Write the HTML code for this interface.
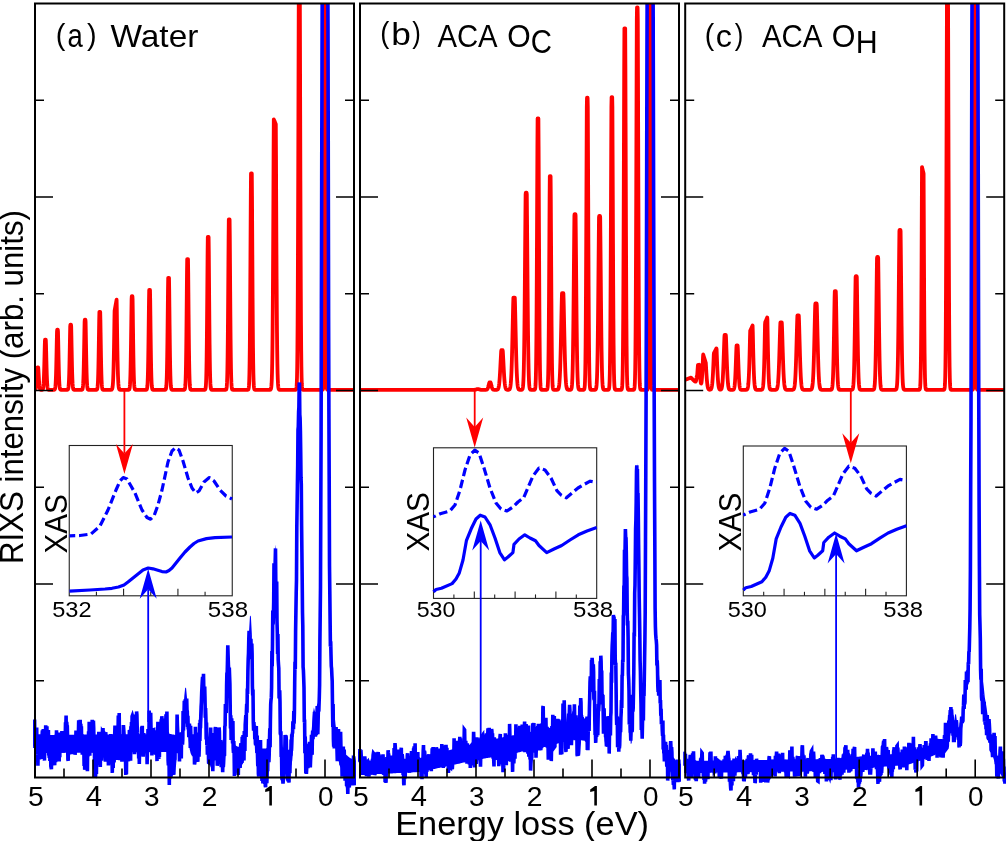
<!DOCTYPE html>
<html><head><meta charset="utf-8"><style>html,body{margin:0;padding:0;background:#fff;overflow:hidden}svg{display:block}</style></head>
<body><svg style="will-change:transform" width="1006" height="841" viewBox="0 0 1006 841">
<rect width="1006" height="841" fill="#fff"/>
<clipPath id="b0"><rect x="33.0" y="3.5" width="323.0" height="841.0"/></clipPath>
<clipPath id="b1"><rect x="358.0" y="3.5" width="323.0" height="841.0"/></clipPath>
<clipPath id="b2"><rect x="683.2" y="3.5" width="323.0" height="841.0"/></clipPath>
<clipPath id="c0"><rect x="35.0" y="3.5" width="319.0" height="774.0"/></clipPath>
<clipPath id="c1"><rect x="360.0" y="3.5" width="319.0" height="774.0"/></clipPath>
<clipPath id="c2"><rect x="685.2" y="3.5" width="319.0" height="774.0"/></clipPath>
<polyline clip-path="url(#c0)" points="34.00,389.80 34.20,389.80 34.40,389.79 34.60,389.78 34.80,389.75 35.00,389.69 35.20,389.56 35.40,389.32 35.60,388.90 35.80,388.19 36.00,387.08 36.20,385.44 36.40,383.19 36.60,380.33 36.80,376.96 37.00,373.33 37.20,369.81 37.40,367.50 37.60,367.50 37.80,367.50 38.00,367.50 38.20,367.50 38.40,369.81 38.60,373.33 38.80,376.96 39.00,380.33 39.20,383.19 39.40,385.44 39.60,387.08 39.80,388.19 40.00,388.90 40.20,389.32 40.40,389.56 40.60,389.69 40.80,389.75 41.00,389.78 41.20,389.79 41.40,389.80 41.60,389.80 41.80,389.79 42.00,389.78 42.20,389.75 42.40,389.69 42.60,389.55 42.80,389.26 43.00,388.73 43.20,387.78 43.40,386.18 43.60,383.68 43.80,380.00 44.00,374.96 44.20,368.53 44.40,360.96 44.60,352.80 44.80,344.89 45.00,339.70 45.20,339.70 45.40,339.70 45.60,339.70 45.80,339.70 46.00,344.89 46.20,352.80 46.40,360.96 46.60,368.53 46.80,374.96 47.00,380.00 47.20,383.68 47.40,386.18 47.60,387.78 47.80,388.73 48.00,389.26 48.20,389.55 48.40,389.69 48.60,389.75 48.80,389.78 49.00,389.79 49.20,389.80 49.40,389.80 49.60,389.80 49.80,389.80 50.00,389.80 50.20,389.80 50.40,389.80 50.60,389.80 50.80,389.80 51.00,389.80 51.20,389.80 51.40,389.80 51.60,389.80 51.80,389.80 52.00,389.80 52.20,389.80 52.40,389.80 52.60,389.80 52.80,389.80 53.00,389.80 53.20,389.80 53.40,389.80 53.60,389.80 53.80,389.79 54.00,389.79 54.20,389.76 54.40,389.71 54.60,389.59 54.80,389.35 55.00,388.89 55.20,388.02 55.40,386.53 55.60,384.12 55.80,380.45 56.00,375.23 56.20,368.34 56.40,359.88 56.60,350.34 56.80,340.56 57.00,331.67 57.20,329.70 57.40,329.70 57.60,329.70 57.80,329.70 58.00,331.67 58.20,340.56 58.40,350.34 58.60,359.88 58.80,368.34 59.00,375.23 59.20,380.45 59.40,384.12 59.60,386.53 59.80,388.02 60.00,388.89 60.20,389.35 60.40,389.59 60.60,389.71 60.80,389.76 61.00,389.79 61.20,389.79 61.40,389.80 61.60,389.80 61.80,389.80 62.00,389.80 62.20,389.80 62.40,389.80 62.60,389.80 62.80,389.80 63.00,389.80 63.20,389.80 63.40,389.80 63.60,389.80 63.80,389.80 64.00,389.80 64.20,389.80 64.40,389.80 64.60,389.80 64.80,389.80 65.00,389.80 65.20,389.80 65.40,389.80 65.60,389.80 65.80,389.80 66.00,389.80 66.20,389.80 66.40,389.80 66.60,389.80 66.80,389.80 67.00,389.79 67.20,389.78 67.40,389.76 67.60,389.70 67.80,389.58 68.00,389.32 68.20,388.81 68.40,387.87 68.60,386.26 68.80,383.63 69.00,379.65 69.20,374.00 69.40,366.52 69.60,357.35 69.80,346.99 70.00,336.38 70.20,326.73 70.40,324.60 70.60,324.60 70.80,324.60 71.00,324.60 71.20,326.73 71.40,336.38 71.60,346.99 71.80,357.35 72.00,366.52 72.20,374.00 72.40,379.65 72.60,383.63 72.80,386.26 73.00,387.87 73.20,388.81 73.40,389.32 73.60,389.58 73.80,389.70 74.00,389.76 74.20,389.78 74.40,389.79 74.60,389.80 74.80,389.80 75.00,389.80 75.20,389.80 75.40,389.80 75.60,389.80 75.80,389.80 76.00,389.80 76.20,389.80 76.40,389.80 76.60,389.80 76.80,389.80 77.00,389.80 77.20,389.80 77.40,389.80 77.60,389.80 77.80,389.80 78.00,389.80 78.20,389.80 78.40,389.80 78.60,389.80 78.80,389.80 79.00,389.80 79.20,389.80 79.40,389.80 79.60,389.80 79.80,389.80 80.00,389.80 80.20,389.80 80.40,389.80 80.60,389.80 80.80,389.80 81.00,389.80 81.20,389.80 81.40,389.79 81.60,389.78 81.80,389.76 82.00,389.70 82.20,389.56 82.40,389.28 82.60,388.73 82.80,387.72 83.00,385.98 83.20,383.16 83.40,378.87 83.60,372.79 83.80,364.73 84.00,354.86 84.20,343.71 84.40,332.29 84.60,321.90 84.80,319.60 85.00,319.60 85.20,319.60 85.40,319.60 85.60,321.90 85.80,332.29 86.00,343.71 86.20,354.86 86.40,364.73 86.60,372.79 86.80,378.87 87.00,383.16 87.20,385.98 87.40,387.72 87.60,388.73 87.80,389.28 88.00,389.56 88.20,389.70 88.40,389.76 88.60,389.78 88.80,389.79 89.00,389.80 89.20,389.80 89.40,389.80 89.60,389.80 89.80,389.80 90.00,389.80 90.20,389.80 90.40,389.80 90.60,389.80 90.80,389.80 91.00,389.80 91.20,389.80 91.40,389.80 91.60,389.80 91.80,389.80 92.00,389.80 92.20,389.80 92.40,389.80 92.60,389.80 92.80,389.80 93.00,389.80 93.20,389.80 93.40,389.80 93.60,389.80 93.80,389.80 94.00,389.80 94.20,389.80 94.40,389.80 94.60,389.80 94.80,389.80 95.00,389.80 95.20,389.80 95.40,389.80 95.60,389.80 95.80,389.80 96.00,389.80 96.20,389.79 96.40,389.77 96.60,389.73 96.80,389.62 97.00,389.41 97.20,388.97 97.40,388.14 97.60,386.66 97.80,384.18 98.00,380.28 98.20,374.57 98.40,366.72 98.60,356.73 98.80,344.96 99.00,332.27 99.20,319.97 99.40,311.90 99.60,311.90 99.80,311.90 100.00,311.90 100.20,311.90 100.40,319.97 100.60,332.27 100.80,344.96 101.00,356.73 101.20,366.72 101.40,374.57 101.60,380.28 101.80,384.18 102.00,386.66 102.20,388.14 102.40,388.97 102.60,389.41 102.80,389.62 103.00,389.73 103.20,389.77 103.40,389.79 103.60,389.80 103.80,389.80 104.00,389.80 104.20,389.80 104.40,389.80 104.60,389.80 104.80,389.80 105.00,389.80 105.20,389.80 105.40,389.80 105.60,389.80 105.80,389.80 106.00,389.80 106.20,389.80 106.40,389.80 106.60,389.80 106.80,389.80 107.00,389.80 107.20,389.80 107.40,389.80 107.60,389.80 107.80,389.80 108.00,389.80 108.20,389.80 108.40,389.80 108.60,389.80 108.80,389.80 109.00,389.80 109.20,389.80 109.40,389.80 109.60,389.80 109.80,389.80 110.00,389.80 110.20,389.80 110.40,389.80 110.60,389.80 110.80,389.79 111.00,389.78 111.20,389.76 111.40,389.72 111.60,389.64 111.80,389.49 112.00,389.22 112.20,388.77 112.40,388.03 112.60,386.84 112.80,385.02 113.00,382.33 113.20,378.50 113.40,373.28 113.60,366.42 113.80,357.80 114.00,347.41 114.20,335.09 114.40,321.00 114.60,310.73 114.80,309.63 115.00,308.52 115.20,307.41 115.40,306.31 115.60,305.20 115.80,304.09 116.00,302.99 116.20,301.88 116.40,300.77 116.60,299.67 116.80,309.28 117.00,324.06 117.20,338.19 117.40,350.83 117.60,361.34 117.80,369.68 118.00,376.05 118.20,380.70 118.40,383.98 118.60,386.19 118.80,387.64 119.00,388.55 119.20,389.10 119.40,389.42 119.60,389.60 119.80,389.70 120.00,389.75 120.20,389.78 120.40,389.79 120.60,389.80 120.80,389.80 121.00,389.80 121.20,389.80 121.40,389.80 121.60,389.80 121.80,389.80 122.00,389.80 122.20,389.80 122.40,389.80 122.60,389.80 122.80,389.80 123.00,389.80 123.20,389.80 123.40,389.80 123.60,389.80 123.80,389.80 124.00,389.80 124.20,389.80 124.40,389.80 124.60,389.80 124.80,389.80 125.00,389.80 125.20,389.80 125.40,389.80 125.60,389.80 125.80,389.80 126.00,389.80 126.20,389.80 126.40,389.80 126.60,389.80 126.80,389.80 127.00,389.80 127.20,389.80 127.40,389.80 127.60,389.80 127.80,389.80 128.00,389.80 128.20,389.80 128.40,389.79 128.60,389.78 128.80,389.74 129.00,389.66 129.20,389.48 129.40,389.11 129.60,388.37 129.80,387.03 130.00,384.71 130.20,380.94 130.40,375.22 130.60,367.09 130.80,356.34 131.00,343.16 131.20,328.28 131.40,313.03 131.60,299.16 131.80,296.10 132.00,296.10 132.20,296.10 132.40,296.10 132.60,299.16 132.80,313.03 133.00,328.28 133.20,343.16 133.40,356.34 133.60,367.09 133.80,375.22 134.00,380.94 134.20,384.71 134.40,387.03 134.60,388.37 134.80,389.11 135.00,389.48 135.20,389.66 135.40,389.74 135.60,389.78 135.80,389.79 136.00,389.80 136.20,389.80 136.40,389.80 136.60,389.80 136.80,389.80 137.00,389.80 137.20,389.80 137.40,389.80 137.60,389.80 137.80,389.80 138.00,389.80 138.20,389.80 138.40,389.80 138.60,389.80 138.80,389.80 139.00,389.80 139.20,389.80 139.40,389.80 139.60,389.80 139.80,389.80 140.00,389.80 140.20,389.80 140.40,389.80 140.60,389.80 140.80,389.80 141.00,389.80 141.20,389.80 141.40,389.80 141.60,389.80 141.80,389.80 142.00,389.80 142.20,389.80 142.40,389.80 142.60,389.80 142.80,389.80 143.00,389.80 143.20,389.80 143.40,389.80 143.60,389.80 143.80,389.80 144.00,389.80 144.20,389.80 144.40,389.80 144.60,389.80 144.80,389.80 145.00,389.80 145.20,389.80 145.40,389.80 145.60,389.80 145.80,389.79 146.00,389.79 146.20,389.76 146.40,389.70 146.60,389.57 146.80,389.29 147.00,388.73 147.20,387.67 147.40,385.77 147.60,382.60 147.80,377.61 148.00,370.28 148.20,360.24 148.40,347.43 148.60,332.35 148.80,316.10 149.00,300.34 149.20,290.00 149.40,290.00 149.60,290.00 149.80,290.00 150.00,290.00 150.20,300.34 150.40,316.10 150.60,332.35 150.80,347.43 151.00,360.24 151.20,370.28 151.40,377.61 151.60,382.60 151.80,385.77 152.00,387.67 152.20,388.73 152.40,389.29 152.60,389.57 152.80,389.70 153.00,389.76 153.20,389.79 153.40,389.79 153.60,389.80 153.80,389.80 154.00,389.80 154.20,389.80 154.40,389.80 154.60,389.80 154.80,389.80 155.00,389.80 155.20,389.80 155.40,389.80 155.60,389.80 155.80,389.80 156.00,389.80 156.20,389.80 156.40,389.80 156.60,389.80 156.80,389.80 157.00,389.80 157.20,389.80 157.40,389.80 157.60,389.80 157.80,389.80 158.00,389.80 158.20,389.80 158.40,389.80 158.60,389.80 158.80,389.80 159.00,389.80 159.20,389.80 159.40,389.80 159.60,389.80 159.80,389.80 160.00,389.80 160.20,389.80 160.40,389.80 160.60,389.80 160.80,389.80 161.00,389.80 161.20,389.80 161.40,389.80 161.60,389.80 161.80,389.80 162.00,389.80 162.20,389.80 162.40,389.80 162.60,389.80 162.80,389.80 163.00,389.80 163.20,389.80 163.40,389.80 163.60,389.80 163.80,389.80 164.00,389.80 164.20,389.80 164.40,389.80 164.60,389.80 164.80,389.79 165.00,389.78 165.20,389.76 165.40,389.69 165.60,389.55 165.80,389.23 166.00,388.60 166.20,387.41 166.40,385.28 166.60,381.72 166.80,376.13 167.00,367.92 167.20,356.65 167.40,342.30 167.60,325.39 167.80,307.16 168.00,289.49 168.20,277.90 168.40,277.90 168.60,277.90 168.80,277.90 169.00,277.90 169.20,289.49 169.40,307.16 169.60,325.39 169.80,342.30 170.00,356.65 170.20,367.92 170.40,376.13 170.60,381.72 170.80,385.28 171.00,387.41 171.20,388.60 171.40,389.23 171.60,389.55 171.80,389.69 172.00,389.76 172.20,389.78 172.40,389.79 172.60,389.80 172.80,389.80 173.00,389.80 173.20,389.80 173.40,389.80 173.60,389.80 173.80,389.80 174.00,389.80 174.20,389.80 174.40,389.80 174.60,389.80 174.80,389.80 175.00,389.80 175.20,389.80 175.40,389.80 175.60,389.80 175.80,389.80 176.00,389.80 176.20,389.80 176.40,389.80 176.60,389.80 176.80,389.80 177.00,389.80 177.20,389.80 177.40,389.80 177.60,389.80 177.80,389.80 178.00,389.80 178.20,389.80 178.40,389.80 178.60,389.80 178.80,389.80 179.00,389.80 179.20,389.80 179.40,389.80 179.60,389.80 179.80,389.80 180.00,389.80 180.20,389.80 180.40,389.80 180.60,389.80 180.80,389.80 181.00,389.80 181.20,389.80 181.40,389.80 181.60,389.80 181.80,389.80 182.00,389.80 182.20,389.80 182.40,389.80 182.60,389.80 182.80,389.80 183.00,389.80 183.20,389.80 183.40,389.80 183.60,389.80 183.80,389.79 184.00,389.78 184.20,389.75 184.40,389.67 184.60,389.50 184.80,389.14 185.00,388.40 185.20,387.01 185.40,384.52 185.60,380.36 185.80,373.83 186.00,364.24 186.20,351.08 186.40,334.31 186.60,314.56 186.80,293.28 187.00,272.64 187.20,259.10 187.40,259.10 187.60,259.10 187.80,259.10 188.00,259.10 188.20,272.64 188.40,293.28 188.60,314.56 188.80,334.31 189.00,351.08 189.20,364.24 189.40,373.83 189.60,380.36 189.80,384.52 190.00,387.01 190.20,388.40 190.40,389.14 190.60,389.50 190.80,389.67 191.00,389.75 191.20,389.78 191.40,389.79 191.60,389.80 191.80,389.80 192.00,389.80 192.20,389.80 192.40,389.80 192.60,389.80 192.80,389.80 193.00,389.80 193.20,389.80 193.40,389.80 193.60,389.80 193.80,389.80 194.00,389.80 194.20,389.80 194.40,389.80 194.60,389.80 194.80,389.80 195.00,389.80 195.20,389.80 195.40,389.80 195.60,389.80 195.80,389.80 196.00,389.80 196.20,389.80 196.40,389.80 196.60,389.80 196.80,389.80 197.00,389.80 197.20,389.80 197.40,389.80 197.60,389.80 197.80,389.80 198.00,389.80 198.20,389.80 198.40,389.80 198.60,389.80 198.80,389.80 199.00,389.80 199.20,389.80 199.40,389.80 199.60,389.80 199.80,389.80 200.00,389.80 200.20,389.80 200.40,389.80 200.60,389.80 200.80,389.80 201.00,389.80 201.20,389.80 201.40,389.80 201.60,389.80 201.80,389.80 202.00,389.80 202.20,389.80 202.40,389.80 202.60,389.80 202.80,389.80 203.00,389.80 203.20,389.80 203.40,389.80 203.60,389.80 203.80,389.80 204.00,389.80 204.20,389.80 204.40,389.79 204.60,389.78 204.80,389.74 205.00,389.65 205.20,389.45 205.40,389.03 205.60,388.17 205.80,386.54 206.00,383.63 206.20,378.77 206.40,371.13 206.60,359.92 206.80,344.54 207.00,324.93 207.20,301.84 207.40,276.96 207.60,252.83 207.80,237.00 208.00,237.00 208.20,237.00 208.40,237.00 208.60,237.00 208.80,252.83 209.00,276.96 209.20,301.84 209.40,324.93 209.60,344.54 209.80,359.92 210.00,371.13 210.20,378.77 210.40,383.63 210.60,386.54 210.80,388.17 211.00,389.03 211.20,389.45 211.40,389.65 211.60,389.74 211.80,389.78 212.00,389.79 212.20,389.80 212.40,389.80 212.60,389.80 212.80,389.80 213.00,389.80 213.20,389.80 213.40,389.80 213.60,389.80 213.80,389.80 214.00,389.80 214.20,389.80 214.40,389.80 214.60,389.80 214.80,389.80 215.00,389.80 215.20,389.80 215.40,389.80 215.60,389.80 215.80,389.80 216.00,389.80 216.20,389.80 216.40,389.80 216.60,389.80 216.80,389.80 217.00,389.80 217.20,389.80 217.40,389.80 217.60,389.80 217.80,389.80 218.00,389.80 218.20,389.80 218.40,389.80 218.60,389.80 218.80,389.80 219.00,389.80 219.20,389.80 219.40,389.80 219.60,389.80 219.80,389.80 220.00,389.80 220.20,389.80 220.40,389.80 220.60,389.80 220.80,389.80 221.00,389.80 221.20,389.80 221.40,389.80 221.60,389.80 221.80,389.80 222.00,389.80 222.20,389.80 222.40,389.80 222.60,389.80 222.80,389.80 223.00,389.80 223.20,389.80 223.40,389.80 223.60,389.80 223.80,389.80 224.00,389.80 224.20,389.80 224.40,389.80 224.60,389.80 224.80,389.80 225.00,389.80 225.20,389.80 225.40,389.79 225.60,389.78 225.80,389.73 226.00,389.64 226.20,389.41 226.40,388.94 226.60,387.98 226.80,386.16 227.00,382.93 227.20,377.51 227.40,369.00 227.60,356.50 227.80,339.35 228.00,317.50 228.20,291.77 228.40,264.03 228.60,237.14 228.80,219.50 229.00,219.50 229.20,219.50 229.40,219.50 229.60,219.50 229.80,237.14 230.00,264.03 230.20,291.77 230.40,317.50 230.60,339.35 230.80,356.50 231.00,369.00 231.20,377.51 231.40,382.93 231.60,386.16 231.80,387.98 232.00,388.94 232.20,389.41 232.40,389.64 232.60,389.73 232.80,389.78 233.00,389.79 233.20,389.80 233.40,389.80 233.60,389.80 233.80,389.80 234.00,389.80 234.20,389.80 234.40,389.80 234.60,389.80 234.80,389.80 235.00,389.80 235.20,389.80 235.40,389.80 235.60,389.80 235.80,389.80 236.00,389.80 236.20,389.80 236.40,389.80 236.60,389.80 236.80,389.80 237.00,389.80 237.20,389.80 237.40,389.80 237.60,389.80 237.80,389.80 238.00,389.80 238.20,389.80 238.40,389.80 238.60,389.80 238.80,389.80 239.00,389.80 239.20,389.80 239.40,389.80 239.60,389.80 239.80,389.80 240.00,389.80 240.20,389.80 240.40,389.80 240.60,389.80 240.80,389.80 241.00,389.80 241.20,389.80 241.40,389.80 241.60,389.80 241.80,389.80 242.00,389.80 242.20,389.80 242.40,389.80 242.60,389.80 242.80,389.80 243.00,389.80 243.20,389.80 243.40,389.80 243.60,389.80 243.80,389.80 244.00,389.80 244.20,389.80 244.40,389.80 244.60,389.80 244.80,389.80 245.00,389.80 245.20,389.80 245.40,389.80 245.60,389.80 245.80,389.80 246.00,389.80 246.20,389.80 246.40,389.80 246.60,389.80 246.80,389.80 247.00,389.80 247.20,389.80 247.40,389.80 247.60,389.79 247.80,389.77 248.00,389.72 248.20,389.59 248.40,389.31 248.60,388.70 248.80,387.49 249.00,385.18 249.20,381.07 249.40,374.18 249.60,363.38 249.80,347.50 250.00,325.73 250.20,297.97 250.40,265.29 250.60,230.06 250.80,195.91 251.00,173.50 251.20,173.50 251.40,173.50 251.60,173.50 251.80,173.50 252.00,195.91 252.20,230.06 252.40,265.29 252.60,297.97 252.80,325.73 253.00,347.50 253.20,363.38 253.40,374.18 253.60,381.07 253.80,385.18 254.00,387.49 254.20,388.70 254.40,389.31 254.60,389.59 254.80,389.72 255.00,389.77 255.20,389.79 255.40,389.80 255.60,389.80 255.80,389.80 256.00,389.80 256.20,389.80 256.40,389.80 256.60,389.80 256.80,389.80 257.00,389.80 257.20,389.80 257.40,389.80 257.60,389.80 257.80,389.80 258.00,389.80 258.20,389.80 258.40,389.80 258.60,389.80 258.80,389.80 259.00,389.80 259.20,389.80 259.40,389.80 259.60,389.80 259.80,389.80 260.00,389.80 260.20,389.80 260.40,389.80 260.60,389.80 260.80,389.80 261.00,389.80 261.20,389.80 261.40,389.80 261.60,389.80 261.80,389.80 262.00,389.80 262.20,389.80 262.40,389.80 262.60,389.80 262.80,389.80 263.00,389.80 263.20,389.80 263.40,389.80 263.60,389.80 263.80,389.80 264.00,389.80 264.20,389.80 264.40,389.80 264.60,389.80 264.80,389.80 265.00,389.80 265.20,389.80 265.40,389.80 265.60,389.80 265.80,389.80 266.00,389.80 266.20,389.80 266.40,389.80 266.60,389.80 266.80,389.80 267.00,389.80 267.20,389.80 267.40,389.80 267.60,389.80 267.80,389.80 268.00,389.80 268.20,389.80 268.40,389.80 268.60,389.80 268.80,389.80 269.00,389.80 269.20,389.80 269.40,389.80 269.60,389.79 269.80,389.79 270.00,389.77 270.20,389.73 270.40,389.65 270.60,389.50 270.80,389.22 271.00,388.69 271.20,387.75 271.40,386.14 271.60,383.48 271.80,379.26 272.00,372.78 272.20,363.20 272.40,349.59 272.60,330.99 272.80,306.58 273.00,275.88 273.20,238.92 273.40,196.63 273.60,150.75 273.80,119.38 274.00,119.86 274.20,120.33 274.40,120.80 274.60,121.28 274.80,121.75 275.00,122.22 275.20,122.70 275.40,123.17 275.60,123.64 275.80,124.12 276.00,155.76 276.20,201.35 276.40,242.86 276.60,278.86 276.80,308.76 277.00,332.53 277.20,350.64 277.40,363.89 277.60,373.22 277.80,379.53 278.00,383.65 278.20,386.24 278.40,387.80 278.60,388.72 278.80,389.23 279.00,389.51 279.20,389.66 279.40,389.73 279.60,389.77 279.80,389.79 280.00,389.79 280.20,389.80 280.40,389.80 280.60,389.80 280.80,389.80 281.00,389.80 281.20,389.80 281.40,389.80 281.60,389.80 281.80,389.80 282.00,389.80 282.20,389.80 282.40,389.80 282.60,389.80 282.80,389.80 283.00,389.80 283.20,389.80 283.40,389.80 283.60,389.80 283.80,389.80 284.00,389.80 284.20,389.80 284.40,389.80 284.60,389.80 284.80,389.80 285.00,389.80 285.20,389.80 285.40,389.80 285.60,389.80 285.80,389.80 286.00,389.80 286.20,389.80 286.40,389.80 286.60,389.80 286.80,389.80 287.00,389.80 287.20,389.80 287.40,389.80 287.60,389.80 287.80,389.80 288.00,389.80 288.20,389.80 288.40,389.80 288.60,389.80 288.80,389.80 289.00,389.80 289.20,389.80 289.40,389.80 289.60,389.80 289.80,389.80 290.00,389.80 290.20,389.80 290.40,389.80 290.60,389.80 290.80,389.80 291.00,389.80 291.20,389.80 291.40,389.80 291.60,389.80 291.80,389.80 292.00,389.80 292.20,389.80 292.40,389.80 292.60,389.80 292.80,389.80 293.00,389.80 293.20,389.80 293.40,389.80 293.60,389.80 293.80,389.80 294.00,389.80 294.20,389.80 294.40,389.80 294.60,389.80 294.80,389.80 295.00,389.80 295.20,389.80 295.40,389.79 295.60,389.76 295.80,389.70 296.00,389.54 296.20,389.18 296.40,388.37 296.60,386.70 296.80,383.44 297.00,377.43 297.20,367.06 297.40,350.25 297.60,324.70 297.80,288.42 298.00,240.43 298.20,181.58 298.40,115.17 298.60,47.10 298.80,-14.82 299.00,-28.50 299.20,-28.50 299.40,-28.50 299.60,-28.50 299.80,-14.82 300.00,47.10 300.20,115.17 300.40,181.58 300.60,240.43 300.80,288.42 301.00,324.70 301.20,350.25 301.40,367.06 301.60,377.43 301.80,383.44 302.00,386.70 302.20,388.37 302.40,389.18 302.60,389.54 302.80,389.70 303.00,389.76 303.20,389.79 303.40,389.80 303.60,389.80 303.80,389.80 304.00,389.80 304.20,389.80 304.40,389.80 304.60,389.80 304.80,389.80 305.00,389.80 305.20,389.80 305.40,389.80 305.60,389.80 305.80,389.80 306.00,389.80 306.20,389.80 306.40,389.80 306.60,389.80 306.80,389.80 307.00,389.80 307.20,389.80 307.40,389.80 307.60,389.80 307.80,389.80 308.00,389.80 308.20,389.80 308.40,389.80 308.60,389.80 308.80,389.80 309.00,389.80 309.20,389.80 309.40,389.80 309.60,389.80 309.80,389.80 310.00,389.80 310.20,389.80 310.40,389.80 310.60,389.80 310.80,389.80 311.00,389.80 311.20,389.80 311.40,389.80 311.60,389.80 311.80,389.80 312.00,389.80 312.20,389.80 312.40,389.80 312.60,389.80 312.80,389.80 313.00,389.80 313.20,389.80 313.40,389.80 313.60,389.80 313.80,389.80 314.00,389.80 314.20,389.80 314.40,389.80 314.60,389.80 314.80,389.80 315.00,389.80 315.20,389.80 315.40,389.80 315.60,389.80 315.80,389.80 316.00,389.80 316.20,389.80 316.40,389.80 316.60,389.80 316.80,389.80 317.00,389.80 317.20,389.80 317.40,389.80 317.60,389.80 317.80,389.80 318.00,389.80 318.20,389.80 318.40,389.80 318.60,389.80 318.80,389.80 319.00,389.80 319.20,389.80 319.40,389.80 319.60,389.80 319.80,389.80 320.00,389.80 320.20,389.80 320.40,389.80 320.60,389.80 320.80,389.80 321.00,389.80 321.20,389.80 321.40,389.80 321.60,389.80 321.80,389.80 322.00,389.80 322.20,389.80 322.40,389.79 322.60,389.76 322.80,389.63 323.00,389.14 323.20,387.47 323.40,382.64 323.60,370.50 323.80,344.22 324.00,295.48 324.20,218.79 324.40,118.14 324.60,11.71 324.80,-38.50 325.00,-38.50 325.20,-38.50 325.40,11.71 325.60,118.14 325.80,218.79 326.00,295.48 326.20,344.22 326.40,370.50 326.60,382.64 326.80,387.47 327.00,389.14 327.20,389.63 327.40,389.76 327.60,389.79 327.80,389.80 328.00,389.80 328.20,389.80 328.40,389.80 328.60,389.80 328.80,389.80 329.00,389.80 329.20,389.80 329.40,389.80 329.60,389.80 329.80,389.80 330.00,389.80 330.20,389.80 330.40,389.80 330.60,389.80 330.80,389.80 331.00,389.80 331.20,389.80 331.40,389.80 331.60,389.80 331.80,389.80 332.00,389.80 332.20,389.80 332.40,389.80 332.60,389.80 332.80,389.80 333.00,389.80 333.20,389.80 333.40,389.80 333.60,389.80 333.80,389.80 334.00,389.80 334.20,389.80 334.40,389.80 334.60,389.80 334.80,389.80 335.00,389.80 335.20,389.80 335.40,389.80 335.60,389.80 335.80,389.80 336.00,389.80 336.20,389.80 336.40,389.80 336.60,389.80 336.80,389.80 337.00,389.80 337.20,389.80 337.40,389.80 337.60,389.80 337.80,389.80 338.00,389.80 338.20,389.80 338.40,389.80 338.60,389.80 338.80,389.80 339.00,389.80 339.20,389.80 339.40,389.80 339.60,389.80 339.80,389.80 340.00,389.80 340.20,389.80 340.40,389.80 340.60,389.80 340.80,389.80 341.00,389.80 341.20,389.80 341.40,389.80 341.60,389.80 341.80,389.80 342.00,389.80 342.20,389.80 342.40,389.80 342.60,389.80 342.80,389.80 343.00,389.80 343.20,389.80 343.40,389.80 343.60,389.80 343.80,389.80 344.00,389.80 344.20,389.80 344.40,389.80 344.60,389.80 344.80,389.80 345.00,389.80 345.20,389.80 345.40,389.80 345.60,389.80 345.80,389.80 346.00,389.80 346.20,389.80 346.40,389.80 346.60,389.80 346.80,389.80 347.00,389.80 347.20,389.80 347.40,389.80 347.60,389.80 347.80,389.80 348.00,389.80 348.20,389.80 348.40,389.80 348.60,389.80 348.80,389.80 349.00,389.80 349.20,389.80 349.40,389.80 349.60,389.80 349.80,389.80 350.00,389.80 350.20,389.80 350.40,389.80 350.60,389.80 350.80,389.80 351.00,389.80 351.20,389.80 351.40,389.80 351.60,389.80 351.80,389.80 352.00,389.80 352.20,389.80 352.40,389.80 352.60,389.80 352.80,389.80 353.00,389.80 353.20,389.80 353.40,389.80 353.60,389.80 353.80,389.80 354.00,389.80 354.20,389.80 354.40,389.80 354.60,389.80 354.80,389.80 355.00,389.80" fill="none" stroke="#f00" stroke-width="3.8" stroke-linejoin="round"/>
<polyline clip-path="url(#c1)" points="359.00,389.80 359.20,389.80 359.40,389.80 359.60,389.80 359.80,389.80 360.00,389.80 360.20,389.80 360.40,389.80 360.60,389.80 360.80,389.80 361.00,389.80 361.20,389.80 361.40,389.80 361.60,389.80 361.80,389.80 362.00,389.80 362.20,389.80 362.40,389.80 362.60,389.80 362.80,389.80 363.00,389.80 363.20,389.80 363.40,389.80 363.60,389.80 363.80,389.80 364.00,389.80 364.20,389.80 364.40,389.80 364.60,389.80 364.80,389.80 365.00,389.80 365.20,389.80 365.40,389.80 365.60,389.80 365.80,389.80 366.00,389.80 366.20,389.80 366.40,389.80 366.60,389.80 366.80,389.80 367.00,389.80 367.20,389.80 367.40,389.80 367.60,389.80 367.80,389.80 368.00,389.80 368.20,389.80 368.40,389.80 368.60,389.80 368.80,389.80 369.00,389.80 369.20,389.80 369.40,389.80 369.60,389.80 369.80,389.80 370.00,389.80 370.20,389.80 370.40,389.80 370.60,389.80 370.80,389.80 371.00,389.80 371.20,389.80 371.40,389.80 371.60,389.80 371.80,389.80 372.00,389.80 372.20,389.80 372.40,389.80 372.60,389.80 372.80,389.80 373.00,389.80 373.20,389.80 373.40,389.80 373.60,389.80 373.80,389.80 374.00,389.80 374.20,389.80 374.40,389.80 374.60,389.80 374.80,389.80 375.00,389.80 375.20,389.80 375.40,389.80 375.60,389.80 375.80,389.80 376.00,389.80 376.20,389.80 376.40,389.80 376.60,389.80 376.80,389.80 377.00,389.80 377.20,389.80 377.40,389.80 377.60,389.80 377.80,389.80 378.00,389.80 378.20,389.80 378.40,389.80 378.60,389.80 378.80,389.80 379.00,389.80 379.20,389.80 379.40,389.80 379.60,389.80 379.80,389.80 380.00,389.80 380.20,389.80 380.40,389.80 380.60,389.80 380.80,389.80 381.00,389.80 381.20,389.80 381.40,389.80 381.60,389.80 381.80,389.80 382.00,389.80 382.20,389.80 382.40,389.80 382.60,389.80 382.80,389.80 383.00,389.80 383.20,389.80 383.40,389.80 383.60,389.80 383.80,389.80 384.00,389.80 384.20,389.80 384.40,389.80 384.60,389.80 384.80,389.80 385.00,389.80 385.20,389.80 385.40,389.80 385.60,389.80 385.80,389.80 386.00,389.80 386.20,389.80 386.40,389.80 386.60,389.80 386.80,389.80 387.00,389.80 387.20,389.80 387.40,389.80 387.60,389.80 387.80,389.80 388.00,389.80 388.20,389.80 388.40,389.80 388.60,389.80 388.80,389.80 389.00,389.80 389.20,389.80 389.40,389.80 389.60,389.80 389.80,389.80 390.00,389.80 390.20,389.80 390.40,389.80 390.60,389.80 390.80,389.80 391.00,389.80 391.20,389.80 391.40,389.80 391.60,389.80 391.80,389.80 392.00,389.80 392.20,389.80 392.40,389.80 392.60,389.80 392.80,389.80 393.00,389.80 393.20,389.80 393.40,389.80 393.60,389.80 393.80,389.80 394.00,389.80 394.20,389.80 394.40,389.80 394.60,389.80 394.80,389.80 395.00,389.80 395.20,389.80 395.40,389.80 395.60,389.80 395.80,389.80 396.00,389.80 396.20,389.80 396.40,389.80 396.60,389.80 396.80,389.80 397.00,389.80 397.20,389.80 397.40,389.80 397.60,389.80 397.80,389.80 398.00,389.80 398.20,389.80 398.40,389.80 398.60,389.80 398.80,389.80 399.00,389.80 399.20,389.80 399.40,389.80 399.60,389.80 399.80,389.80 400.00,389.80 400.20,389.80 400.40,389.80 400.60,389.80 400.80,389.80 401.00,389.80 401.20,389.80 401.40,389.80 401.60,389.80 401.80,389.80 402.00,389.80 402.20,389.80 402.40,389.80 402.60,389.80 402.80,389.80 403.00,389.80 403.20,389.80 403.40,389.80 403.60,389.80 403.80,389.80 404.00,389.80 404.20,389.80 404.40,389.80 404.60,389.80 404.80,389.80 405.00,389.80 405.20,389.80 405.40,389.80 405.60,389.80 405.80,389.80 406.00,389.80 406.20,389.80 406.40,389.80 406.60,389.80 406.80,389.80 407.00,389.80 407.20,389.80 407.40,389.80 407.60,389.80 407.80,389.80 408.00,389.80 408.20,389.80 408.40,389.80 408.60,389.80 408.80,389.80 409.00,389.80 409.20,389.80 409.40,389.80 409.60,389.80 409.80,389.80 410.00,389.80 410.20,389.80 410.40,389.80 410.60,389.80 410.80,389.80 411.00,389.80 411.20,389.80 411.40,389.80 411.60,389.80 411.80,389.80 412.00,389.80 412.20,389.80 412.40,389.80 412.60,389.80 412.80,389.80 413.00,389.80 413.20,389.80 413.40,389.80 413.60,389.80 413.80,389.80 414.00,389.80 414.20,389.80 414.40,389.80 414.60,389.80 414.80,389.80 415.00,389.80 415.20,389.80 415.40,389.80 415.60,389.80 415.80,389.80 416.00,389.80 416.20,389.80 416.40,389.80 416.60,389.80 416.80,389.80 417.00,389.80 417.20,389.80 417.40,389.80 417.60,389.80 417.80,389.80 418.00,389.80 418.20,389.80 418.40,389.80 418.60,389.80 418.80,389.80 419.00,389.80 419.20,389.80 419.40,389.80 419.60,389.80 419.80,389.80 420.00,389.80 420.20,389.80 420.40,389.80 420.60,389.80 420.80,389.80 421.00,389.80 421.20,389.80 421.40,389.80 421.60,389.80 421.80,389.80 422.00,389.80 422.20,389.80 422.40,389.80 422.60,389.80 422.80,389.80 423.00,389.80 423.20,389.80 423.40,389.80 423.60,389.80 423.80,389.80 424.00,389.80 424.20,389.80 424.40,389.80 424.60,389.80 424.80,389.80 425.00,389.80 425.20,389.80 425.40,389.80 425.60,389.80 425.80,389.80 426.00,389.80 426.20,389.80 426.40,389.80 426.60,389.80 426.80,389.80 427.00,389.80 427.20,389.80 427.40,389.80 427.60,389.80 427.80,389.80 428.00,389.80 428.20,389.80 428.40,389.80 428.60,389.80 428.80,389.80 429.00,389.80 429.20,389.80 429.40,389.80 429.60,389.80 429.80,389.80 430.00,389.80 430.20,389.80 430.40,389.80 430.60,389.80 430.80,389.80 431.00,389.80 431.20,389.80 431.40,389.80 431.60,389.80 431.80,389.80 432.00,389.80 432.20,389.80 432.40,389.80 432.60,389.80 432.80,389.80 433.00,389.80 433.20,389.80 433.40,389.80 433.60,389.80 433.80,389.80 434.00,389.80 434.20,389.80 434.40,389.80 434.60,389.80 434.80,389.80 435.00,389.80 435.20,389.80 435.40,389.80 435.60,389.80 435.80,389.80 436.00,389.80 436.20,389.80 436.40,389.80 436.60,389.80 436.80,389.80 437.00,389.80 437.20,389.80 437.40,389.80 437.60,389.80 437.80,389.80 438.00,389.80 438.20,389.80 438.40,389.80 438.60,389.80 438.80,389.80 439.00,389.80 439.20,389.80 439.40,389.80 439.60,389.80 439.80,389.80 440.00,389.80 440.20,389.80 440.40,389.80 440.60,389.80 440.80,389.80 441.00,389.80 441.20,389.80 441.40,389.80 441.60,389.80 441.80,389.80 442.00,389.80 442.20,389.80 442.40,389.80 442.60,389.80 442.80,389.80 443.00,389.80 443.20,389.80 443.40,389.80 443.60,389.80 443.80,389.80 444.00,389.80 444.20,389.80 444.40,389.80 444.60,389.80 444.80,389.80 445.00,389.80 445.20,389.80 445.40,389.80 445.60,389.80 445.80,389.80 446.00,389.80 446.20,389.80 446.40,389.80 446.60,389.80 446.80,389.80 447.00,389.80 447.20,389.80 447.40,389.80 447.60,389.80 447.80,389.80 448.00,389.80 448.20,389.80 448.40,389.80 448.60,389.80 448.80,389.80 449.00,389.80 449.20,389.80 449.40,389.80 449.60,389.80 449.80,389.80 450.00,389.80 450.20,389.80 450.40,389.80 450.60,389.80 450.80,389.80 451.00,389.80 451.20,389.80 451.40,389.80 451.60,389.80 451.80,389.80 452.00,389.80 452.20,389.80 452.40,389.80 452.60,389.80 452.80,389.80 453.00,389.80 453.20,389.80 453.40,389.80 453.60,389.80 453.80,389.80 454.00,389.80 454.20,389.80 454.40,389.80 454.60,389.80 454.80,389.80 455.00,389.80 455.20,389.80 455.40,389.80 455.60,389.80 455.80,389.80 456.00,389.80 456.20,389.80 456.40,389.80 456.60,389.80 456.80,389.80 457.00,389.80 457.20,389.80 457.40,389.80 457.60,389.80 457.80,389.80 458.00,389.80 458.20,389.80 458.40,389.80 458.60,389.80 458.80,389.80 459.00,389.80 459.20,389.80 459.40,389.80 459.60,389.80 459.80,389.80 460.00,389.80 460.20,389.80 460.40,389.80 460.60,389.80 460.80,389.80 461.00,389.80 461.20,389.80 461.40,389.80 461.60,389.80 461.80,389.80 462.00,389.80 462.20,389.80 462.40,389.80 462.60,389.80 462.80,389.80 463.00,389.80 463.20,389.80 463.40,389.80 463.60,389.80 463.80,389.80 464.00,389.80 464.20,389.80 464.40,389.80 464.60,389.80 464.80,389.80 465.00,389.80 465.20,389.80 465.40,389.80 465.60,389.80 465.80,389.80 466.00,389.80 466.20,389.80 466.40,389.80 466.60,389.80 466.80,389.80 467.00,389.80 467.20,389.80 467.40,389.80 467.60,389.80 467.80,389.80 468.00,389.80 468.20,389.80 468.40,389.80 468.60,389.80 468.80,389.80 469.00,389.80 469.20,389.80 469.40,389.80 469.60,389.80 469.80,389.80 470.00,389.80 470.20,389.80 470.40,389.80 470.60,389.80 470.80,389.80 471.00,389.80 471.20,389.80 471.40,389.80 471.60,389.80 471.80,389.80 472.00,389.80 472.20,389.80 472.40,389.80 472.60,389.80 472.80,389.80 473.00,389.80 473.20,389.80 473.40,389.80 473.60,389.80 473.80,389.80 474.00,389.79 474.20,389.79 474.40,389.79 474.60,389.78 474.80,389.76 475.00,389.75 475.20,389.72 475.40,389.69 475.60,389.65 475.80,389.60 476.00,389.54 476.20,389.47 476.40,389.39 476.60,389.31 476.80,389.23 477.00,389.16 477.20,389.10 477.40,389.10 477.60,389.10 477.80,389.10 478.00,389.10 478.20,389.10 478.40,389.10 478.60,389.16 478.80,389.23 479.00,389.31 479.20,389.39 479.40,389.47 479.60,389.54 479.80,389.60 480.00,389.65 480.20,389.69 480.40,389.72 480.60,389.75 480.80,389.76 481.00,389.78 481.20,389.79 481.40,389.79 481.60,389.79 481.80,389.80 482.00,389.80 482.20,389.80 482.40,389.80 482.60,389.80 482.80,389.80 483.00,389.80 483.20,389.80 483.40,389.80 483.60,389.80 483.80,389.80 484.00,389.80 484.20,389.80 484.40,389.80 484.60,389.80 484.80,389.80 485.00,389.80 485.20,389.80 485.40,389.79 485.60,389.79 485.80,389.78 486.00,389.77 486.20,389.74 486.40,389.71 486.60,389.65 486.80,389.56 487.00,389.43 487.20,389.25 487.40,389.00 487.60,388.66 487.80,388.24 488.00,387.71 488.20,387.07 488.40,386.35 488.60,385.55 488.80,384.71 489.00,383.87 489.20,383.08 489.40,382.50 489.60,382.50 489.80,382.50 490.00,382.50 490.20,382.50 490.40,382.50 490.60,382.50 490.80,383.08 491.00,383.87 491.20,384.71 491.40,385.55 491.60,386.35 491.80,387.07 492.00,387.71 492.20,388.24 492.40,388.66 492.60,389.00 492.80,389.25 493.00,389.43 493.20,389.56 493.40,389.65 493.60,389.71 493.80,389.74 494.00,389.77 494.20,389.78 494.40,389.79 494.60,389.79 494.80,389.80 495.00,389.80 495.20,389.80 495.40,389.80 495.60,389.80 495.80,389.80 496.00,389.80 496.20,389.79 496.40,389.78 496.60,389.77 496.80,389.75 497.00,389.72 497.20,389.67 497.40,389.59 497.60,389.47 497.80,389.29 498.00,389.03 498.20,388.66 498.40,388.13 498.60,387.41 498.80,386.46 499.00,385.22 499.20,383.64 499.40,381.68 499.60,379.32 499.80,376.55 500.00,373.39 500.20,369.87 500.40,366.10 500.60,362.18 500.80,358.26 501.00,354.51 501.20,351.12 501.40,350.20 501.60,350.20 501.80,350.20 502.00,350.20 502.20,350.20 502.40,350.20 502.60,350.20 502.80,351.12 503.00,354.51 503.20,358.26 503.40,362.18 503.60,366.10 503.80,369.87 504.00,373.39 504.20,376.55 504.40,379.32 504.60,381.68 504.80,383.64 505.00,385.22 505.20,386.46 505.40,387.41 505.60,388.13 505.80,388.66 506.00,389.03 506.20,389.29 506.40,389.47 506.60,389.59 506.80,389.67 507.00,389.72 507.20,389.75 507.40,389.77 507.60,389.78 507.80,389.79 508.00,389.79 508.20,389.78 508.40,389.77 508.60,389.75 508.80,389.72 509.00,389.66 509.20,389.57 509.40,389.42 509.60,389.19 509.80,388.85 510.00,388.34 510.20,387.61 510.40,386.57 510.60,385.14 510.80,383.21 511.00,380.66 511.20,377.39 511.40,373.29 511.60,368.27 511.80,362.30 512.00,355.38 512.20,347.58 512.40,339.07 512.60,330.08 512.80,320.90 513.00,311.93 513.20,303.56 513.40,297.60 513.60,297.60 513.80,297.60 514.00,297.60 514.20,297.60 514.40,297.60 514.60,297.60 514.80,297.60 515.00,303.56 515.20,311.93 515.40,320.90 515.60,330.08 515.80,339.07 516.00,347.58 516.20,355.38 516.40,362.30 516.60,368.27 516.80,373.29 517.00,377.39 517.20,380.66 517.40,383.21 517.60,385.14 517.80,386.57 518.00,387.61 518.20,388.34 518.40,388.85 518.60,389.19 518.80,389.42 519.00,389.57 519.20,389.66 519.40,389.72 519.60,389.75 519.80,389.77 520.00,389.79 520.20,389.79 520.40,389.80 520.60,389.80 520.80,389.80 521.00,389.80 521.20,389.79 521.40,389.78 521.60,389.76 521.80,389.72 522.00,389.65 522.20,389.50 522.40,389.22 522.60,388.73 522.80,387.89 523.00,386.51 523.20,384.30 523.40,380.92 523.60,375.93 523.80,368.83 524.00,359.12 524.20,346.39 524.40,330.38 524.60,311.10 524.80,288.96 525.00,264.79 525.20,239.86 525.40,215.81 525.60,194.47 525.80,192.70 526.00,192.70 526.20,192.70 526.40,192.70 526.60,192.70 526.80,194.47 527.00,215.81 527.20,239.86 527.40,264.79 527.60,288.96 527.80,311.10 528.00,330.38 528.20,346.39 528.40,359.12 528.60,368.83 528.80,375.93 529.00,380.92 529.20,384.30 529.40,386.51 529.60,387.89 529.80,388.73 530.00,389.22 530.20,389.50 530.40,389.65 530.60,389.72 530.80,389.76 531.00,389.78 531.20,389.79 531.40,389.80 531.60,389.80 531.80,389.80 532.00,389.80 532.20,389.80 532.40,389.80 532.60,389.80 532.80,389.80 533.00,389.80 533.20,389.80 533.40,389.80 533.60,389.80 533.80,389.80 534.00,389.80 534.20,389.79 534.40,389.76 534.60,389.70 534.80,389.54 535.00,389.18 535.20,388.43 535.40,386.90 535.60,384.00 535.80,378.84 536.00,370.21 536.20,356.65 536.40,336.72 536.60,309.40 536.80,274.58 537.00,233.57 537.20,189.37 537.40,146.52 537.60,118.40 537.80,118.40 538.00,118.40 538.20,118.40 538.40,118.40 538.60,146.52 538.80,189.37 539.00,233.57 539.20,274.58 539.40,309.40 539.60,336.72 539.80,356.65 540.00,370.21 540.20,378.84 540.40,384.00 540.60,386.90 540.80,388.43 541.00,389.18 541.20,389.54 541.40,389.70 541.60,389.76 541.80,389.79 542.00,389.80 542.20,389.80 542.40,389.80 542.60,389.80 542.80,389.80 543.00,389.80 543.20,389.80 543.40,389.80 543.60,389.80 543.80,389.80 544.00,389.80 544.20,389.80 544.40,389.80 544.60,389.80 544.80,389.80 545.00,389.80 545.20,389.80 545.40,389.80 545.60,389.80 545.80,389.80 546.00,389.80 546.20,389.80 546.40,389.79 546.60,389.77 546.80,389.72 547.00,389.59 547.20,389.32 547.40,388.72 547.60,387.52 547.80,385.24 548.00,381.18 548.20,374.38 548.40,363.71 548.60,348.03 548.80,326.53 549.00,299.12 549.20,266.84 549.40,232.06 549.60,198.33 549.80,176.20 550.00,176.20 550.20,176.20 550.40,176.20 550.60,176.20 550.80,198.33 551.00,232.06 551.20,266.84 551.40,299.12 551.60,326.53 551.80,348.03 552.00,363.71 552.20,374.38 552.40,381.18 552.60,385.24 552.80,387.52 553.00,388.72 553.20,389.32 553.40,389.59 553.60,389.72 553.80,389.77 554.00,389.79 554.20,389.80 554.40,389.80 554.60,389.80 554.80,389.80 555.00,389.80 555.20,389.80 555.40,389.80 555.60,389.80 555.80,389.80 556.00,389.80 556.20,389.80 556.40,389.80 556.60,389.79 556.80,389.78 557.00,389.77 557.20,389.75 557.40,389.71 557.60,389.65 557.80,389.56 558.00,389.40 558.20,389.17 558.40,388.81 558.60,388.27 558.80,387.51 559.00,386.42 559.20,384.92 559.40,382.89 559.60,380.23 559.80,376.80 560.00,372.50 560.20,367.25 560.40,360.99 560.60,353.73 560.80,345.57 561.00,336.65 561.20,327.23 561.40,317.62 561.60,308.21 561.80,299.45 562.00,293.20 562.20,293.20 562.40,293.20 562.60,293.20 562.80,293.20 563.00,293.20 563.20,293.20 563.40,293.20 563.60,299.45 563.80,308.21 564.00,317.62 564.20,327.23 564.40,336.65 564.60,345.57 564.80,353.73 565.00,360.99 565.20,367.25 565.40,372.50 565.60,376.80 565.80,380.23 566.00,382.89 566.20,384.92 566.40,386.42 566.60,387.51 566.80,388.27 567.00,388.81 567.20,389.17 567.40,389.40 567.60,389.56 567.80,389.65 568.00,389.71 568.20,389.75 568.40,389.77 568.60,389.78 568.80,389.79 569.00,389.80 569.20,389.80 569.40,389.80 569.60,389.80 569.80,389.80 570.00,389.79 570.20,389.79 570.40,389.77 570.60,389.73 570.80,389.66 571.00,389.53 571.20,389.28 571.40,388.85 571.60,388.10 571.80,386.86 572.00,384.90 572.20,381.88 572.40,377.43 572.60,371.10 572.80,362.45 573.00,351.11 573.20,336.83 573.40,319.65 573.60,299.91 573.80,278.36 574.00,256.14 574.20,234.70 574.40,215.67 574.60,214.10 574.80,214.10 575.00,214.10 575.20,214.10 575.40,214.10 575.60,215.67 575.80,234.70 576.00,256.14 576.20,278.36 576.40,299.91 576.60,319.65 576.80,336.83 577.00,351.11 577.20,362.45 577.40,371.10 577.60,377.43 577.80,381.88 578.00,384.90 578.20,386.86 578.40,388.10 578.60,388.85 578.80,389.28 579.00,389.53 579.20,389.66 579.40,389.73 579.60,389.77 579.80,389.79 580.00,389.79 580.20,389.80 580.40,389.80 580.60,389.80 580.80,389.80 581.00,389.80 581.20,389.80 581.40,389.80 581.60,389.80 581.80,389.80 582.00,389.80 582.20,389.80 582.40,389.80 582.60,389.80 582.80,389.80 583.00,389.80 583.20,389.80 583.40,389.79 583.60,389.77 583.80,389.73 584.00,389.62 584.20,389.37 584.40,388.80 584.60,387.64 584.80,385.36 585.00,381.16 585.20,373.92 585.40,362.18 585.60,344.34 585.80,319.01 586.00,285.50 586.20,244.40 586.40,198.03 586.60,150.49 586.80,107.25 587.00,97.70 587.20,97.70 587.40,97.70 587.60,97.70 587.80,107.25 588.00,150.49 588.20,198.03 588.40,244.40 588.60,285.50 588.80,319.01 589.00,344.34 589.20,362.18 589.40,373.92 589.60,381.16 589.80,385.36 590.00,387.64 590.20,388.80 590.40,389.37 590.60,389.62 590.80,389.73 591.00,389.77 591.20,389.79 591.40,389.80 591.60,389.80 591.80,389.80 592.00,389.80 592.20,389.80 592.40,389.80 592.60,389.80 592.80,389.80 593.00,389.80 593.20,389.80 593.40,389.80 593.60,389.80 593.80,389.80 594.00,389.80 594.20,389.80 594.40,389.80 594.60,389.79 594.80,389.79 595.00,389.77 595.20,389.73 595.40,389.66 595.60,389.53 595.80,389.29 596.00,388.86 596.20,388.12 596.40,386.90 596.60,384.95 596.80,381.97 597.00,377.57 597.20,371.30 597.40,362.75 597.60,351.53 597.80,337.40 598.00,320.40 598.20,300.88 598.40,279.56 598.60,257.58 598.80,236.38 599.00,217.56 599.20,216.00 599.40,216.00 599.60,216.00 599.80,216.00 600.00,216.00 600.20,217.56 600.40,236.38 600.60,257.58 600.80,279.56 601.00,300.88 601.20,320.40 601.40,337.40 601.60,351.53 601.80,362.75 602.00,371.30 602.20,377.57 602.40,381.97 602.60,384.95 602.80,386.90 603.00,388.12 603.20,388.86 603.40,389.29 603.60,389.53 603.80,389.66 604.00,389.73 604.20,389.77 604.40,389.79 604.60,389.79 604.80,389.80 605.00,389.80 605.20,389.80 605.40,389.80 605.60,389.80 605.80,389.80 606.00,389.80 606.20,389.80 606.40,389.80 606.60,389.80 606.80,389.80 607.00,389.80 607.20,389.80 607.40,389.80 607.60,389.80 607.80,389.80 608.00,389.79 608.20,389.77 608.40,389.73 608.60,389.62 608.80,389.36 609.00,388.80 609.20,387.63 609.40,385.35 609.60,381.15 609.80,373.89 610.00,362.12 610.20,344.25 610.40,318.86 610.60,285.28 610.80,244.10 611.00,197.63 611.20,150.00 611.40,106.67 611.60,97.10 611.80,97.10 612.00,97.10 612.20,97.10 612.40,106.67 612.60,150.00 612.80,197.63 613.00,244.10 613.20,285.28 613.40,318.86 613.60,344.25 613.80,362.12 614.00,373.89 614.20,381.15 614.40,385.35 614.60,387.63 614.80,388.80 615.00,389.36 615.20,389.62 615.40,389.73 615.60,389.77 615.80,389.79 616.00,389.80 616.20,389.80 616.40,389.80 616.60,389.80 616.80,389.80 617.00,389.80 617.20,389.80 617.40,389.80 617.60,389.80 617.80,389.80 618.00,389.80 618.20,389.80 618.40,389.80 618.60,389.80 618.80,389.80 619.00,389.80 619.20,389.80 619.40,389.80 619.60,389.80 619.80,389.80 620.00,389.80 620.20,389.80 620.40,389.80 620.60,389.80 620.80,389.79 621.00,389.78 621.20,389.75 621.40,389.66 621.60,389.45 621.80,388.98 622.00,387.97 622.20,385.94 622.40,382.08 622.60,375.21 622.80,363.70 623.00,345.64 623.20,319.10 623.40,282.72 623.60,236.33 623.80,181.71 624.00,122.84 624.20,65.75 624.40,28.30 624.60,28.30 624.80,28.30 625.00,28.30 625.20,28.30 625.40,65.75 625.60,122.84 625.80,181.71 626.00,236.33 626.20,282.72 626.40,319.10 626.60,345.64 626.80,363.70 627.00,375.21 627.20,382.08 627.40,385.94 627.60,387.97 627.80,388.98 628.00,389.45 628.20,389.66 628.40,389.75 628.60,389.78 628.80,389.79 629.00,389.80 629.20,389.80 629.40,389.80 629.60,389.80 629.80,389.80 630.00,389.80 630.20,389.80 630.40,389.80 630.60,389.80 630.80,389.80 631.00,389.80 631.20,389.80 631.40,389.80 631.60,389.80 631.80,389.80 632.00,389.80 632.20,389.80 632.40,389.80 632.60,389.80 632.80,389.80 633.00,389.80 633.20,389.80 633.40,389.79 633.60,389.77 633.80,389.71 634.00,389.57 634.20,389.23 634.40,388.50 634.60,386.97 634.80,383.98 635.00,378.50 635.20,369.02 635.40,353.65 635.60,330.30 635.80,297.15 636.00,253.29 636.20,199.50 636.40,138.81 636.60,76.59 636.80,20.00 637.00,7.50 637.20,7.50 637.40,7.50 637.60,7.50 637.80,20.00 638.00,76.59 638.20,138.81 638.40,199.50 638.60,253.29 638.80,297.15 639.00,330.30 639.20,353.65 639.40,369.02 639.60,378.50 639.80,383.98 640.00,386.97 640.20,388.50 640.40,389.23 640.60,389.57 640.80,389.71 641.00,389.77 641.20,389.79 641.40,389.80 641.60,389.80 641.80,389.80 642.00,389.80 642.20,389.80 642.40,389.80 642.60,389.80 642.80,389.80 643.00,389.80 643.20,389.80 643.40,389.80 643.60,389.80 643.80,389.80 644.00,389.80 644.20,389.80 644.40,389.80 644.60,389.80 644.80,389.80 645.00,389.80 645.20,389.80 645.40,389.80 645.60,389.80 645.80,389.80 646.00,389.80 646.20,389.80 646.40,389.80 646.60,389.80 646.80,389.80 647.00,389.80 647.20,389.78 647.40,389.72 647.60,389.46 647.80,388.54 648.00,385.65 648.20,377.85 648.40,359.65 648.60,323.14 648.80,260.68 649.00,170.67 649.20,63.97 649.40,-34.66 649.60,-38.50 649.80,-38.50 650.00,-34.66 650.20,63.97 650.40,170.67 650.60,260.68 650.80,323.14 651.00,359.65 651.20,377.85 651.40,385.65 651.60,388.54 651.80,389.46 652.00,389.72 652.20,389.78 652.40,389.80 652.60,389.80 652.80,389.80 653.00,389.80 653.20,389.80 653.40,389.80 653.60,389.80 653.80,389.80 654.00,389.80 654.20,389.80 654.40,389.80 654.60,389.80 654.80,389.80 655.00,389.80 655.20,389.80 655.40,389.80 655.60,389.80 655.80,389.80 656.00,389.80 656.20,389.80 656.40,389.80 656.60,389.80 656.80,389.80 657.00,389.80 657.20,389.80 657.40,389.80 657.60,389.80 657.80,389.80 658.00,389.80 658.20,389.80 658.40,389.80 658.60,389.80 658.80,389.80 659.00,389.80 659.20,389.80 659.40,389.80 659.60,389.80 659.80,389.80 660.00,389.80 660.20,389.80 660.40,389.80 660.60,389.80 660.80,389.80 661.00,389.80 661.20,389.80 661.40,389.80 661.60,389.80 661.80,389.80 662.00,389.80 662.20,389.80 662.40,389.80 662.60,389.80 662.80,389.80 663.00,389.80 663.20,389.80 663.40,389.80 663.60,389.80 663.80,389.80 664.00,389.80 664.20,389.80 664.40,389.80 664.60,389.80 664.80,389.80 665.00,389.80 665.20,389.80 665.40,389.80 665.60,389.80 665.80,389.80 666.00,389.80 666.20,389.80 666.40,389.80 666.60,389.80 666.80,389.80 667.00,389.80 667.20,389.80 667.40,389.80 667.60,389.80 667.80,389.80 668.00,389.80 668.20,389.80 668.40,389.80 668.60,389.80 668.80,389.80 669.00,389.80 669.20,389.80 669.40,389.80 669.60,389.80 669.80,389.80 670.00,389.80 670.20,389.80 670.40,389.80 670.60,389.80 670.80,389.80 671.00,389.80 671.20,389.80 671.40,389.80 671.60,389.80 671.80,389.80 672.00,389.80 672.20,389.80 672.40,389.80 672.60,389.80 672.80,389.80 673.00,389.80 673.20,389.80 673.40,389.80 673.60,389.80 673.80,389.80 674.00,389.80 674.20,389.80 674.40,389.80 674.60,389.80 674.80,389.80 675.00,389.80 675.20,389.80 675.40,389.80 675.60,389.80 675.80,389.80 676.00,389.80 676.20,389.80 676.40,389.80 676.60,389.80 676.80,389.80 677.00,389.80 677.20,389.80 677.40,389.80 677.60,389.80 677.80,389.80 678.00,389.80 678.20,389.80 678.40,389.80 678.60,389.80 678.80,389.80 679.00,389.80 679.20,389.80 679.40,389.80 679.60,389.80 679.80,389.80 680.00,389.80" fill="none" stroke="#f00" stroke-width="3.8" stroke-linejoin="round"/>
<polyline clip-path="url(#c2)" points="684.20,379.32 684.40,379.34 684.60,379.36 684.80,379.38 685.00,379.40 685.20,379.42 685.40,379.44 685.60,379.46 685.80,379.48 686.00,379.50 686.20,379.42 686.40,379.35 686.60,379.27 686.80,379.20 687.00,379.12 687.20,379.04 687.40,378.97 687.60,378.89 687.80,378.82 688.00,378.74 688.20,378.66 688.40,378.59 688.60,378.51 688.80,378.44 689.00,378.36 689.20,378.28 689.40,378.21 689.60,378.13 689.80,378.06 690.00,377.98 690.20,377.90 690.40,377.83 690.60,377.75 690.80,377.68 691.00,377.60 691.20,377.81 691.40,378.02 691.60,378.23 691.80,378.44 692.00,378.65 692.20,378.86 692.40,379.07 692.60,379.28 692.80,379.49 693.00,379.69 693.20,379.90 693.40,380.11 693.60,380.32 693.80,380.52 694.00,380.72 694.20,380.92 694.40,381.10 694.60,381.26 694.80,381.39 695.00,381.47 695.20,381.48 695.40,381.60 695.60,381.58 695.80,381.38 696.00,380.94 696.20,380.22 696.40,379.18 696.60,377.79 696.80,376.04 697.00,377.98 697.20,375.24 697.40,372.36 697.60,369.48 697.80,366.78 698.00,364.80 698.20,364.80 698.40,364.80 698.60,364.79 698.80,364.79 699.00,364.77 699.20,364.76 699.40,366.70 699.60,369.36 699.80,372.16 700.00,374.91 700.20,377.47 700.40,379.68 700.60,381.45 700.80,382.70 701.00,383.39 701.20,383.48 701.40,382.96 701.60,381.82 701.80,380.03 702.00,377.62 702.20,374.58 702.40,370.96 702.60,366.82 702.80,362.26 703.00,357.41 703.20,354.52 703.40,355.17 703.60,355.82 703.80,356.46 704.00,357.10 704.20,357.74 704.40,358.38 704.60,359.02 704.80,359.66 705.00,360.30 705.20,360.94 705.40,361.58 705.60,362.22 705.80,362.86 706.00,366.10 706.20,369.67 706.40,373.05 706.60,376.14 706.80,378.89 707.00,381.26 707.20,383.25 707.40,384.88 707.60,386.17 707.80,387.18 708.00,387.95 708.20,388.52 708.40,388.93 708.60,389.22 708.80,389.42 709.00,389.56 709.20,389.64 709.40,389.70 709.60,389.73 709.80,389.73 710.00,389.72 710.20,389.69 710.40,389.63 710.60,389.53 710.80,389.38 711.00,389.15 711.20,388.82 711.40,388.34 711.60,387.67 711.80,386.76 712.00,385.54 712.20,383.95 712.40,381.94 712.60,379.45 712.80,376.44 713.00,372.90 713.20,368.87 713.40,364.39 713.60,359.57 713.80,354.39 714.00,352.93 714.20,352.55 714.40,352.17 714.60,351.79 714.80,351.41 715.00,351.03 715.20,350.65 715.40,350.27 715.60,349.89 715.80,349.51 716.00,349.13 716.20,348.75 716.40,348.37 716.60,349.23 716.80,354.83 717.00,360.40 717.20,365.58 717.40,370.25 717.60,374.34 717.80,377.82 718.00,380.71 718.20,383.04 718.40,384.87 718.60,386.28 718.80,387.34 719.00,388.11 719.20,388.66 719.40,389.05 719.60,389.31 719.80,389.48 720.00,389.59 720.20,389.65 720.40,389.66 720.60,389.64 720.80,389.57 721.00,389.45 721.20,389.24 721.40,388.91 721.60,388.43 721.80,387.73 722.00,386.74 722.20,385.39 722.40,383.58 722.60,381.24 722.80,378.29 723.00,374.69 723.20,370.43 723.40,365.55 723.60,360.14 723.80,354.38 724.00,348.49 724.20,342.75 724.40,337.46 724.60,334.80 724.80,334.80 725.00,334.80 725.20,334.80 725.40,334.80 725.60,334.80 725.80,334.80 726.00,337.46 726.20,342.75 726.40,348.49 726.60,354.38 726.80,360.14 727.00,365.55 727.20,370.43 727.40,374.69 727.60,378.29 727.80,381.24 728.00,383.58 728.20,385.39 728.40,386.74 728.60,387.73 728.80,388.43 729.00,388.92 729.20,389.24 729.40,389.46 729.60,389.59 729.80,389.68 730.00,389.73 730.20,389.76 730.40,389.78 730.60,389.79 730.80,389.79 731.00,389.80 731.20,389.80 731.40,389.80 731.60,389.80 731.80,389.80 732.00,389.80 732.20,389.80 732.40,389.79 732.60,389.79 732.80,389.78 733.00,389.75 733.20,389.70 733.40,389.62 733.60,389.48 733.80,389.23 734.00,388.84 734.20,388.22 734.40,387.28 734.60,385.93 734.80,384.05 735.00,381.53 735.20,378.29 735.40,374.30 735.60,369.60 735.80,364.35 736.00,358.76 736.20,353.18 736.40,348.01 736.60,345.30 736.80,345.30 737.00,345.30 737.20,345.30 737.40,345.30 737.60,345.30 737.80,348.01 738.00,353.18 738.20,358.76 738.40,364.35 738.60,369.60 738.80,374.30 739.00,378.29 739.20,381.53 739.40,384.05 739.60,385.93 739.80,387.28 740.00,388.22 740.20,388.84 740.40,389.23 740.60,389.48 740.80,389.62 741.00,389.70 741.20,389.75 741.40,389.78 741.60,389.79 741.80,389.79 742.00,389.80 742.20,389.80 742.40,389.80 742.60,389.80 742.80,389.80 743.00,389.80 743.20,389.80 743.40,389.80 743.60,389.80 743.80,389.80 744.00,389.80 744.20,389.80 744.40,389.80 744.60,389.80 744.80,389.80 745.00,389.80 745.20,389.80 745.40,389.80 745.60,389.80 745.80,389.79 746.00,389.78 746.20,389.77 746.40,389.74 746.60,389.70 746.80,389.62 747.00,389.50 747.20,389.30 747.40,388.98 747.60,388.50 747.80,387.78 748.00,386.75 748.20,385.29 748.40,383.29 748.60,380.63 748.80,377.18 749.00,372.83 749.20,367.52 749.40,361.24 749.60,354.03 749.80,346.06 750.00,337.37 750.20,330.83 750.40,330.38 750.60,329.94 750.80,329.49 751.00,329.04 751.20,328.60 751.40,328.15 751.60,327.70 751.80,327.26 752.00,326.81 752.20,326.36 752.40,325.92 752.60,325.47 752.80,331.76 753.00,341.04 753.20,349.92 753.40,357.95 753.60,364.96 753.80,370.88 754.00,375.73 754.20,379.57 754.40,382.55 754.60,384.77 754.80,386.40 755.00,387.55 755.20,388.35 755.40,388.89 755.60,389.24 755.80,389.46 756.00,389.60 756.20,389.69 756.40,389.74 756.60,389.77 756.80,389.78 757.00,389.79 757.20,389.80 757.40,389.80 757.60,389.80 757.80,389.80 758.00,389.80 758.20,389.80 758.40,389.80 758.60,389.80 758.80,389.80 759.00,389.80 759.20,389.80 759.40,389.80 759.60,389.80 759.80,389.80 760.00,389.80 760.20,389.80 760.40,389.80 760.60,389.80 760.80,389.80 761.00,389.79 761.20,389.78 761.40,389.76 761.60,389.73 761.80,389.67 762.00,389.57 762.20,389.39 762.40,389.10 762.60,388.62 762.80,387.88 763.00,386.77 763.20,385.14 763.40,382.83 763.60,379.66 763.80,375.44 764.00,370.04 764.20,363.35 764.40,355.36 764.60,346.19 764.80,335.89 765.00,324.76 765.20,322.30 765.40,321.82 765.60,321.34 765.80,320.86 766.00,320.38 766.20,319.90 766.40,319.42 766.60,318.94 766.80,318.46 767.00,317.98 767.20,317.50 767.40,319.17 767.60,330.45 767.80,341.45 768.00,351.62 768.20,360.48 768.40,367.89 768.60,373.88 768.80,378.55 769.00,382.07 769.20,384.63 769.40,386.44 769.60,387.68 769.80,388.49 770.00,389.02 770.20,389.35 770.40,389.54 770.60,389.66 770.80,389.72 771.00,389.76 771.20,389.78 771.40,389.79 771.60,389.80 771.80,389.80 772.00,389.80 772.20,389.80 772.40,389.80 772.60,389.80 772.80,389.80 773.00,389.80 773.20,389.80 773.40,389.80 773.60,389.80 773.80,389.80 774.00,389.80 774.20,389.80 774.40,389.80 774.60,389.80 774.80,389.80 775.00,389.79 775.20,389.79 775.40,389.78 775.60,389.77 775.80,389.74 776.00,389.70 776.20,389.63 776.40,389.52 776.60,389.36 776.80,389.11 777.00,388.74 777.20,388.20 777.40,387.44 777.60,386.40 777.80,384.99 778.00,383.13 778.20,380.74 778.40,377.75 778.60,374.09 778.80,369.73 779.00,364.67 779.20,358.98 779.40,352.77 779.60,346.20 779.80,339.51 780.00,332.96 780.20,326.85 780.40,322.50 780.60,322.50 780.80,322.50 781.00,322.50 781.20,322.50 781.40,322.50 781.60,322.50 781.80,322.50 782.00,326.85 782.20,332.96 782.40,339.51 782.60,346.20 782.80,352.77 783.00,358.98 783.20,364.67 783.40,369.73 783.60,374.09 783.80,377.75 784.00,380.74 784.20,383.13 784.40,384.99 784.60,386.40 784.80,387.44 785.00,388.20 785.20,388.74 785.40,389.11 785.60,389.36 785.80,389.52 786.00,389.63 786.20,389.70 786.40,389.74 786.60,389.77 786.80,389.78 787.00,389.79 787.20,389.79 787.40,389.80 787.60,389.80 787.80,389.80 788.00,389.80 788.20,389.80 788.40,389.80 788.60,389.80 788.80,389.80 789.00,389.80 789.20,389.80 789.40,389.80 789.60,389.80 789.80,389.80 790.00,389.80 790.20,389.80 790.40,389.80 790.60,389.80 790.80,389.80 791.00,389.80 791.20,389.80 791.40,389.80 791.60,389.80 791.80,389.80 792.00,389.79 792.20,389.79 792.40,389.78 792.60,389.76 792.80,389.73 793.00,389.69 793.20,389.61 793.40,389.49 793.60,389.31 793.80,389.04 794.00,388.63 794.20,388.04 794.40,387.20 794.60,386.05 794.80,384.49 795.00,382.44 795.20,379.80 795.40,376.49 795.60,372.45 795.80,367.64 796.00,362.06 796.20,355.78 796.40,348.92 796.60,341.67 796.80,334.28 797.00,327.05 797.20,320.31 797.40,315.50 797.60,315.50 797.80,315.50 798.00,315.50 798.20,315.50 798.40,315.50 798.60,315.50 798.80,315.50 799.00,320.31 799.20,327.05 799.40,334.28 799.60,341.67 799.80,348.92 800.00,355.78 800.20,362.06 800.40,367.64 800.60,372.45 800.80,376.49 801.00,379.80 801.20,382.44 801.40,384.49 801.60,386.05 801.80,387.20 802.00,388.04 802.20,388.63 802.40,389.04 802.60,389.31 802.80,389.49 803.00,389.61 803.20,389.69 803.40,389.73 803.60,389.76 803.80,389.78 804.00,389.79 804.20,389.79 804.40,389.80 804.60,389.80 804.80,389.80 805.00,389.80 805.20,389.80 805.40,389.80 805.60,389.80 805.80,389.80 806.00,389.80 806.20,389.80 806.40,389.80 806.60,389.80 806.80,389.80 807.00,389.80 807.20,389.80 807.40,389.80 807.60,389.80 807.80,389.80 808.00,389.80 808.20,389.80 808.40,389.80 808.60,389.80 808.80,389.80 809.00,389.80 809.20,389.80 809.40,389.80 809.60,389.80 809.80,389.79 810.00,389.79 810.20,389.78 810.40,389.77 810.60,389.74 810.80,389.70 811.00,389.63 811.20,389.52 811.40,389.35 811.60,389.09 811.80,388.70 812.00,388.12 812.20,387.30 812.40,386.16 812.60,384.59 812.80,382.51 813.00,379.80 813.20,376.35 813.40,372.09 813.60,366.94 813.80,360.89 814.00,353.99 814.20,346.32 814.40,338.09 814.60,329.54 814.80,320.99 815.00,312.81 815.20,305.41 815.40,303.40 815.60,303.40 815.80,303.40 816.00,303.40 816.20,303.40 816.40,303.40 816.60,303.40 816.80,305.41 817.00,312.81 817.20,320.99 817.40,329.54 817.60,338.09 817.80,346.32 818.00,353.99 818.20,360.89 818.40,366.94 818.60,372.09 818.80,376.35 819.00,379.80 819.20,382.51 819.40,384.59 819.60,386.16 819.80,387.30 820.00,388.12 820.20,388.70 820.40,389.09 820.60,389.35 820.80,389.52 821.00,389.63 821.20,389.70 821.40,389.74 821.60,389.77 821.80,389.78 822.00,389.79 822.20,389.79 822.40,389.80 822.60,389.80 822.80,389.80 823.00,389.80 823.20,389.80 823.40,389.80 823.60,389.80 823.80,389.80 824.00,389.80 824.20,389.80 824.40,389.80 824.60,389.80 824.80,389.80 825.00,389.80 825.20,389.80 825.40,389.80 825.60,389.80 825.80,389.80 826.00,389.80 826.20,389.80 826.40,389.80 826.60,389.80 826.80,389.80 827.00,389.80 827.20,389.80 827.40,389.80 827.60,389.80 827.80,389.80 828.00,389.80 828.20,389.80 828.40,389.80 828.60,389.80 828.80,389.80 829.00,389.80 829.20,389.80 829.40,389.80 829.60,389.80 829.80,389.80 830.00,389.80 830.20,389.80 830.40,389.79 830.60,389.79 830.80,389.77 831.00,389.75 831.20,389.69 831.40,389.59 831.60,389.40 831.80,389.08 832.00,388.54 832.20,387.66 832.40,386.29 832.60,384.22 832.80,381.23 833.00,377.06 833.20,371.47 833.40,364.29 833.60,355.45 833.80,345.05 834.00,333.40 834.20,321.03 834.40,308.66 834.60,297.19 834.80,291.20 835.00,291.20 835.20,291.20 835.40,291.20 835.60,291.20 835.80,291.20 836.00,297.19 836.20,308.66 836.40,321.03 836.60,333.40 836.80,345.05 837.00,355.45 837.20,364.29 837.40,371.47 837.60,377.06 837.80,381.23 838.00,384.22 838.20,386.29 838.40,387.66 838.60,388.54 838.80,389.08 839.00,389.40 839.20,389.59 839.40,389.69 839.60,389.75 839.80,389.77 840.00,389.79 840.20,389.79 840.40,389.80 840.60,389.80 840.80,389.80 841.00,389.80 841.20,389.80 841.40,389.80 841.60,389.80 841.80,389.80 842.00,389.80 842.20,389.80 842.40,389.80 842.60,389.80 842.80,389.80 843.00,389.80 843.20,389.80 843.40,389.80 843.60,389.80 843.80,389.80 844.00,389.80 844.20,389.80 844.40,389.80 844.60,389.80 844.80,389.80 845.00,389.80 845.20,389.80 845.40,389.80 845.60,389.80 845.80,389.80 846.00,389.80 846.20,389.80 846.40,389.80 846.60,389.80 846.80,389.80 847.00,389.80 847.20,389.80 847.40,389.80 847.60,389.80 847.80,389.80 848.00,389.80 848.20,389.80 848.40,389.80 848.60,389.80 848.80,389.80 849.00,389.80 849.20,389.80 849.40,389.80 849.60,389.80 849.80,389.80 850.00,389.80 850.20,389.80 850.40,389.80 850.60,389.80 850.80,389.80 851.00,389.80 851.20,389.80 851.40,389.79 851.60,389.78 851.80,389.76 852.00,389.71 852.20,389.62 852.40,389.46 852.60,389.18 852.80,388.70 853.00,387.90 853.20,386.63 853.40,384.68 853.60,381.80 853.80,377.70 854.00,372.10 854.20,364.76 854.40,355.52 854.60,344.40 854.80,331.63 855.00,317.68 855.20,303.30 855.40,289.43 855.60,277.12 855.80,276.10 856.00,276.10 856.20,276.10 856.40,276.10 856.60,276.10 856.80,277.12 857.00,289.43 857.20,303.30 857.40,317.68 857.60,331.63 857.80,344.40 858.00,355.52 858.20,364.76 858.40,372.10 858.60,377.70 858.80,381.80 859.00,384.68 859.20,386.63 859.40,387.90 859.60,388.70 859.80,389.18 860.00,389.46 860.20,389.62 860.40,389.71 860.60,389.76 860.80,389.78 861.00,389.79 861.20,389.80 861.40,389.80 861.60,389.80 861.80,389.80 862.00,389.80 862.20,389.80 862.40,389.80 862.60,389.80 862.80,389.80 863.00,389.80 863.20,389.80 863.40,389.80 863.60,389.80 863.80,389.80 864.00,389.80 864.20,389.80 864.40,389.80 864.60,389.80 864.80,389.80 865.00,389.80 865.20,389.80 865.40,389.80 865.60,389.80 865.80,389.80 866.00,389.80 866.20,389.80 866.40,389.80 866.60,389.80 866.80,389.80 867.00,389.80 867.20,389.80 867.40,389.80 867.60,389.80 867.80,389.80 868.00,389.80 868.20,389.80 868.40,389.80 868.60,389.80 868.80,389.80 869.00,389.80 869.20,389.80 869.40,389.80 869.60,389.80 869.80,389.80 870.00,389.80 870.20,389.80 870.40,389.80 870.60,389.80 870.80,389.80 871.00,389.80 871.20,389.80 871.40,389.80 871.60,389.80 871.80,389.80 872.00,389.80 872.20,389.80 872.40,389.80 872.60,389.80 872.80,389.79 873.00,389.78 873.20,389.75 873.40,389.70 873.60,389.59 873.80,389.41 874.00,389.08 874.20,388.51 874.40,387.58 874.60,386.10 874.80,383.82 875.00,380.45 875.20,375.67 875.40,369.13 875.60,360.55 875.80,349.76 876.00,336.78 876.20,321.86 876.40,305.57 876.60,288.77 876.80,272.57 877.00,258.19 877.20,257.00 877.40,257.00 877.60,257.00 877.80,257.00 878.00,257.00 878.20,258.19 878.40,272.57 878.60,288.77 878.80,305.57 879.00,321.86 879.20,336.78 879.40,349.76 879.60,360.55 879.80,369.13 880.00,375.67 880.20,380.45 880.40,383.82 880.60,386.10 880.80,387.58 881.00,388.51 881.20,389.08 881.40,389.41 881.60,389.59 881.80,389.70 882.00,389.75 882.20,389.78 882.40,389.79 882.60,389.80 882.80,389.80 883.00,389.80 883.20,389.80 883.40,389.80 883.60,389.80 883.80,389.80 884.00,389.80 884.20,389.80 884.40,389.80 884.60,389.80 884.80,389.80 885.00,389.80 885.20,389.80 885.40,389.80 885.60,389.80 885.80,389.80 886.00,389.80 886.20,389.80 886.40,389.80 886.60,389.80 886.80,389.80 887.00,389.80 887.20,389.80 887.40,389.80 887.60,389.80 887.80,389.80 888.00,389.80 888.20,389.80 888.40,389.80 888.60,389.80 888.80,389.80 889.00,389.80 889.20,389.80 889.40,389.80 889.60,389.80 889.80,389.80 890.00,389.80 890.20,389.80 890.40,389.80 890.60,389.80 890.80,389.80 891.00,389.80 891.20,389.80 891.40,389.80 891.60,389.80 891.80,389.80 892.00,389.80 892.20,389.80 892.40,389.80 892.60,389.80 892.80,389.80 893.00,389.80 893.20,389.80 893.40,389.80 893.60,389.80 893.80,389.80 894.00,389.80 894.20,389.80 894.40,389.80 894.60,389.80 894.80,389.80 895.00,389.79 895.20,389.79 895.40,389.77 895.60,389.74 895.80,389.67 896.00,389.55 896.20,389.33 896.40,388.93 896.60,388.25 896.80,387.13 897.00,385.34 897.20,382.59 897.40,378.54 897.60,372.77 897.80,364.90 898.00,354.56 898.20,341.56 898.40,325.92 898.60,307.94 898.80,288.32 899.00,268.08 899.20,248.56 899.40,231.23 899.60,229.80 899.80,229.80 900.00,229.80 900.20,229.80 900.40,229.80 900.60,231.23 900.80,248.56 901.00,268.08 901.20,288.32 901.40,307.94 901.60,325.92 901.80,341.56 902.00,354.56 902.20,364.90 902.40,372.77 902.60,378.54 902.80,382.59 903.00,385.34 903.20,387.13 903.40,388.25 903.60,388.93 903.80,389.33 904.00,389.55 904.20,389.67 904.40,389.74 904.60,389.77 904.80,389.79 905.00,389.79 905.20,389.80 905.40,389.80 905.60,389.80 905.80,389.80 906.00,389.80 906.20,389.80 906.40,389.80 906.60,389.80 906.80,389.80 907.00,389.80 907.20,389.80 907.40,389.80 907.60,389.80 907.80,389.80 908.00,389.80 908.20,389.80 908.40,389.80 908.60,389.80 908.80,389.80 909.00,389.80 909.20,389.80 909.40,389.80 909.60,389.80 909.80,389.80 910.00,389.80 910.20,389.80 910.40,389.80 910.60,389.80 910.80,389.80 911.00,389.80 911.20,389.80 911.40,389.80 911.60,389.80 911.80,389.80 912.00,389.80 912.20,389.80 912.40,389.80 912.60,389.80 912.80,389.80 913.00,389.80 913.20,389.80 913.40,389.80 913.60,389.80 913.80,389.80 914.00,389.80 914.20,389.80 914.40,389.80 914.60,389.80 914.80,389.80 915.00,389.80 915.20,389.80 915.40,389.80 915.60,389.80 915.80,389.80 916.00,389.80 916.20,389.80 916.40,389.80 916.60,389.80 916.80,389.80 917.00,389.80 917.20,389.80 917.40,389.80 917.60,389.80 917.80,389.80 918.00,389.80 918.20,389.80 918.40,389.80 918.60,389.80 918.80,389.79 919.00,389.78 919.20,389.75 919.40,389.68 919.60,389.50 919.80,389.09 920.00,388.21 920.20,386.44 920.40,383.10 920.60,377.13 920.80,367.14 921.00,351.46 921.20,328.42 921.40,296.99 921.60,257.28 921.80,210.76 922.00,167.07 922.20,167.89 922.40,168.71 922.60,169.53 922.80,170.35 923.00,171.17 923.20,171.99 923.40,172.81 923.60,173.63 923.80,217.33 924.00,263.09 924.20,301.72 924.40,331.76 924.60,353.55 924.80,368.38 925.00,377.82 925.20,383.46 925.40,386.63 925.60,388.30 925.80,389.13 926.00,389.51 926.20,389.69 926.40,389.76 926.60,389.78 926.80,389.79 927.00,389.80 927.20,389.80 927.40,389.80 927.60,389.80 927.80,389.80 928.00,389.80 928.20,389.80 928.40,389.80 928.60,389.80 928.80,389.80 929.00,389.80 929.20,389.80 929.40,389.80 929.60,389.80 929.80,389.80 930.00,389.80 930.20,389.80 930.40,389.80 930.60,389.80 930.80,389.80 931.00,389.80 931.20,389.80 931.40,389.80 931.60,389.80 931.80,389.80 932.00,389.80 932.20,389.80 932.40,389.80 932.60,389.80 932.80,389.80 933.00,389.80 933.20,389.80 933.40,389.80 933.60,389.80 933.80,389.80 934.00,389.80 934.20,389.80 934.40,389.80 934.60,389.80 934.80,389.80 935.00,389.80 935.20,389.80 935.40,389.80 935.60,389.80 935.80,389.80 936.00,389.80 936.20,389.80 936.40,389.80 936.60,389.80 936.80,389.80 937.00,389.80 937.20,389.80 937.40,389.80 937.60,389.80 937.80,389.80 938.00,389.80 938.20,389.80 938.40,389.80 938.60,389.80 938.80,389.80 939.00,389.80 939.20,389.80 939.40,389.80 939.60,389.80 939.80,389.80 940.00,389.80 940.20,389.80 940.40,389.80 940.60,389.80 940.80,389.80 941.00,389.80 941.20,389.80 941.40,389.80 941.60,389.80 941.80,389.80 942.00,389.80 942.20,389.80 942.40,389.80 942.60,389.80 942.80,389.80 943.00,389.80 943.20,389.80 943.40,389.80 943.60,389.79 943.80,389.76 944.00,389.70 944.20,389.54 944.40,389.18 944.60,388.37 944.80,386.70 945.00,383.44 945.20,377.43 945.40,367.06 945.60,350.25 945.80,324.70 946.00,288.42 946.20,240.43 946.40,181.58 946.60,115.17 946.80,47.10 947.00,-14.82 947.20,-28.50 947.40,-28.50 947.60,-28.50 947.80,-28.50 948.00,-14.82 948.20,47.10 948.40,115.17 948.60,181.58 948.80,240.43 949.00,288.42 949.20,324.70 949.40,350.25 949.60,367.06 949.80,377.43 950.00,383.44 950.20,386.70 950.40,388.37 950.60,389.18 950.80,389.54 951.00,389.70 951.20,389.76 951.40,389.79 951.60,389.80 951.80,389.80 952.00,389.80 952.20,389.80 952.40,389.80 952.60,389.80 952.80,389.80 953.00,389.80 953.20,389.80 953.40,389.80 953.60,389.80 953.80,389.80 954.00,389.80 954.20,389.80 954.40,389.80 954.60,389.80 954.80,389.80 955.00,389.80 955.20,389.80 955.40,389.80 955.60,389.80 955.80,389.80 956.00,389.80 956.20,389.80 956.40,389.80 956.60,389.80 956.80,389.80 957.00,389.80 957.20,389.80 957.40,389.80 957.60,389.80 957.80,389.80 958.00,389.80 958.20,389.80 958.40,389.80 958.60,389.80 958.80,389.80 959.00,389.80 959.20,389.80 959.40,389.80 959.60,389.80 959.80,389.80 960.00,389.80 960.20,389.80 960.40,389.80 960.60,389.80 960.80,389.80 961.00,389.80 961.20,389.80 961.40,389.80 961.60,389.80 961.80,389.80 962.00,389.80 962.20,389.80 962.40,389.80 962.60,389.80 962.80,389.80 963.00,389.80 963.20,389.80 963.40,389.80 963.60,389.80 963.80,389.80 964.00,389.80 964.20,389.80 964.40,389.80 964.60,389.80 964.80,389.80 965.00,389.80 965.20,389.80 965.40,389.80 965.60,389.80 965.80,389.80 966.00,389.80 966.20,389.80 966.40,389.80 966.60,389.80 966.80,389.80 967.00,389.80 967.20,389.80 967.40,389.80 967.60,389.80 967.80,389.80 968.00,389.80 968.20,389.80 968.40,389.80 968.60,389.80 968.80,389.80 969.00,389.80 969.20,389.80 969.40,389.80 969.60,389.80 969.80,389.80 970.00,389.80 970.20,389.80 970.40,389.80 970.60,389.80 970.80,389.80 971.00,389.80 971.20,389.80 971.40,389.80 971.60,389.80 971.80,389.80 972.00,389.80 972.20,389.80 972.40,389.79 972.60,389.76 972.80,389.63 973.00,389.14 973.20,387.47 973.40,382.64 973.60,370.50 973.80,344.22 974.00,295.48 974.20,218.79 974.40,118.14 974.60,11.71 974.80,-38.50 975.00,-38.50 975.20,-38.50 975.40,11.71 975.60,118.14 975.80,218.79 976.00,295.48 976.20,344.22 976.40,370.50 976.60,382.64 976.80,387.47 977.00,389.14 977.20,389.63 977.40,389.76 977.60,389.79 977.80,389.80 978.00,389.80 978.20,389.80 978.40,389.80 978.60,389.80 978.80,389.80 979.00,389.80 979.20,389.80 979.40,389.80 979.60,389.80 979.80,389.80 980.00,389.80 980.20,389.80 980.40,389.80 980.60,389.80 980.80,389.80 981.00,389.80 981.20,389.80 981.40,389.80 981.60,389.80 981.80,389.80 982.00,389.80 982.20,389.80 982.40,389.80 982.60,389.80 982.80,389.80 983.00,389.80 983.20,389.80 983.40,389.80 983.60,389.80 983.80,389.80 984.00,389.80 984.20,389.80 984.40,389.80 984.60,389.80 984.80,389.80 985.00,389.80 985.20,389.80 985.40,389.80 985.60,389.80 985.80,389.80 986.00,389.80 986.20,389.80 986.40,389.80 986.60,389.80 986.80,389.80 987.00,389.80 987.20,389.80 987.40,389.80 987.60,389.80 987.80,389.80 988.00,389.80 988.20,389.80 988.40,389.80 988.60,389.80 988.80,389.80 989.00,389.80 989.20,389.80 989.40,389.80 989.60,389.80 989.80,389.80 990.00,389.80 990.20,389.80 990.40,389.80 990.60,389.80 990.80,389.80 991.00,389.80 991.20,389.80 991.40,389.80 991.60,389.80 991.80,389.80 992.00,389.80 992.20,389.80 992.40,389.80 992.60,389.80 992.80,389.80 993.00,389.80 993.20,389.80 993.40,389.80 993.60,389.80 993.80,389.80 994.00,389.80 994.20,389.80 994.40,389.80 994.60,389.80 994.80,389.80 995.00,389.80 995.20,389.80 995.40,389.80 995.60,389.80 995.80,389.80 996.00,389.80 996.20,389.80 996.40,389.80 996.60,389.80 996.80,389.80 997.00,389.80 997.20,389.80 997.40,389.80 997.60,389.80 997.80,389.80 998.00,389.80 998.20,389.80 998.40,389.80 998.60,389.80 998.80,389.80 999.00,389.80 999.20,389.80 999.40,389.80 999.60,389.80 999.80,389.80 1000.00,389.80 1000.20,389.80 1000.40,389.80 1000.60,389.80 1000.80,389.80 1001.00,389.80 1001.20,389.80 1001.40,389.80 1001.60,389.80 1001.80,389.80 1002.00,389.80 1002.20,389.80 1002.40,389.80 1002.60,389.80 1002.80,389.80 1003.00,389.80 1003.20,389.80 1003.40,389.80 1003.60,389.80 1003.80,389.80 1004.00,389.80 1004.20,389.80 1004.40,389.80 1004.60,389.80 1004.80,389.80 1005.00,389.80 1005.20,389.80" fill="none" stroke="#f00" stroke-width="3.8" stroke-linejoin="round"/>
<g clip-path="url(#b0)"><polygon points="34.0,735.0 34.9,735.0 35.8,735.0 36.7,735.0 37.6,735.0 38.5,735.0 39.4,735.0 40.3,735.0 41.2,734.9 42.1,734.9 43.0,734.9 43.9,734.9 44.8,734.9 45.7,734.9 46.6,734.9 47.5,734.9 48.4,734.9 49.3,734.9 50.2,734.9 51.1,734.9 52.0,734.9 52.9,734.9 53.8,734.9 54.7,734.8 55.6,734.8 56.5,734.8 57.4,734.8 58.3,734.8 59.2,734.8 60.1,734.8 61.0,734.8 61.9,734.8 62.8,734.8 63.7,734.8 64.6,734.8 65.5,734.8 66.4,734.8 67.3,734.8 68.2,734.7 69.1,734.7 70.0,734.7 70.9,734.7 71.8,734.7 72.7,734.7 73.6,734.7 74.5,734.7 75.4,734.7 76.3,734.7 77.2,734.7 78.1,734.7 79.0,734.7 79.9,734.7 80.8,734.7 81.7,734.6 82.6,734.6 83.5,734.6 84.4,734.6 85.3,734.6 86.2,734.6 87.1,734.6 88.0,734.6 88.9,734.6 89.8,734.6 90.7,734.6 91.6,734.6 92.5,734.6 93.4,734.6 94.3,734.6 95.2,734.5 96.1,734.5 97.0,734.5 97.9,734.5 98.8,734.5 99.7,734.5 100.6,734.5 101.5,734.5 102.4,734.5 103.3,734.5 104.2,734.5 105.1,734.5 106.0,734.5 106.9,734.5 107.8,734.5 108.7,734.5 109.6,734.4 110.5,734.4 111.4,734.4 112.3,734.4 113.2,734.4 114.1,734.4 115.0,734.4 115.9,734.4 116.8,734.4 117.7,734.4 118.6,734.4 119.5,734.4 120.4,734.4 121.3,734.4 122.2,734.4 123.1,734.3 124.0,734.3 124.9,734.3 125.8,734.3 126.7,734.3 127.6,734.3 128.5,734.3 129.4,734.3 130.3,734.3 131.2,734.3 132.1,734.3 133.0,734.3 133.9,734.3 134.8,734.3 135.7,734.3 136.6,734.2 137.5,734.2 138.4,734.2 139.3,734.2 140.2,734.2 141.1,734.2 142.0,734.2 142.9,734.2 143.8,734.2 144.7,734.2 145.6,734.2 146.5,734.2 147.4,734.2 148.3,734.2 149.2,734.2 150.1,734.1 151.0,734.1 151.9,734.1 152.8,734.1 153.7,734.1 154.6,734.1 155.5,734.1 156.4,734.1 157.3,734.1 158.2,734.1 159.1,734.1 160.0,734.1 160.9,734.1 161.8,734.1 162.7,734.1 163.6,734.0 164.5,734.0 165.4,734.0 166.3,734.0 167.2,734.0 168.1,734.0 169.0,734.0 169.9,734.0 170.8,734.1 171.7,734.3 172.6,734.4 173.5,734.6 174.4,734.7 175.3,734.9 176.2,735.0 177.1,735.2 178.0,735.3 178.9,735.3 179.8,734.9 180.7,733.3 181.6,729.2 182.5,721.0 183.4,708.9 184.3,695.9 185.2,687.5 186.1,688.2 187.0,697.7 187.9,711.2 188.8,723.2 189.7,731.2 190.6,735.2 191.5,736.9 192.4,737.6 193.3,737.9 194.2,738.0 195.1,738.2 196.0,738.3 196.9,738.4 197.8,738.2 198.7,737.2 199.6,734.2 200.5,727.2 201.4,715.2 202.3,699.4 203.2,685.4 204.1,679.8 205.0,685.8 205.9,700.2 206.8,716.2 207.7,728.7 208.6,735.9 209.5,739.3 210.4,740.7 211.3,741.2 212.2,741.4 213.1,741.6 214.0,741.8 214.9,742.0 215.8,742.2 216.7,742.3 217.6,742.5 218.5,742.7 219.4,742.8 220.3,742.9 221.2,742.7 222.1,741.8 223.0,739.2 223.9,733.5 224.8,723.1 225.7,707.9 226.6,690.3 227.5,675.4 228.4,668.8 229.3,673.3 230.2,687.2 231.1,705.1 232.0,721.5 232.9,733.4 233.8,740.4 234.7,743.9 235.6,745.5 236.5,746.1 237.4,746.4 238.3,746.7 239.2,746.8 240.1,747.0 241.0,747.0 241.9,746.7 242.8,745.9 243.7,743.6 244.6,738.2 245.5,727.7 246.4,710.2 247.3,685.4 248.2,656.6 249.1,630.6 250.0,615.4 250.9,616.4 251.8,633.2 252.7,660.1 253.6,688.8 254.5,713.0 255.4,729.9 256.3,739.8 257.2,744.8 258.1,747.0 259.0,747.9 259.9,748.2 260.8,748.4 261.7,748.4 262.6,748.5 263.5,748.6 264.4,748.6 265.3,748.6 266.2,748.5 267.1,747.9 268.0,746.0 268.9,741.2 269.8,730.8 270.7,711.3 271.6,680.5 272.5,639.7 273.4,595.6 274.3,560.0 275.2,544.5 276.1,554.6 277.0,586.8 277.9,630.2 278.8,672.6 279.7,706.1 280.6,728.0 281.5,740.3 282.4,746.2 283.3,748.7 284.2,749.6 285.1,749.9 286.0,749.9 286.9,749.9 287.8,749.8 288.7,749.7 289.6,749.5 290.5,748.9 291.4,747.1 292.3,742.2 293.2,730.7 294.1,707.1 295.0,665.5 295.9,603.3 296.8,526.0 297.7,449.3 298.6,395.2 299.5,382.2 300.4,414.8 301.3,481.2 302.2,560.2 303.1,631.6 304.0,684.3 304.9,716.8 305.8,733.8 306.7,741.3 307.6,744.0 308.5,744.6 309.4,744.1 310.3,741.8 311.2,735.4 312.1,724.8 313.0,713.2 313.9,707.6 314.8,711.0 315.7,714.7 316.6,715.0 317.5,711.1 318.4,698.8 319.3,678.1 320.2,622.9 321.1,428.3 322.0,38.4 322.9,-59.0 323.8,-59.0 324.7,-59.0 325.6,-59.0 326.5,-59.0 327.4,-59.0 328.3,154.7 329.2,478.6 330.1,617.1 331.0,656.9 331.9,679.1 332.8,691.1 333.7,702.8 334.6,715.1 335.5,724.4 336.4,730.8 337.3,736.4 338.2,741.1 339.1,745.1 340.0,748.4 340.9,749.7 341.8,750.8 342.7,751.7 343.6,752.5 344.5,753.3 345.4,754.1 346.3,754.9 347.2,755.6 348.1,756.4 349.0,757.1 349.9,757.9 350.8,758.3 351.7,758.7 352.6,759.0 353.5,759.3 354.4,760.0 354.4,778.0 353.5,777.3 352.6,777.0 351.7,776.7 350.8,776.3 349.9,775.9 349.0,775.1 348.1,774.4 347.2,773.6 346.3,772.9 345.4,772.1 344.5,771.3 343.6,770.5 342.7,769.7 341.8,768.8 340.9,767.7 340.0,766.4 339.1,763.1 338.2,759.1 337.3,754.4 336.4,748.8 335.5,742.4 334.6,733.1 333.7,720.8 332.8,709.1 331.9,697.1 331.0,674.9 330.1,635.1 329.2,496.6 328.3,172.7 327.4,-41.0 326.5,-41.0 325.6,-41.0 324.7,-41.0 323.8,-41.0 322.9,-41.0 322.0,56.4 321.1,446.3 320.2,640.9 319.3,696.1 318.4,716.8 317.5,729.1 316.6,733.0 315.7,732.7 314.8,729.0 313.9,725.6 313.0,731.2 312.1,742.8 311.2,753.4 310.3,759.8 309.4,762.1 308.5,762.6 307.6,762.0 306.7,759.3 305.8,751.8 304.9,734.8 304.0,702.3 303.1,649.6 302.2,578.2 301.3,499.2 300.4,432.8 299.5,400.2 298.6,413.2 297.7,467.3 296.8,544.0 295.9,621.3 295.0,683.5 294.1,725.1 293.2,748.7 292.3,760.2 291.4,765.1 290.5,766.9 289.6,767.5 288.7,767.7 287.8,767.8 286.9,767.9 286.0,767.9 285.1,767.9 284.2,767.6 283.3,766.7 282.4,764.2 281.5,758.3 280.6,746.0 279.7,724.1 278.8,690.6 277.9,648.2 277.0,604.8 276.1,572.6 275.2,562.5 274.3,578.0 273.4,613.6 272.5,657.7 271.6,698.5 270.7,729.3 269.8,748.8 268.9,759.2 268.0,764.0 267.1,765.9 266.2,766.5 265.3,766.6 264.4,766.6 263.5,766.6 262.6,766.5 261.7,766.4 260.8,766.4 259.9,766.2 259.0,765.9 258.1,765.0 257.2,762.8 256.3,757.8 255.4,747.9 254.5,731.0 253.6,706.8 252.7,678.1 251.8,651.2 250.9,634.4 250.0,633.4 249.1,648.6 248.2,674.6 247.3,703.4 246.4,728.2 245.5,745.7 244.6,756.2 243.7,761.6 242.8,763.9 241.9,764.7 241.0,765.0 240.1,765.0 239.2,764.8 238.3,764.7 237.4,764.4 236.5,764.1 235.6,763.5 234.7,761.9 233.8,758.4 232.9,751.4 232.0,739.5 231.1,723.1 230.2,705.2 229.3,691.3 228.4,686.8 227.5,693.4 226.6,708.3 225.7,725.9 224.8,741.1 223.9,751.5 223.0,757.2 222.1,759.8 221.2,760.7 220.3,760.9 219.4,760.8 218.5,760.7 217.6,760.5 216.7,760.3 215.8,760.2 214.9,760.0 214.0,759.8 213.1,759.6 212.2,759.4 211.3,759.2 210.4,758.7 209.5,757.3 208.6,753.9 207.7,746.7 206.8,734.2 205.9,718.2 205.0,703.8 204.1,697.8 203.2,703.4 202.3,717.4 201.4,733.2 200.5,745.2 199.6,752.2 198.7,755.2 197.8,756.2 196.9,756.4 196.0,756.3 195.1,756.2 194.2,756.0 193.3,755.9 192.4,755.6 191.5,754.9 190.6,753.2 189.7,749.2 188.8,741.2 187.9,729.2 187.0,715.7 186.1,706.2 185.2,705.5 184.3,713.9 183.4,726.9 182.5,739.0 181.6,747.2 180.7,751.3 179.8,752.9 178.9,753.3 178.0,753.3 177.1,753.2 176.2,753.0 175.3,752.9 174.4,752.7 173.5,752.6 172.6,752.4 171.7,752.3 170.8,752.1 169.9,752.0 169.0,752.0 168.1,752.0 167.2,752.0 166.3,752.0 165.4,752.0 164.5,752.0 163.6,752.0 162.7,752.1 161.8,752.1 160.9,752.1 160.0,752.1 159.1,752.1 158.2,752.1 157.3,752.1 156.4,752.1 155.5,752.1 154.6,752.1 153.7,752.1 152.8,752.1 151.9,752.1 151.0,752.1 150.1,752.1 149.2,752.2 148.3,752.2 147.4,752.2 146.5,752.2 145.6,752.2 144.7,752.2 143.8,752.2 142.9,752.2 142.0,752.2 141.1,752.2 140.2,752.2 139.3,752.2 138.4,752.2 137.5,752.2 136.6,752.2 135.7,752.3 134.8,752.3 133.9,752.3 133.0,752.3 132.1,752.3 131.2,752.3 130.3,752.3 129.4,752.3 128.5,752.3 127.6,752.3 126.7,752.3 125.8,752.3 124.9,752.3 124.0,752.3 123.1,752.3 122.2,752.4 121.3,752.4 120.4,752.4 119.5,752.4 118.6,752.4 117.7,752.4 116.8,752.4 115.9,752.4 115.0,752.4 114.1,752.4 113.2,752.4 112.3,752.4 111.4,752.4 110.5,752.4 109.6,752.4 108.7,752.5 107.8,752.5 106.9,752.5 106.0,752.5 105.1,752.5 104.2,752.5 103.3,752.5 102.4,752.5 101.5,752.5 100.6,752.5 99.7,752.5 98.8,752.5 97.9,752.5 97.0,752.5 96.1,752.5 95.2,752.5 94.3,752.6 93.4,752.6 92.5,752.6 91.6,752.6 90.7,752.6 89.8,752.6 88.9,752.6 88.0,752.6 87.1,752.6 86.2,752.6 85.3,752.6 84.4,752.6 83.5,752.6 82.6,752.6 81.7,752.6 80.8,752.7 79.9,752.7 79.0,752.7 78.1,752.7 77.2,752.7 76.3,752.7 75.4,752.7 74.5,752.7 73.6,752.7 72.7,752.7 71.8,752.7 70.9,752.7 70.0,752.7 69.1,752.7 68.2,752.7 67.3,752.8 66.4,752.8 65.5,752.8 64.6,752.8 63.7,752.8 62.8,752.8 61.9,752.8 61.0,752.8 60.1,752.8 59.2,752.8 58.3,752.8 57.4,752.8 56.5,752.8 55.6,752.8 54.7,752.8 53.8,752.9 52.9,752.9 52.0,752.9 51.1,752.9 50.2,752.9 49.3,752.9 48.4,752.9 47.5,752.9 46.6,752.9 45.7,752.9 44.8,752.9 43.9,752.9 43.0,752.9 42.1,752.9 41.2,752.9 40.3,753.0 39.4,753.0 38.5,753.0 37.6,753.0 36.7,753.0 35.8,753.0 34.9,753.0 34.0,753.0" fill="#00f"/>
<polyline points="34.0,730.8 34.3,745.6 34.6,719.4 34.9,747.9 35.2,728.3 35.5,733.9 35.8,749.4 36.1,736.9 36.4,743.6 36.7,727.4 37.0,754.6 37.3,751.0 37.6,747.0 37.9,765.6 38.2,750.9 38.5,756.2 38.8,743.9 39.1,749.9 39.4,740.7 39.7,739.1 40.0,752.2 40.3,734.4 40.6,740.8 40.9,757.5 41.2,757.4 41.5,749.9 41.8,743.5 42.1,735.0 42.4,730.3 42.7,758.4 43.0,742.4 43.3,729.0 43.6,748.2 43.9,755.0 44.2,749.8 44.5,760.6 44.8,730.6 45.1,745.6 45.4,741.1 45.7,725.3 46.0,742.2 46.3,748.3 46.6,737.7 46.9,726.4 47.2,746.6 47.5,736.4 47.8,738.1 48.1,749.0 48.4,730.1 48.7,755.4 49.0,753.0 49.3,758.0 49.6,738.7 49.9,761.0 50.2,740.9 50.5,738.0 50.8,766.0 51.1,767.7 51.4,769.1 51.7,756.5 52.0,749.2 52.3,739.8 52.6,759.0 52.9,759.9 53.2,762.4 53.5,742.6 53.8,739.6 54.1,753.8 54.4,760.2 54.7,765.3 55.0,737.9 55.3,749.0 55.6,762.4 55.9,745.3 56.2,749.9 56.5,730.2 56.8,751.2 57.1,758.9 57.4,755.8 57.7,759.2 58.0,753.4 58.3,740.4 58.6,759.9 58.9,741.4 59.2,761.5 59.5,733.6 59.8,757.3 60.1,732.5 60.4,737.7 60.7,735.4 61.0,748.6 61.3,733.3 61.6,742.2 61.9,731.0 62.2,742.0 62.5,747.2 62.8,735.3 63.1,752.6 63.4,740.6 63.7,749.4 64.0,743.7 64.3,733.7 64.6,745.8 64.9,735.7 65.2,740.0 65.5,722.4 65.8,728.0 66.1,715.5 66.4,744.8 66.7,721.8 67.0,726.0 67.3,726.2 67.6,737.8 67.9,759.3 68.2,760.8 68.5,742.4 68.8,749.5 69.1,748.2 69.4,754.4 69.7,744.1 70.0,746.8 70.3,754.1 70.6,751.5 70.9,741.2 71.2,745.2 71.5,744.9 71.8,736.9 72.1,739.5 72.4,741.0 72.7,740.3 73.0,737.0 73.3,742.6 73.6,754.2 73.9,746.4 74.2,747.3 74.5,746.6 74.8,741.6 75.1,754.8 75.4,748.4 75.7,744.1 76.0,730.5 76.3,745.5 76.6,736.0 76.9,732.4 77.2,743.1 77.5,750.1 77.8,730.5 78.1,743.9 78.4,734.4 78.7,720.3 79.0,746.9 79.3,727.6 79.6,724.4 79.9,743.7 80.2,719.7 80.5,741.1 80.8,723.8 81.1,731.4 81.4,726.2 81.7,747.9 82.0,734.3 82.3,754.6 82.6,744.5 82.9,748.7 83.2,745.0 83.5,740.0 83.8,745.4 84.1,765.9 84.4,741.9 84.7,769.8 85.0,763.2 85.3,749.9 85.6,759.9 85.9,751.3 86.2,751.8 86.5,756.8 86.8,740.7 87.1,756.2 87.4,771.3 87.7,745.1 88.0,756.5 88.3,742.8 88.6,731.4 88.9,752.4 89.2,721.8 89.5,731.4 89.8,755.8 90.1,732.1 90.4,752.6 90.7,745.1 91.0,752.6 91.3,745.5 91.6,735.0 91.9,747.6 92.2,719.7 92.5,732.3 92.8,728.8 93.1,731.4 93.4,720.7 93.7,727.8 94.0,744.0 94.3,744.0 94.6,764.1 94.9,763.7 95.2,777.7 95.5,776.5 95.8,772.3 96.1,760.7 96.4,774.0 96.7,750.6 97.0,739.9 97.3,765.3 97.6,747.8 97.9,754.8 98.2,746.5 98.5,750.2 98.8,731.7 99.1,739.1 99.4,756.1 99.7,753.1 100.0,739.5 100.3,767.0 100.6,740.4 100.9,753.6 101.2,741.8 101.5,760.7 101.8,745.6 102.1,738.9 102.4,732.0 102.7,732.5 103.0,728.1 103.3,737.1 103.6,731.4 103.9,747.9 104.2,748.6 104.5,746.8 104.8,745.8 105.1,756.0 105.4,761.6 105.7,732.2 106.0,737.8 106.3,748.1 106.6,739.8 106.9,758.0 107.2,747.5 107.5,749.2 107.8,750.9 108.1,745.0 108.4,765.4 108.7,761.6 109.0,758.2 109.3,737.7 109.6,748.9 109.9,756.1 110.2,737.5 110.5,745.4 110.8,734.1 111.1,737.2 111.4,744.3 111.7,753.6 112.0,757.3 112.3,772.9 112.6,752.9 112.9,742.4 113.2,767.9 113.5,739.6 113.8,736.5 114.1,762.4 114.4,751.8 114.7,734.7 115.0,725.6 115.3,732.2 115.6,731.0 115.9,750.8 116.2,738.6 116.5,729.7 116.8,760.0 117.1,749.8 117.4,730.2 117.7,726.3 118.0,733.1 118.3,715.6 118.6,730.4 118.9,730.1 119.2,713.0 119.5,744.2 119.8,750.2 120.1,760.1 120.4,757.1 120.7,759.3 121.0,741.4 121.3,735.2 121.6,734.6 121.9,761.8 122.2,748.5 122.5,757.3 122.8,735.7 123.1,748.3 123.4,725.1 123.7,728.9 124.0,733.6 124.3,744.8 124.6,747.9 124.9,748.5 125.2,749.9 125.5,758.3 125.8,774.9 126.1,759.8 126.4,774.3 126.7,748.0 127.0,758.2 127.3,760.5 127.6,759.0 127.9,744.0 128.2,744.7 128.5,761.4 128.8,749.7 129.1,747.0 129.4,730.1 129.7,730.7 130.0,736.5 130.3,733.4 130.6,760.7 130.9,726.3 131.2,736.1 131.5,722.1 131.8,738.3 132.1,716.4 132.4,715.6 132.7,716.7 133.0,724.9 133.3,736.7 133.6,747.8 133.9,732.6 134.2,735.0 134.5,754.1 134.8,749.4 135.1,725.8 135.4,744.8 135.7,740.5 136.0,714.3 136.3,727.4 136.6,711.5 136.9,714.6 137.2,726.9 137.5,732.9 137.8,736.4 138.1,744.4 138.4,737.0 138.7,758.4 139.0,741.6 139.3,764.0 139.6,749.5 139.9,740.1 140.2,734.5 140.5,744.9 140.8,740.7 141.1,748.7 141.4,743.0 141.7,726.9 142.0,752.5 142.3,725.8 142.6,752.7 142.9,752.8 143.2,756.6 143.5,749.0 143.8,733.0 144.1,741.6 144.4,741.1 144.7,746.9 145.0,738.6 145.3,749.7 145.6,736.3 145.9,743.8 146.2,752.3 146.5,749.3 146.8,737.9 147.1,764.3 147.4,750.6 147.7,750.4 148.0,729.0 148.3,744.5 148.6,736.6 148.9,739.5 149.2,710.5 149.5,718.5 149.8,715.7 150.1,724.8 150.4,714.4 150.7,712.7 151.0,728.3 151.3,737.9 151.6,732.4 151.9,755.5 152.2,736.1 152.5,732.7 152.8,750.5 153.1,737.8 153.4,729.9 153.7,729.8 154.0,751.9 154.3,753.4 154.6,744.8 154.9,736.2 155.2,754.2 155.5,740.3 155.8,746.7 156.1,754.9 156.4,748.4 156.7,742.7 157.0,761.1 157.3,730.2 157.6,742.2 157.9,721.8 158.2,724.9 158.5,730.5 158.8,758.9 159.1,751.7 159.4,757.1 159.7,727.5 160.0,746.6 160.3,734.5 160.6,729.9 160.9,735.2 161.2,719.2 161.5,725.0 161.8,716.2 162.1,721.2 162.4,728.5 162.7,719.1 163.0,726.9 163.3,735.0 163.6,739.6 163.9,751.9 164.2,746.5 164.5,743.6 164.8,752.0 165.1,725.1 165.4,718.6 165.7,725.3 166.0,714.4 166.3,726.6 166.6,726.3 166.9,711.6 167.2,733.9 167.5,733.0 167.8,735.4 168.1,760.4 168.4,765.5 168.7,751.6 169.0,755.8 169.3,785.0 169.6,759.8 169.9,778.7 170.2,761.1 170.5,760.3 170.8,765.4 171.1,776.7 171.4,744.5 171.7,749.1 172.0,767.2 172.3,756.0 172.6,752.2 172.9,774.9 173.2,750.9 173.5,766.6 173.8,774.8 174.1,767.3 174.4,763.2 174.7,760.4 175.0,759.3 175.3,736.2 175.6,743.5 175.9,746.0 176.2,745.0 176.5,742.3 176.8,741.4 177.1,714.5 177.4,725.5 177.7,731.7 178.0,750.1 178.3,739.1 178.6,737.7 178.9,732.5 179.2,744.2 179.5,761.5 179.8,735.9 180.1,740.6 180.4,745.0 180.7,750.6 181.0,742.9 181.3,758.5 181.6,732.2 181.9,740.3 182.2,743.1 182.5,744.6 182.8,739.2 183.1,711.1 183.4,730.9 183.7,725.1 184.0,715.9 184.3,700.9 184.6,704.6 184.9,723.5 185.2,699.3 185.5,705.5 185.8,702.6 186.1,719.6 186.4,707.1 186.7,698.5 187.0,710.0 187.3,711.4 187.6,726.9 187.9,715.7 188.2,729.5 188.5,724.6 188.8,737.1 189.1,732.9 189.4,723.5 189.7,729.1 190.0,730.9 190.3,747.9 190.6,725.7 190.9,736.5 191.2,740.3 191.5,735.4 191.8,739.4 192.1,736.4 192.4,734.2 192.7,745.2 193.0,736.5 193.3,750.0 193.6,756.2 193.9,737.7 194.2,744.5 194.5,764.5 194.8,762.8 195.1,760.4 195.4,726.8 195.7,752.4 196.0,755.4 196.3,755.3 196.6,751.6 196.9,752.9 197.2,756.9 197.5,754.1 197.8,761.9 198.1,751.6 198.4,740.5 198.7,732.6 199.0,756.8 199.3,746.6 199.6,722.9 199.9,740.9 200.2,719.8 200.5,728.3 200.8,715.9 201.1,707.0 201.4,702.0 201.7,692.6 202.0,686.5 202.3,680.9 202.6,676.9 202.9,698.4 203.2,686.3 203.5,673.9 203.8,688.9 204.1,691.7 204.4,692.7 204.7,686.5 205.0,698.2 205.3,717.8 205.6,708.0 205.9,718.0 206.2,739.4 206.5,722.4 206.8,745.1 207.1,741.0 207.4,754.8 207.7,743.9 208.0,751.4 208.3,745.8 208.6,762.5 208.9,762.7 209.2,750.0 209.5,758.4 209.8,747.0 210.1,747.4 210.4,748.3 210.7,727.6 211.0,753.9 211.3,737.0 211.6,745.3 211.9,739.7 212.2,767.3 212.5,755.4 212.8,771.1 213.1,756.9 213.4,760.4 213.7,757.7 214.0,746.2 214.3,733.1 214.6,751.9 214.9,754.3 215.2,728.2 215.5,727.1 215.8,737.2 216.1,731.8 216.4,754.7 216.7,747.5 217.0,754.9 217.3,765.7 217.6,762.7 217.9,762.4 218.2,761.0 218.5,747.0 218.8,742.8 219.1,727.5 219.4,731.6 219.7,748.8 220.0,763.9 220.3,752.5 220.6,740.1 220.9,748.3 221.2,767.1 221.5,745.8 221.8,746.6 222.1,750.1 222.4,762.7 222.7,772.3 223.0,752.8 223.3,767.0 223.6,762.8 223.9,756.2 224.2,755.2 224.5,754.9 224.8,725.8 225.1,726.4 225.4,703.9 225.7,709.4 226.0,710.6 226.3,710.7 226.6,686.2 226.9,672.5 227.2,674.0 227.5,660.3 227.8,645.3 228.1,655.5 228.4,664.8 228.7,669.6 229.0,678.5 229.3,667.5 229.6,676.1 229.9,684.1 230.2,706.7 230.5,728.5 230.8,715.3 231.1,740.1 231.4,736.9 231.7,718.3 232.0,731.4 232.3,737.2 232.6,743.5 232.9,721.0 233.2,748.6 233.5,752.8 233.8,741.0 234.1,749.3 234.4,775.9 234.7,758.5 235.0,757.1 235.3,771.4 235.6,750.7 235.9,761.2 236.2,755.8 236.5,760.6 236.8,761.9 237.1,763.2 237.4,756.4 237.7,772.3 238.0,771.1 238.3,774.9 238.6,758.3 238.9,766.3 239.2,754.7 239.5,747.8 239.8,758.3 240.1,767.8 240.4,762.8 240.7,745.2 241.0,743.3 241.3,762.2 241.6,759.1 241.9,763.0 242.2,736.7 242.5,758.2 242.8,741.7 243.1,735.0 243.4,737.5 243.7,760.1 244.0,759.2 244.3,730.9 244.6,739.1 244.9,751.0 245.2,724.8 245.5,720.1 245.8,715.0 246.1,737.0 246.4,711.9 246.7,703.8 247.0,712.9 247.3,688.4 247.6,694.2 247.9,671.3 248.2,659.4 248.5,653.2 248.8,639.1 249.1,630.7 249.4,654.6 249.7,652.3 250.0,638.6 250.3,647.2 250.6,653.8 250.9,638.7 251.2,653.4 251.5,659.1 251.8,643.5 252.1,653.8 252.4,686.0 252.7,695.5 253.0,689.4 253.3,722.3 253.6,730.7 253.9,722.2 254.2,728.8 254.5,725.6 254.8,739.2 255.1,728.6 255.4,743.4 255.7,745.2 256.0,743.4 256.3,726.0 256.6,746.1 256.9,752.8 257.2,735.5 257.5,755.4 257.8,766.2 258.1,747.7 258.4,774.0 258.7,776.6 259.0,766.9 259.3,771.1 259.6,749.2 259.9,760.6 260.2,768.7 260.5,739.9 260.8,768.6 261.1,751.0 261.4,773.7 261.7,772.4 262.0,780.9 262.3,767.9 262.6,769.4 262.9,783.4 263.2,752.3 263.5,752.9 263.8,780.7 264.1,778.8 264.4,753.3 264.7,784.0 265.0,763.5 265.3,785.9 265.6,787.2 265.9,757.1 266.2,755.7 266.5,764.5 266.8,783.4 267.1,775.9 267.4,759.3 267.7,771.3 268.0,749.3 268.3,747.9 268.6,739.0 268.9,762.3 269.2,754.6 269.5,739.7 269.8,728.3 270.1,747.2 270.4,720.0 270.7,704.4 271.0,700.0 271.3,697.9 271.6,687.2 271.9,651.1 272.2,666.3 272.5,643.6 272.8,610.4 273.1,624.4 273.4,616.6 273.7,601.5 274.0,563.2 274.3,571.6 274.6,569.6 274.9,576.7 275.2,561.4 275.5,548.4 275.8,582.9 276.1,590.7 276.4,584.8 276.7,581.6 277.0,621.5 277.3,632.8 277.6,653.9 277.9,633.9 278.2,659.6 278.5,664.5 278.8,668.3 279.1,698.5 279.4,693.4 279.7,690.2 280.0,701.9 280.3,733.4 280.6,734.9 280.9,731.2 281.2,756.9 281.5,747.7 281.8,774.5 282.1,780.2 282.4,761.9 282.7,778.9 283.0,783.7 283.3,780.5 283.6,774.1 283.9,774.5 284.2,766.1 284.5,769.1 284.8,749.7 285.1,735.0 285.4,739.2 285.7,743.3 286.0,735.3 286.3,739.4 286.6,756.6 286.9,750.6 287.2,754.6 287.5,773.1 287.8,779.2 288.1,781.1 288.4,765.1 288.7,777.0 289.0,782.7 289.3,758.6 289.6,759.2 289.9,773.3 290.2,757.5 290.5,751.9 290.8,755.6 291.1,739.5 291.4,751.0 291.7,734.4 292.0,736.9 292.3,733.2 292.6,732.7 292.9,721.2 293.2,727.6 293.5,729.3 293.8,711.1 294.1,723.9 294.4,712.7 294.7,683.0 295.0,661.7 295.3,669.1 295.6,631.8 295.9,612.1 296.2,593.3 296.5,580.1 296.8,528.1 297.1,505.9 297.4,485.5 297.7,464.8 298.0,429.5 298.3,426.7 298.6,412.1 298.9,407.1 299.2,383.7 299.5,382.6 299.8,414.7 300.1,418.1 300.4,430.7 300.7,451.9 301.0,477.2 301.3,484.3 301.6,525.7 301.9,552.3 302.2,580.2 302.5,612.7 302.8,626.1 303.1,666.9 303.4,670.4 303.7,678.3 304.0,687.7 304.3,722.2 304.6,719.5 304.9,753.2 305.2,736.5 305.5,746.8 305.8,773.3 306.1,759.5 306.4,774.0 306.7,768.5 307.0,744.9 307.3,747.7 307.6,752.0 307.9,768.3 308.2,749.1 308.5,754.2 308.8,754.7 309.1,749.6 309.4,765.9 309.7,741.8 310.0,747.2 310.3,767.4 310.6,759.4 310.9,754.1 311.2,746.0 311.5,734.7 311.8,741.2 312.1,754.9 312.4,736.3 312.7,730.7 313.0,739.3 313.3,731.8 313.6,732.9 313.9,731.1 314.2,722.0 314.5,711.9 314.8,726.0 315.1,719.7 315.4,736.7 315.7,714.4 316.0,724.1 316.3,735.2 316.6,720.3 316.9,723.8 317.2,706.0 317.5,711.9 317.8,734.1 318.1,722.2 318.4,707.1 318.7,705.4 319.0,705.9 319.3,697.1 319.6,684.8 319.9,641.6 320.2,615.4 320.5,587.1 320.8,504.8 321.1,433.1 321.4,308.7 321.7,180.3 322.0,64.6 322.3,-50.0 322.6,-50.0 322.9,-50.0 323.2,-50.0 323.5,-50.0 323.8,-50.0 324.1,-50.0 324.4,-50.0 324.7,-50.0 325.0,-50.0 325.3,-50.0 325.6,-50.0 325.9,-50.0 326.2,-50.0 326.5,-50.0 326.8,-50.0 327.1,-50.0 327.4,-50.0 327.7,-50.0 328.0,24.1 328.3,169.4 328.6,318.5 328.9,410.9 329.2,481.7 329.5,565.8 329.8,591.2 330.1,619.7 330.4,646.6 330.7,641.2 331.0,654.6 331.3,666.2 331.6,668.7 331.9,675.6 332.2,681.1 332.5,706.0 332.8,727.0 333.1,703.9 333.4,739.1 333.7,746.6 334.0,734.5 334.3,748.4 334.6,739.3 334.9,734.2 335.2,730.6 335.5,731.3 335.8,740.1 336.1,727.0 336.4,746.5 336.7,742.2 337.0,750.4 337.3,761.3 337.6,737.7 337.9,743.7 338.2,738.9 338.5,729.1 338.8,746.5 339.1,745.6 339.4,756.9 339.7,743.6 340.0,738.6 340.3,758.6 340.6,731.8 340.9,745.8 341.2,765.3 341.5,749.5 341.8,758.7 342.1,776.6 342.4,760.0 342.7,755.0 343.0,775.9 343.3,746.4 343.6,771.6 343.9,752.5 344.2,749.6 344.5,761.1 344.8,762.2 345.1,780.6 345.4,774.7 345.7,765.7 346.0,769.4 346.3,761.9 346.6,785.9 346.9,767.0 347.2,787.2 347.5,782.2 347.8,794.0 348.1,776.6 348.4,778.7 348.7,775.7 349.0,786.7 349.3,787.4 349.6,779.5 349.9,764.9 350.2,777.2 350.5,777.2 350.8,773.7 351.1,766.1 351.4,770.3 351.7,785.4 352.0,765.4 352.3,773.2 352.6,777.0 352.9,769.2 353.2,766.9 353.5,757.6 353.8,757.7 354.1,760.2 354.4,764.6 354.7,774.1 355.0,785.4" fill="none" stroke="#00f" stroke-width="3.6" stroke-linejoin="miter"/></g>
<g clip-path="url(#b1)"><polygon points="359.0,761.0 359.9,761.0 360.8,760.9 361.7,760.9 362.6,760.8 363.5,760.8 364.4,760.7 365.3,760.7 366.2,760.6 367.1,760.6 368.0,760.6 368.9,760.5 369.8,760.5 370.7,760.4 371.6,760.4 372.5,760.3 373.4,760.3 374.3,760.2 375.2,760.2 376.1,760.2 377.0,760.1 377.9,760.1 378.8,760.0 379.7,760.0 380.6,759.9 381.5,759.9 382.4,759.8 383.3,759.8 384.2,759.8 385.1,759.7 386.0,759.7 386.9,759.6 387.8,759.6 388.7,759.5 389.6,759.5 390.5,759.5 391.4,759.4 392.3,759.4 393.2,759.3 394.1,759.3 395.0,759.2 395.9,759.2 396.8,759.1 397.7,759.1 398.6,759.1 399.5,759.0 400.4,759.0 401.3,758.9 402.2,758.9 403.1,758.8 404.0,758.8 404.9,758.7 405.8,758.7 406.7,758.7 407.6,758.6 408.5,758.6 409.4,758.5 410.3,758.5 411.2,758.4 412.1,758.4 413.0,758.3 413.9,758.3 414.8,758.3 415.7,758.2 416.6,758.2 417.5,758.1 418.4,758.1 419.3,758.0 420.2,757.9 421.1,757.7 422.0,757.5 422.9,757.2 423.8,757.0 424.7,756.8 425.6,756.5 426.5,756.3 427.4,756.0 428.3,755.8 429.2,755.6 430.1,755.3 431.0,755.1 431.9,754.8 432.8,754.6 433.7,754.4 434.6,754.1 435.5,753.9 436.4,753.6 437.3,753.4 438.2,753.2 439.1,752.9 440.0,752.7 440.9,752.4 441.8,752.2 442.7,752.0 443.6,751.7 444.5,751.5 445.4,751.3 446.3,751.0 447.2,750.8 448.1,750.5 449.0,750.3 449.9,750.1 450.8,749.8 451.7,749.6 452.6,749.3 453.5,749.1 454.4,748.9 455.3,748.6 456.2,748.4 457.1,748.1 458.0,747.9 458.9,747.7 459.8,747.4 460.7,747.2 461.6,746.9 462.5,746.7 463.4,746.5 464.3,746.2 465.2,746.0 466.1,745.7 467.0,745.5 467.9,745.3 468.8,745.0 469.7,744.8 470.6,744.6 471.5,744.3 472.4,744.1 473.3,743.8 474.2,743.6 475.1,743.4 476.0,743.2 476.9,743.0 477.8,742.8 478.7,742.6 479.6,742.4 480.5,742.2 481.4,742.0 482.3,741.8 483.2,741.6 484.1,741.4 485.0,741.2 485.9,741.0 486.8,740.8 487.7,740.6 488.6,740.4 489.5,740.2 490.4,740.0 491.3,739.8 492.2,739.6 493.1,739.4 494.0,739.2 494.9,739.0 495.8,738.8 496.7,738.6 497.6,738.4 498.5,738.2 499.4,738.0 500.3,737.8 501.2,737.6 502.1,737.5 503.0,737.3 503.9,737.1 504.8,736.9 505.7,736.7 506.6,736.6 507.5,736.4 508.4,736.2 509.3,736.0 510.2,735.9 511.1,735.7 512.0,735.5 512.9,735.3 513.8,735.2 514.7,735.0 515.6,734.8 516.5,734.6 517.4,734.4 518.3,734.3 519.2,734.1 520.1,733.9 521.0,733.7 521.9,733.6 522.8,733.4 523.7,733.2 524.6,733.0 525.5,732.8 526.4,732.7 527.3,732.5 528.2,732.3 529.1,732.1 530.0,732.0 530.9,731.8 531.8,731.6 532.7,731.4 533.6,731.2 534.5,731.1 535.4,730.9 536.3,730.7 537.2,730.5 538.1,730.4 539.0,730.2 539.9,730.0 540.8,729.8 541.7,729.7 542.6,729.5 543.5,729.3 544.4,729.1 545.3,728.9 546.2,728.7 547.1,728.4 548.0,728.2 548.9,728.0 549.8,727.7 550.7,727.5 551.6,727.2 552.5,727.0 553.4,726.8 554.3,726.5 555.2,726.3 556.1,726.0 557.0,725.8 557.9,725.6 558.8,725.3 559.7,725.1 560.6,724.8 561.5,724.6 562.4,724.4 563.3,724.1 564.2,723.9 565.1,723.6 566.0,723.4 566.9,723.2 567.8,722.9 568.7,722.7 569.6,722.4 570.5,722.2 571.4,722.0 572.3,721.7 573.2,721.5 574.1,721.2 575.0,721.0 575.9,721.2 576.8,721.4 577.7,721.5 578.6,721.7 579.5,721.9 580.4,722.1 581.3,722.3 582.2,722.4 583.1,722.6 584.0,722.8 584.9,722.8 585.8,722.5 586.7,721.1 587.6,717.2 588.5,709.2 589.4,697.0 590.3,683.4 591.2,674.0 592.1,673.8 593.0,682.9 593.9,696.7 594.8,709.0 595.7,715.7 596.6,715.1 597.5,707.0 598.4,693.3 599.3,678.8 600.2,670.2 601.1,672.4 602.0,684.4 602.9,700.3 603.8,714.0 604.7,722.7 605.6,727.2 606.5,728.9 607.4,729.1 608.3,727.3 609.2,721.2 610.1,707.4 611.0,683.7 611.9,652.8 612.8,625.2 613.7,614.1 614.6,625.8 615.5,654.1 616.4,685.7 617.3,710.1 618.2,724.2 619.1,730.1 620.0,729.7 620.9,722.0 621.8,702.2 622.7,665.6 623.6,614.5 624.5,564.0 625.4,536.8 626.3,547.6 627.2,590.5 628.1,644.0 629.0,688.3 629.9,715.2 630.8,726.2 631.7,724.9 632.6,710.3 633.5,676.6 634.4,619.6 635.3,546.9 636.2,485.0 637.1,463.0 638.0,491.9 638.9,555.0 639.8,621.3 640.7,665.8 641.6,687.9 642.5,693.6 643.4,681.8 644.3,663.1 645.2,602.8 646.1,395.8 647.0,7.6 647.9,-59.0 648.8,-59.0 649.7,-59.0 650.6,-59.0 651.5,-59.0 652.4,-59.0 653.3,36.4 654.2,399.1 655.1,583.2 656.0,633.4 656.9,649.3 657.8,662.7 658.7,671.1 659.6,682.3 660.5,695.7 661.4,705.9 662.3,715.6 663.2,724.6 664.1,732.4 665.0,739.0 665.9,744.2 666.8,747.1 667.7,749.3 668.6,751.0 669.5,752.5 670.4,753.8 671.3,754.9 672.2,755.9 673.1,757.0 674.0,758.1 674.9,759.1 675.8,760.2 676.7,761.1 677.6,761.7 678.5,762.4 679.4,763.0 679.4,781.0 678.5,780.4 677.6,779.7 676.7,779.1 675.8,778.2 674.9,777.1 674.0,776.1 673.1,775.0 672.2,773.9 671.3,772.9 670.4,771.8 669.5,770.5 668.6,769.0 667.7,767.3 666.8,765.1 665.9,762.2 665.0,757.0 664.1,750.4 663.2,742.6 662.3,733.6 661.4,723.9 660.5,713.7 659.6,700.3 658.7,689.1 657.8,680.7 656.9,667.3 656.0,651.4 655.1,601.2 654.2,417.1 653.3,54.4 652.4,-41.0 651.5,-41.0 650.6,-41.0 649.7,-41.0 648.8,-41.0 647.9,-41.0 647.0,25.6 646.1,413.8 645.2,620.8 644.3,681.1 643.4,699.8 642.5,711.6 641.6,705.9 640.7,683.8 639.8,639.3 638.9,573.0 638.0,509.9 637.1,481.0 636.2,503.0 635.3,564.9 634.4,637.6 633.5,694.6 632.6,728.3 631.7,742.9 630.8,744.2 629.9,733.2 629.0,706.3 628.1,662.0 627.2,608.5 626.3,565.6 625.4,554.8 624.5,582.0 623.6,632.5 622.7,683.6 621.8,720.2 620.9,740.0 620.0,747.7 619.1,748.1 618.2,742.2 617.3,728.1 616.4,703.7 615.5,672.1 614.6,643.8 613.7,632.1 612.8,643.2 611.9,670.8 611.0,701.7 610.1,725.4 609.2,739.2 608.3,745.3 607.4,747.1 606.5,746.9 605.6,745.2 604.7,740.7 603.8,732.0 602.9,718.3 602.0,702.4 601.1,690.4 600.2,688.2 599.3,696.8 598.4,711.3 597.5,725.0 596.6,733.1 595.7,733.7 594.8,727.0 593.9,714.7 593.0,700.9 592.1,691.8 591.2,692.0 590.3,701.4 589.4,715.0 588.5,727.2 587.6,735.2 586.7,739.1 585.8,740.5 584.9,740.8 584.0,740.8 583.1,740.6 582.2,740.4 581.3,740.3 580.4,740.1 579.5,739.9 578.6,739.7 577.7,739.5 576.8,739.4 575.9,739.2 575.0,739.0 574.1,739.2 573.2,739.5 572.3,739.7 571.4,740.0 570.5,740.2 569.6,740.4 568.7,740.7 567.8,740.9 566.9,741.2 566.0,741.4 565.1,741.6 564.2,741.9 563.3,742.1 562.4,742.4 561.5,742.6 560.6,742.8 559.7,743.1 558.8,743.3 557.9,743.6 557.0,743.8 556.1,744.0 555.2,744.3 554.3,744.5 553.4,744.8 552.5,745.0 551.6,745.2 550.7,745.5 549.8,745.7 548.9,746.0 548.0,746.2 547.1,746.4 546.2,746.7 545.3,746.9 544.4,747.1 543.5,747.3 542.6,747.5 541.7,747.7 540.8,747.8 539.9,748.0 539.0,748.2 538.1,748.4 537.2,748.5 536.3,748.7 535.4,748.9 534.5,749.1 533.6,749.2 532.7,749.4 531.8,749.6 530.9,749.8 530.0,750.0 529.1,750.1 528.2,750.3 527.3,750.5 526.4,750.7 525.5,750.8 524.6,751.0 523.7,751.2 522.8,751.4 521.9,751.6 521.0,751.7 520.1,751.9 519.2,752.1 518.3,752.3 517.4,752.4 516.5,752.6 515.6,752.8 514.7,753.0 513.8,753.2 512.9,753.3 512.0,753.5 511.1,753.7 510.2,753.9 509.3,754.0 508.4,754.2 507.5,754.4 506.6,754.6 505.7,754.7 504.8,754.9 503.9,755.1 503.0,755.3 502.1,755.5 501.2,755.6 500.3,755.8 499.4,756.0 498.5,756.1 497.6,756.3 496.7,756.4 495.8,756.6 494.9,756.8 494.0,756.9 493.1,757.1 492.2,757.2 491.3,757.4 490.4,757.5 489.5,757.7 488.6,757.8 487.7,758.0 486.8,758.1 485.9,758.3 485.0,758.5 484.1,758.6 483.2,758.8 482.3,758.9 481.4,759.1 480.5,759.2 479.6,759.4 478.7,759.5 477.8,759.7 476.9,759.9 476.0,760.0 475.1,760.2 474.2,760.3 473.3,760.5 472.4,760.7 471.5,760.9 470.6,761.1 469.7,761.3 468.8,761.5 467.9,761.7 467.0,761.9 466.1,762.1 465.2,762.2 464.3,762.4 463.4,762.6 462.5,762.8 461.6,763.0 460.7,763.2 459.8,763.4 458.9,763.6 458.0,763.8 457.1,764.0 456.2,764.2 455.3,764.4 454.4,764.6 453.5,764.8 452.6,765.0 451.7,765.2 450.8,765.4 449.9,765.5 449.0,765.7 448.1,765.9 447.2,766.1 446.3,766.3 445.4,766.5 444.5,766.7 443.6,766.9 442.7,767.1 441.8,767.3 440.9,767.5 440.0,767.7 439.1,767.9 438.2,768.1 437.3,768.3 436.4,768.5 435.5,768.7 434.6,768.9 433.7,769.0 432.8,769.2 431.9,769.4 431.0,769.6 430.1,769.8 429.2,770.0 428.3,770.2 427.4,770.4 426.5,770.6 425.6,770.8 424.7,771.0 423.8,771.2 422.9,771.4 422.0,771.6 421.1,771.8 420.2,772.0 419.3,772.0 418.4,772.1 417.5,772.1 416.6,772.2 415.7,772.2 414.8,772.3 413.9,772.3 413.0,772.3 412.1,772.4 411.2,772.4 410.3,772.5 409.4,772.5 408.5,772.6 407.6,772.6 406.7,772.7 405.8,772.7 404.9,772.7 404.0,772.8 403.1,772.8 402.2,772.9 401.3,772.9 400.4,773.0 399.5,773.0 398.6,773.1 397.7,773.1 396.8,773.1 395.9,773.2 395.0,773.2 394.1,773.3 393.2,773.3 392.3,773.4 391.4,773.4 390.5,773.5 389.6,773.5 388.7,773.5 387.8,773.6 386.9,773.6 386.0,773.7 385.1,773.7 384.2,773.8 383.3,773.8 382.4,773.8 381.5,773.9 380.6,773.9 379.7,774.0 378.8,774.0 377.9,774.1 377.0,774.1 376.1,774.2 375.2,774.2 374.3,774.2 373.4,774.3 372.5,774.3 371.6,774.4 370.7,774.4 369.8,774.5 368.9,774.5 368.0,774.6 367.1,774.6 366.2,774.6 365.3,774.7 364.4,774.7 363.5,774.8 362.6,774.8 361.7,774.9 360.8,774.9 359.9,775.0 359.0,775.0" fill="#00f"/>
<polyline points="359.0,752.2 359.3,752.3 359.6,761.7 359.9,749.0 360.2,758.7 360.5,762.3 360.8,753.9 361.1,753.6 361.4,759.1 361.7,768.0 362.0,768.2 362.3,762.1 362.6,768.0 362.9,772.5 363.2,767.5 363.5,770.3 363.8,774.8 364.1,768.1 364.4,761.0 364.7,756.4 365.0,758.8 365.3,762.7 365.6,770.9 365.9,770.3 366.2,763.4 366.5,776.2 366.8,768.5 367.1,772.7 367.4,761.7 367.7,761.4 368.0,763.2 368.3,776.4 368.6,772.9 368.9,776.6 369.2,772.9 369.5,768.5 369.8,770.3 370.1,770.9 370.4,774.8 370.7,766.6 371.0,774.6 371.3,769.0 371.6,772.3 371.9,764.8 372.2,766.9 372.5,758.9 372.8,761.3 373.1,755.1 373.4,753.3 373.7,753.7 374.0,768.9 374.3,765.6 374.6,775.0 374.9,774.1 375.2,764.2 375.5,773.9 375.8,764.9 376.1,766.3 376.4,758.4 376.7,754.0 377.0,754.0 377.3,754.3 377.6,762.7 377.9,753.2 378.2,752.1 378.5,768.0 378.8,753.9 379.1,761.6 379.4,762.9 379.7,765.9 380.0,764.0 380.3,771.8 380.6,767.4 380.9,763.0 381.2,763.1 381.5,760.2 381.8,769.2 382.1,755.4 382.4,764.8 382.7,763.6 383.0,754.3 383.3,760.7 383.6,774.8 383.9,774.0 384.2,761.0 384.5,768.6 384.8,764.9 385.1,782.2 385.4,768.3 385.7,766.4 386.0,782.9 386.3,770.3 386.6,764.8 386.9,757.0 387.2,761.1 387.5,758.7 387.8,760.8 388.1,750.3 388.4,753.0 388.7,754.7 389.0,759.5 389.3,757.2 389.6,763.6 389.9,757.1 390.2,770.2 390.5,772.4 390.8,755.5 391.1,760.1 391.4,767.8 391.7,772.6 392.0,758.3 392.3,760.3 392.6,764.6 392.9,767.5 393.2,770.7 393.5,768.7 393.8,765.5 394.1,748.1 394.4,764.3 394.7,755.0 395.0,743.1 395.3,746.8 395.6,754.6 395.9,751.2 396.2,754.8 396.5,763.9 396.8,766.1 397.1,761.4 397.4,766.6 397.7,757.8 398.0,769.3 398.3,760.9 398.6,768.2 398.9,749.5 399.2,767.0 399.5,760.7 399.8,764.5 400.1,753.8 400.4,761.0 400.7,754.9 401.0,750.3 401.3,747.7 401.6,766.9 401.9,762.3 402.2,754.2 402.5,757.7 402.8,764.3 403.1,775.0 403.4,763.4 403.7,783.4 404.0,785.2 404.3,771.5 404.6,779.4 404.9,772.4 405.2,777.2 405.5,762.1 405.8,767.4 406.1,767.4 406.4,766.0 406.7,766.3 407.0,769.9 407.3,755.3 407.6,753.3 407.9,758.1 408.2,762.0 408.5,770.9 408.8,765.9 409.1,767.3 409.4,772.8 409.7,758.8 410.0,759.1 410.3,762.5 410.6,759.1 410.9,765.4 411.2,770.6 411.5,751.1 411.8,757.6 412.1,760.2 412.4,755.6 412.7,764.8 413.0,761.7 413.3,765.1 413.6,748.4 413.9,749.7 414.2,746.3 414.5,761.8 414.8,764.1 415.1,743.4 415.4,761.0 415.7,761.0 416.0,766.2 416.3,753.9 416.6,764.9 416.9,754.8 417.2,752.3 417.5,767.1 417.8,752.1 418.1,766.1 418.4,757.4 418.7,762.4 419.0,771.7 419.3,758.1 419.6,763.2 419.9,762.1 420.2,760.2 420.5,768.1 420.8,763.2 421.1,777.9 421.4,774.0 421.7,765.6 422.0,779.1 422.3,761.4 422.6,765.1 422.9,764.0 423.2,751.0 423.5,745.1 423.8,765.0 424.1,767.3 424.4,751.0 424.7,752.0 425.0,758.8 425.3,763.1 425.6,772.9 425.9,773.8 426.2,776.9 426.5,762.1 426.8,771.8 427.1,769.3 427.4,764.2 427.7,759.4 428.0,759.8 428.3,762.1 428.6,754.4 428.9,755.9 429.2,754.2 429.5,769.2 429.8,767.3 430.1,762.0 430.4,768.1 430.7,764.7 431.0,767.3 431.3,771.2 431.6,754.8 431.9,759.5 432.2,748.2 432.5,764.4 432.8,757.1 433.1,747.1 433.4,750.5 433.7,749.4 434.0,750.8 434.3,754.2 434.6,766.3 434.9,757.5 435.2,751.9 435.5,754.6 435.8,749.9 436.1,761.8 436.4,747.2 436.7,753.6 437.0,756.1 437.3,752.5 437.6,766.4 437.9,752.7 438.2,755.3 438.5,748.6 438.8,765.6 439.1,756.9 439.4,765.7 439.7,756.1 440.0,750.5 440.3,756.3 440.6,765.5 440.9,764.6 441.2,751.8 441.5,763.1 441.8,744.1 442.1,757.1 442.4,752.3 442.7,757.7 443.0,752.7 443.3,768.0 443.6,752.0 443.9,766.7 444.2,745.3 444.5,753.3 444.8,754.1 445.1,760.8 445.4,752.6 445.7,756.1 446.0,744.9 446.3,751.2 446.6,762.2 446.9,747.8 447.2,758.8 447.5,755.1 447.8,754.8 448.1,754.6 448.4,772.9 448.7,768.7 449.0,759.3 449.3,757.8 449.6,765.0 449.9,760.8 450.2,767.1 450.5,767.4 450.8,757.3 451.1,763.3 451.4,762.6 451.7,758.7 452.0,763.1 452.3,769.4 452.6,764.0 452.9,763.2 453.2,754.8 453.5,763.7 453.8,756.2 454.1,738.2 454.4,755.1 454.7,757.8 455.0,756.6 455.3,745.1 455.6,746.7 455.9,745.0 456.2,740.9 456.5,752.2 456.8,763.2 457.1,761.8 457.4,759.1 457.7,763.5 458.0,757.4 458.3,745.0 458.6,759.2 458.9,746.2 459.2,759.2 459.5,743.7 459.8,736.9 460.1,753.9 460.4,738.2 460.7,759.2 461.0,748.1 461.3,759.2 461.6,741.2 461.9,754.7 462.2,759.3 462.5,743.7 462.8,755.6 463.1,740.9 463.4,742.8 463.7,741.1 464.0,745.3 464.3,729.4 464.6,729.8 464.9,746.0 465.2,746.0 465.5,741.7 465.8,740.8 466.1,753.9 466.4,751.5 466.7,748.6 467.0,763.6 467.3,743.3 467.6,758.7 467.9,751.5 468.2,750.5 468.5,751.8 468.8,754.6 469.1,760.1 469.4,764.3 469.7,747.8 470.0,747.4 470.3,767.9 470.6,749.0 470.9,748.7 471.2,763.1 471.5,765.2 471.8,760.1 472.1,749.5 472.4,743.3 472.7,758.8 473.0,750.9 473.3,747.5 473.6,731.9 473.9,739.9 474.2,738.7 474.5,767.5 474.8,751.7 475.1,751.8 475.4,763.1 475.7,750.7 476.0,757.1 476.3,764.0 476.6,757.9 476.9,737.2 477.2,754.5 477.5,738.9 477.8,742.2 478.1,738.2 478.4,760.1 478.7,743.3 479.0,758.1 479.3,756.4 479.6,759.3 479.9,743.1 480.2,754.8 480.5,766.7 480.8,752.8 481.1,741.6 481.4,737.2 481.7,745.6 482.0,757.0 482.3,735.5 482.6,735.1 482.9,751.5 483.2,756.7 483.5,741.9 483.8,746.4 484.1,735.6 484.4,736.2 484.7,742.4 485.0,736.4 485.3,743.6 485.6,734.6 485.9,758.0 486.2,749.9 486.5,733.3 486.8,735.8 487.1,754.3 487.4,739.9 487.7,735.8 488.0,728.2 488.3,745.8 488.6,741.6 488.9,747.9 489.2,727.8 489.5,745.1 489.8,747.8 490.1,748.7 490.4,748.3 490.7,740.5 491.0,729.2 491.3,747.9 491.6,729.0 491.9,730.9 492.2,741.0 492.5,733.3 492.8,744.7 493.1,758.8 493.4,739.9 493.7,759.7 494.0,766.4 494.3,737.3 494.6,749.2 494.9,757.9 495.2,758.5 495.5,745.3 495.8,759.9 496.1,745.7 496.4,739.3 496.7,747.8 497.0,750.3 497.3,758.6 497.6,755.6 497.9,741.3 498.2,759.7 498.5,755.0 498.8,766.1 499.1,744.6 499.4,760.5 499.7,762.4 500.0,736.7 500.3,733.9 500.6,760.4 500.9,760.2 501.2,739.4 501.5,764.5 501.8,750.4 502.1,756.5 502.4,756.8 502.7,754.4 503.0,772.1 503.3,762.7 503.6,770.7 503.9,758.9 504.2,765.4 504.5,750.2 504.8,747.8 505.1,750.0 505.4,733.3 505.7,758.2 506.0,739.1 506.3,765.3 506.6,737.9 506.9,758.9 507.2,761.0 507.5,752.3 507.8,736.9 508.1,757.5 508.4,739.0 508.7,734.7 509.0,744.4 509.3,750.9 509.6,723.9 509.9,735.8 510.2,745.8 510.5,737.5 510.8,761.7 511.1,755.0 511.4,740.9 511.7,744.6 512.0,745.5 512.3,756.4 512.6,771.9 512.9,747.3 513.2,749.5 513.5,752.1 513.8,763.5 514.1,757.3 514.4,752.7 514.7,740.6 515.0,758.7 515.3,744.5 515.6,753.4 515.9,724.2 516.2,737.6 516.5,734.3 516.8,749.6 517.1,745.1 517.4,739.9 517.7,728.6 518.0,745.1 518.3,752.1 518.6,746.8 518.9,752.0 519.2,738.4 519.5,728.9 519.8,725.9 520.1,743.9 520.4,745.0 520.7,739.9 521.0,744.5 521.3,734.4 521.6,745.9 521.9,740.0 522.2,724.6 522.5,735.8 522.8,738.7 523.1,724.8 523.4,750.2 523.7,746.5 524.0,726.1 524.3,728.7 524.6,721.6 524.9,752.3 525.2,726.6 525.5,748.4 525.8,738.5 526.1,724.0 526.4,729.7 526.7,731.4 527.0,748.7 527.3,734.7 527.6,727.7 527.9,753.8 528.2,740.1 528.5,725.4 528.8,756.7 529.1,750.4 529.4,745.3 529.7,738.6 530.0,759.4 530.3,741.6 530.6,770.6 530.9,763.5 531.2,759.6 531.5,758.1 531.8,757.5 532.1,740.9 532.4,749.8 532.7,723.3 533.0,741.3 533.3,742.7 533.6,725.2 533.9,723.1 534.2,750.8 534.5,750.7 534.8,726.7 535.1,745.2 535.4,732.7 535.7,733.9 536.0,757.8 536.3,747.6 536.6,749.4 536.9,730.4 537.2,744.5 537.5,738.5 537.8,726.1 538.1,731.4 538.4,723.9 538.7,736.1 539.0,723.7 539.3,734.6 539.6,750.3 539.9,745.2 540.2,743.9 540.5,726.9 540.8,750.3 541.1,740.9 541.4,748.0 541.7,743.7 542.0,739.4 542.3,723.1 542.6,729.8 542.9,707.0 543.2,706.2 543.5,733.1 543.8,731.6 544.1,742.9 544.4,721.4 544.7,726.1 545.0,734.9 545.3,727.3 545.6,733.4 545.9,717.7 546.2,734.1 546.5,736.0 546.8,740.5 547.1,726.7 547.4,747.8 547.7,729.9 548.0,743.3 548.3,759.7 548.6,751.5 548.9,752.1 549.2,746.3 549.5,752.4 549.8,751.3 550.1,756.8 550.4,750.7 550.7,741.1 551.0,734.8 551.3,761.1 551.6,745.7 551.9,726.1 552.2,728.1 552.5,734.0 552.8,714.8 553.1,734.9 553.4,721.1 553.7,727.0 554.0,729.4 554.3,716.0 554.6,746.8 554.9,746.4 555.2,722.6 555.5,736.9 555.8,735.0 556.1,726.1 556.4,727.6 556.7,723.6 557.0,736.9 557.3,730.3 557.6,718.9 557.9,722.7 558.2,719.2 558.5,735.8 558.8,732.8 559.1,727.4 559.4,733.7 559.7,737.3 560.0,724.3 560.3,720.8 560.6,754.8 560.9,728.9 561.2,730.8 561.5,745.9 561.8,754.3 562.1,719.6 562.4,723.5 562.7,734.9 563.0,703.5 563.3,706.3 563.6,718.4 563.9,725.4 564.2,700.3 564.5,712.7 564.8,722.9 565.1,724.8 565.4,728.5 565.7,748.0 566.0,752.0 566.3,727.6 566.6,730.6 566.9,735.6 567.2,724.1 567.5,723.7 567.8,736.9 568.1,748.9 568.4,720.9 568.7,713.6 569.0,727.2 569.3,714.5 569.6,704.9 569.9,709.8 570.2,741.4 570.5,716.7 570.8,739.0 571.1,732.5 571.4,745.1 571.7,734.7 572.0,723.7 572.3,721.4 572.6,720.1 572.9,718.2 573.2,716.4 573.5,717.0 573.8,726.1 574.1,721.9 574.4,704.2 574.7,717.4 575.0,737.6 575.3,739.9 575.6,719.3 575.9,715.2 576.2,722.8 576.5,719.5 576.8,727.3 577.1,754.7 577.4,756.0 577.7,743.7 578.0,749.8 578.3,755.5 578.6,753.0 578.9,747.5 579.2,742.9 579.5,729.5 579.8,705.5 580.1,720.5 580.4,717.6 580.7,698.1 581.0,702.4 581.3,721.6 581.6,715.3 581.9,733.9 582.2,717.0 582.5,734.3 582.8,735.7 583.1,718.7 583.4,727.8 583.7,732.6 584.0,730.9 584.3,722.2 584.6,725.6 584.9,733.7 585.2,719.5 585.5,733.5 585.8,724.4 586.1,726.1 586.4,718.1 586.7,741.7 587.0,716.6 587.3,750.0 587.6,737.3 587.9,750.2 588.2,732.0 588.5,720.7 588.8,716.6 589.1,731.1 589.4,708.8 589.7,697.7 590.0,682.2 590.3,676.3 590.6,681.6 590.9,679.1 591.2,689.5 591.5,660.0 591.8,671.5 592.1,657.8 592.4,662.0 592.7,671.8 593.0,688.7 593.3,664.4 593.6,671.5 593.9,698.4 594.2,699.9 594.5,690.8 594.8,719.8 595.1,734.9 595.4,731.3 595.7,742.9 596.0,735.0 596.3,719.8 596.6,737.0 596.9,727.8 597.2,708.7 597.5,716.7 597.8,735.3 598.1,719.6 598.4,704.1 598.7,711.2 599.0,705.0 599.3,678.9 599.6,684.1 599.9,691.6 600.2,661.3 600.5,673.5 600.8,655.7 601.1,661.3 601.4,680.9 601.7,670.6 602.0,694.2 602.3,698.8 602.6,704.3 602.9,694.7 603.2,713.1 603.5,733.7 603.8,727.7 604.1,708.3 604.4,725.0 604.7,723.6 605.0,723.7 605.3,721.7 605.6,737.2 605.9,728.7 606.2,741.9 606.5,746.4 606.8,745.2 607.1,742.2 607.4,716.5 607.7,717.1 608.0,724.7 608.3,737.9 608.6,731.3 608.9,725.8 609.2,753.6 609.5,733.1 609.8,720.9 610.1,726.1 610.4,735.5 610.7,716.6 611.0,712.4 611.3,672.6 611.6,682.8 611.9,655.9 612.2,645.5 612.5,640.1 612.8,632.3 613.1,636.6 613.4,614.9 613.7,618.1 614.0,616.5 614.3,625.6 614.6,628.8 614.9,619.0 615.2,658.4 615.5,664.9 615.8,662.8 616.1,688.3 616.4,714.4 616.7,725.0 617.0,717.0 617.3,717.8 617.6,747.3 617.9,743.4 618.2,743.9 618.5,736.1 618.8,751.7 619.1,727.7 619.4,748.3 619.7,744.9 620.0,732.9 620.3,724.3 620.6,732.2 620.9,718.1 621.2,712.3 621.5,700.0 621.8,708.1 622.1,675.5 622.4,675.2 622.7,659.7 623.0,662.2 623.3,616.0 623.6,614.7 623.9,585.5 624.2,592.8 624.5,549.8 624.8,565.1 625.1,547.9 625.4,529.0 625.7,537.8 626.0,537.2 626.3,552.5 626.6,575.4 626.9,578.1 627.2,610.7 627.5,625.5 627.8,620.8 628.1,637.3 628.4,673.8 628.7,679.2 629.0,690.8 629.3,724.5 629.6,721.3 629.9,718.4 630.2,732.0 630.5,732.4 630.8,740.6 631.1,725.9 631.4,726.7 631.7,712.8 632.0,732.0 632.3,729.8 632.6,694.8 632.9,711.5 633.2,708.0 633.5,691.0 633.8,672.0 634.1,632.6 634.4,636.9 634.7,593.3 635.0,585.0 635.3,558.7 635.6,529.4 635.9,520.4 636.2,501.8 636.5,471.4 636.8,465.4 637.1,477.8 637.4,469.0 637.7,495.1 638.0,492.9 638.3,515.5 638.6,544.3 638.9,567.5 639.2,597.0 639.5,614.1 639.8,634.1 640.1,660.5 640.4,671.2 640.7,690.4 641.0,703.9 641.3,730.0 641.6,719.0 641.9,727.3 642.2,738.7 642.5,723.0 642.8,715.1 643.1,717.2 643.4,717.4 643.7,691.2 644.0,696.4 644.3,678.5 644.6,658.5 644.9,639.8 645.2,612.3 645.5,541.9 645.8,471.3 646.1,396.0 646.4,296.3 646.7,160.8 647.0,40.3 647.3,-50.0 647.6,-50.0 647.9,-50.0 648.2,-50.0 648.5,-50.0 648.8,-50.0 649.1,-50.0 649.4,-50.0 649.7,-50.0 650.0,-50.0 650.3,-50.0 650.6,-50.0 650.9,-50.0 651.2,-50.0 651.5,-50.0 651.8,-50.0 652.1,-50.0 652.4,-50.0 652.7,-50.0 653.0,-50.0 653.3,64.1 653.6,190.6 653.9,294.4 654.2,400.5 654.5,480.9 654.8,539.7 655.1,607.7 655.4,626.5 655.7,634.6 656.0,638.4 656.3,640.8 656.6,645.0 656.9,665.4 657.2,660.2 657.5,667.6 657.8,685.7 658.1,691.9 658.4,685.9 658.7,695.7 659.0,692.5 659.3,682.3 659.6,681.6 659.9,680.1 660.2,703.5 660.5,700.0 660.8,715.6 661.1,708.7 661.4,724.1 661.7,723.0 662.0,721.7 662.3,730.9 662.6,736.0 662.9,720.6 663.2,749.5 663.5,734.7 663.8,752.2 664.1,752.4 664.4,761.4 664.7,744.4 665.0,756.2 665.3,756.5 665.6,741.9 665.9,748.8 666.2,745.1 666.5,758.9 666.8,766.7 667.1,760.1 667.4,750.1 667.7,780.6 668.0,773.0 668.3,761.8 668.6,778.2 668.9,769.3 669.2,759.9 669.5,762.3 669.8,766.8 670.1,755.7 670.4,745.7 670.7,741.0 671.0,748.9 671.3,757.6 671.6,747.0 671.9,752.2 672.2,767.5 672.5,766.9 672.8,780.1 673.1,778.9 673.4,784.9 673.7,774.4 674.0,782.5 674.3,789.4 674.6,760.7 674.9,773.5 675.2,782.1 675.5,768.3 675.8,764.1 676.1,776.6 676.4,764.8 676.7,767.3 677.0,763.3 677.3,780.3 677.6,759.6 677.9,782.3 678.2,771.2 678.5,766.3 678.8,759.5 679.1,766.9 679.4,763.7 679.7,781.7 680.0,772.2" fill="none" stroke="#00f" stroke-width="3.6" stroke-linejoin="miter"/></g>
<g clip-path="url(#b2)"><polygon points="684.2,761.0 685.1,761.0 686.0,761.0 686.9,761.0 687.8,760.9 688.7,760.9 689.6,760.9 690.5,760.9 691.4,760.9 692.3,760.9 693.2,760.9 694.1,760.9 695.0,760.8 695.9,760.8 696.8,760.8 697.7,760.8 698.6,760.8 699.5,760.8 700.4,760.8 701.3,760.8 702.2,760.8 703.1,760.7 704.0,760.7 704.9,760.7 705.8,760.7 706.7,760.7 707.6,760.7 708.5,760.7 709.4,760.7 710.3,760.6 711.2,760.6 712.1,760.6 713.0,760.6 713.9,760.6 714.8,760.6 715.7,760.6 716.6,760.6 717.5,760.5 718.4,760.5 719.3,760.5 720.2,760.5 721.1,760.5 722.0,760.5 722.9,760.5 723.8,760.5 724.7,760.4 725.6,760.4 726.5,760.4 727.4,760.4 728.3,760.4 729.2,760.4 730.1,760.4 731.0,760.4 731.9,760.3 732.8,760.3 733.7,760.3 734.6,760.3 735.5,760.3 736.4,760.3 737.3,760.3 738.2,760.3 739.1,760.2 740.0,760.2 740.9,760.2 741.8,760.2 742.7,760.2 743.6,760.2 744.5,760.2 745.4,760.2 746.3,760.1 747.2,760.1 748.1,760.1 749.0,760.1 749.9,760.1 750.8,760.1 751.7,760.1 752.6,760.1 753.5,760.0 754.4,760.0 755.3,760.0 756.2,760.0 757.1,760.0 758.0,760.0 758.9,760.0 759.8,760.0 760.7,759.9 761.6,759.9 762.5,759.9 763.4,759.9 764.3,759.9 765.2,759.9 766.1,759.9 767.0,759.9 767.9,759.9 768.8,759.8 769.7,759.8 770.6,759.8 771.5,759.8 772.4,759.8 773.3,759.8 774.2,759.8 775.1,759.8 776.0,759.7 776.9,759.7 777.8,759.7 778.7,759.7 779.6,759.7 780.5,759.7 781.4,759.7 782.3,759.7 783.2,759.6 784.1,759.6 785.0,759.6 785.9,759.6 786.8,759.6 787.7,759.6 788.6,759.6 789.5,759.6 790.4,759.5 791.3,759.5 792.2,759.5 793.1,759.5 794.0,759.5 794.9,759.5 795.8,759.5 796.7,759.5 797.6,759.4 798.5,759.4 799.4,759.4 800.3,759.4 801.2,759.4 802.1,759.4 803.0,759.4 803.9,759.4 804.8,759.3 805.7,759.3 806.6,759.3 807.5,759.3 808.4,759.3 809.3,759.3 810.2,759.3 811.1,759.3 812.0,759.2 812.9,759.2 813.8,759.2 814.7,759.2 815.6,759.2 816.5,759.2 817.4,759.2 818.3,759.2 819.2,759.1 820.1,759.1 821.0,759.1 821.9,759.1 822.8,759.1 823.7,759.1 824.6,759.1 825.5,759.1 826.4,759.0 827.3,759.0 828.2,759.0 829.1,759.0 830.0,759.0 830.9,758.9 831.8,758.9 832.7,758.8 833.6,758.7 834.5,758.6 835.4,758.6 836.3,758.5 837.2,758.4 838.1,758.4 839.0,758.3 839.9,758.2 840.8,758.1 841.7,758.1 842.6,758.0 843.5,757.9 844.4,757.8 845.3,757.8 846.2,757.7 847.1,757.6 848.0,757.6 848.9,757.5 849.8,757.4 850.7,757.3 851.6,757.3 852.5,757.2 853.4,757.1 854.3,757.1 855.2,757.0 856.1,756.9 857.0,756.8 857.9,756.8 858.8,756.7 859.7,756.6 860.6,756.6 861.5,756.5 862.4,756.4 863.3,756.3 864.2,756.3 865.1,756.2 866.0,756.1 866.9,756.0 867.8,756.0 868.7,755.9 869.6,755.8 870.5,755.8 871.4,755.7 872.3,755.6 873.2,755.5 874.1,755.5 875.0,755.4 875.9,755.3 876.8,755.3 877.7,755.2 878.6,755.1 879.5,755.0 880.4,755.0 881.3,754.9 882.2,754.8 883.1,754.8 884.0,754.7 884.9,754.6 885.8,754.6 886.7,754.5 887.6,754.4 888.5,754.4 889.4,754.3 890.3,754.2 891.2,754.2 892.1,754.1 893.0,754.0 893.9,754.0 894.8,753.9 895.7,753.8 896.6,753.8 897.5,753.7 898.4,753.6 899.3,753.6 900.2,753.5 901.1,753.4 902.0,753.4 902.9,753.3 903.8,753.2 904.7,753.2 905.6,753.1 906.5,753.0 907.4,752.9 908.3,752.6 909.2,752.3 910.1,752.0 911.0,751.7 911.9,751.4 912.8,751.1 913.7,750.8 914.6,750.5 915.5,750.2 916.4,749.9 917.3,749.6 918.2,749.3 919.1,749.0 920.0,748.7 920.9,748.4 921.8,748.1 922.7,747.8 923.6,747.5 924.5,747.2 925.4,746.8 926.3,746.5 927.2,746.1 928.1,745.8 929.0,745.4 929.9,745.0 930.8,744.7 931.7,744.3 932.6,744.0 933.5,743.6 934.4,743.2 935.3,742.8 936.2,742.3 937.1,741.9 938.0,741.4 938.9,740.9 939.8,740.4 940.7,740.0 941.6,739.7 942.5,739.3 943.4,739.0 944.3,738.6 945.2,738.2 946.1,737.8 947.0,737.1 947.9,735.4 948.8,731.7 949.7,726.1 950.6,721.3 951.5,720.7 952.4,723.8 953.3,725.4 954.2,721.1 955.1,714.5 956.0,714.3 956.9,720.9 957.8,726.2 958.7,727.6 959.6,727.0 960.5,724.5 961.4,720.5 962.3,714.9 963.2,707.3 964.1,697.6 965.0,687.8 965.9,677.2 966.8,672.3 967.7,671.9 968.6,662.3 969.5,643.1 970.4,563.2 971.3,295.4 972.2,-56.0 973.1,-56.0 974.0,-56.0 974.9,-56.0 975.8,-56.0 976.7,-56.0 977.6,-56.0 978.5,289.3 979.4,556.2 980.3,637.1 981.2,659.9 982.1,675.4 983.0,681.4 983.9,688.6 984.8,697.3 985.7,702.5 986.6,708.1 987.5,714.5 988.4,721.0 989.3,727.5 990.2,733.0 991.1,737.5 992.0,741.3 992.9,744.6 993.8,747.4 994.7,749.9 995.6,752.1 996.5,754.1 997.4,756.0 998.3,757.9 999.2,759.8 1000.1,761.5 1001.0,763.0 1001.9,764.4 1002.8,765.8 1003.7,767.2 1004.6,768.6 1004.6,780.6 1003.7,779.2 1002.8,777.8 1001.9,776.4 1001.0,775.0 1000.1,773.5 999.2,771.8 998.3,769.9 997.4,768.0 996.5,766.1 995.6,764.1 994.7,761.9 993.8,759.4 992.9,756.6 992.0,753.3 991.1,749.5 990.2,745.0 989.3,739.5 988.4,733.0 987.5,726.5 986.6,720.1 985.7,714.5 984.8,709.3 983.9,700.6 983.0,693.4 982.1,687.4 981.2,671.9 980.3,649.1 979.4,568.2 978.5,301.3 977.6,-44.0 976.7,-44.0 975.8,-44.0 974.9,-44.0 974.0,-44.0 973.1,-44.0 972.2,-44.0 971.3,307.4 970.4,575.2 969.5,655.1 968.6,674.3 967.7,683.9 966.8,684.3 965.9,689.2 965.0,699.8 964.1,709.6 963.2,719.3 962.3,726.9 961.4,732.5 960.5,736.5 959.6,739.0 958.7,739.6 957.8,738.2 956.9,732.9 956.0,726.3 955.1,726.5 954.2,733.1 953.3,737.4 952.4,735.8 951.5,732.7 950.6,733.3 949.7,738.1 948.8,743.7 947.9,747.4 947.0,749.1 946.1,749.8 945.2,750.2 944.3,750.6 943.4,751.0 942.5,751.3 941.6,751.7 940.7,752.0 939.8,752.4 938.9,752.9 938.0,753.4 937.1,753.9 936.2,754.3 935.3,754.8 934.4,755.2 933.5,755.6 932.6,756.0 931.7,756.3 930.8,756.7 929.9,757.0 929.0,757.4 928.1,757.8 927.2,758.1 926.3,758.5 925.4,758.8 924.5,759.2 923.6,759.5 922.7,759.8 921.8,760.1 920.9,760.4 920.0,760.7 919.1,761.0 918.2,761.3 917.3,761.6 916.4,761.9 915.5,762.2 914.6,762.5 913.7,762.8 912.8,763.1 911.9,763.4 911.0,763.7 910.1,764.0 909.2,764.3 908.3,764.6 907.4,764.9 906.5,765.0 905.6,765.1 904.7,765.2 903.8,765.2 902.9,765.3 902.0,765.4 901.1,765.4 900.2,765.5 899.3,765.6 898.4,765.6 897.5,765.7 896.6,765.8 895.7,765.8 894.8,765.9 893.9,766.0 893.0,766.0 892.1,766.1 891.2,766.2 890.3,766.2 889.4,766.3 888.5,766.4 887.6,766.4 886.7,766.5 885.8,766.6 884.9,766.6 884.0,766.7 883.1,766.8 882.2,766.8 881.3,766.9 880.4,767.0 879.5,767.0 878.6,767.1 877.7,767.2 876.8,767.3 875.9,767.3 875.0,767.4 874.1,767.5 873.2,767.5 872.3,767.6 871.4,767.7 870.5,767.8 869.6,767.8 868.7,767.9 867.8,768.0 866.9,768.0 866.0,768.1 865.1,768.2 864.2,768.3 863.3,768.3 862.4,768.4 861.5,768.5 860.6,768.6 859.7,768.6 858.8,768.7 857.9,768.8 857.0,768.8 856.1,768.9 855.2,769.0 854.3,769.1 853.4,769.1 852.5,769.2 851.6,769.3 850.7,769.3 849.8,769.4 848.9,769.5 848.0,769.6 847.1,769.6 846.2,769.7 845.3,769.8 844.4,769.8 843.5,769.9 842.6,770.0 841.7,770.1 840.8,770.1 839.9,770.2 839.0,770.3 838.1,770.4 837.2,770.4 836.3,770.5 835.4,770.6 834.5,770.6 833.6,770.7 832.7,770.8 831.8,770.9 830.9,770.9 830.0,771.0 829.1,771.0 828.2,771.0 827.3,771.0 826.4,771.0 825.5,771.1 824.6,771.1 823.7,771.1 822.8,771.1 821.9,771.1 821.0,771.1 820.1,771.1 819.2,771.1 818.3,771.2 817.4,771.2 816.5,771.2 815.6,771.2 814.7,771.2 813.8,771.2 812.9,771.2 812.0,771.2 811.1,771.3 810.2,771.3 809.3,771.3 808.4,771.3 807.5,771.3 806.6,771.3 805.7,771.3 804.8,771.3 803.9,771.4 803.0,771.4 802.1,771.4 801.2,771.4 800.3,771.4 799.4,771.4 798.5,771.4 797.6,771.4 796.7,771.5 795.8,771.5 794.9,771.5 794.0,771.5 793.1,771.5 792.2,771.5 791.3,771.5 790.4,771.5 789.5,771.6 788.6,771.6 787.7,771.6 786.8,771.6 785.9,771.6 785.0,771.6 784.1,771.6 783.2,771.6 782.3,771.7 781.4,771.7 780.5,771.7 779.6,771.7 778.7,771.7 777.8,771.7 776.9,771.7 776.0,771.7 775.1,771.8 774.2,771.8 773.3,771.8 772.4,771.8 771.5,771.8 770.6,771.8 769.7,771.8 768.8,771.8 767.9,771.9 767.0,771.9 766.1,771.9 765.2,771.9 764.3,771.9 763.4,771.9 762.5,771.9 761.6,771.9 760.7,771.9 759.8,772.0 758.9,772.0 758.0,772.0 757.1,772.0 756.2,772.0 755.3,772.0 754.4,772.0 753.5,772.0 752.6,772.1 751.7,772.1 750.8,772.1 749.9,772.1 749.0,772.1 748.1,772.1 747.2,772.1 746.3,772.1 745.4,772.2 744.5,772.2 743.6,772.2 742.7,772.2 741.8,772.2 740.9,772.2 740.0,772.2 739.1,772.2 738.2,772.3 737.3,772.3 736.4,772.3 735.5,772.3 734.6,772.3 733.7,772.3 732.8,772.3 731.9,772.3 731.0,772.4 730.1,772.4 729.2,772.4 728.3,772.4 727.4,772.4 726.5,772.4 725.6,772.4 724.7,772.4 723.8,772.5 722.9,772.5 722.0,772.5 721.1,772.5 720.2,772.5 719.3,772.5 718.4,772.5 717.5,772.5 716.6,772.6 715.7,772.6 714.8,772.6 713.9,772.6 713.0,772.6 712.1,772.6 711.2,772.6 710.3,772.6 709.4,772.7 708.5,772.7 707.6,772.7 706.7,772.7 705.8,772.7 704.9,772.7 704.0,772.7 703.1,772.7 702.2,772.8 701.3,772.8 700.4,772.8 699.5,772.8 698.6,772.8 697.7,772.8 696.8,772.8 695.9,772.8 695.0,772.8 694.1,772.9 693.2,772.9 692.3,772.9 691.4,772.9 690.5,772.9 689.6,772.9 688.7,772.9 687.8,772.9 686.9,773.0 686.0,773.0 685.1,773.0 684.2,773.0" fill="#00f"/>
<polyline points="684.2,751.6 684.5,753.8 684.8,765.6 685.1,762.5 685.4,753.8 685.7,762.1 686.0,764.0 686.3,758.9 686.6,771.6 686.9,760.8 687.2,767.9 687.5,771.5 687.8,770.8 688.1,774.6 688.4,777.7 688.7,780.5 689.0,764.7 689.3,770.3 689.6,769.4 689.9,760.6 690.2,754.9 690.5,775.1 690.8,762.9 691.1,764.6 691.4,777.4 691.7,770.6 692.0,766.9 692.3,770.6 692.6,753.3 692.9,764.9 693.2,757.1 693.5,751.3 693.8,763.9 694.1,771.6 694.4,760.2 694.7,771.7 695.0,767.5 695.3,778.6 695.6,779.6 695.9,769.5 696.2,781.2 696.5,776.6 696.8,775.7 697.1,777.0 697.4,768.3 697.7,774.2 698.0,776.7 698.3,762.0 698.6,777.4 698.9,768.5 699.2,770.3 699.5,763.4 699.8,773.0 700.1,762.7 700.4,772.5 700.7,758.3 701.0,762.1 701.3,757.6 701.6,761.3 701.9,752.6 702.2,753.0 702.5,766.6 702.8,768.6 703.1,767.0 703.4,776.5 703.7,765.0 704.0,780.0 704.3,767.4 704.6,783.8 704.9,776.6 705.2,775.5 705.5,781.6 705.8,777.3 706.1,777.0 706.4,762.4 706.7,769.8 707.0,764.9 707.3,767.7 707.6,767.8 707.9,779.2 708.2,762.7 708.5,763.6 708.8,764.9 709.1,769.5 709.4,769.7 709.7,763.1 710.0,752.4 710.3,759.6 710.6,763.8 710.9,751.5 711.2,765.5 711.5,761.0 711.8,767.2 712.1,770.0 712.4,771.5 712.7,770.0 713.0,772.1 713.3,766.0 713.6,772.4 713.9,764.3 714.2,770.4 714.5,769.9 714.8,773.4 715.1,764.6 715.4,756.4 715.7,766.0 716.0,759.1 716.3,769.0 716.6,761.3 716.9,760.5 717.2,770.6 717.5,760.1 717.8,760.3 718.1,761.5 718.4,766.1 718.7,759.7 719.0,769.3 719.3,777.3 719.6,770.1 719.9,773.6 720.2,778.1 720.5,776.1 720.8,774.8 721.1,777.4 721.4,778.5 721.7,767.2 722.0,771.6 722.3,768.2 722.6,766.0 722.9,771.3 723.2,765.8 723.5,771.3 723.8,769.9 724.1,759.4 724.4,765.6 724.7,763.9 725.0,769.1 725.3,755.9 725.6,757.3 725.9,764.1 726.2,761.9 726.5,766.6 726.8,759.1 727.1,755.0 727.4,768.4 727.7,753.5 728.0,750.9 728.3,754.6 728.6,757.9 728.9,758.8 729.2,769.4 729.5,781.6 729.8,768.9 730.1,777.4 730.4,784.0 730.7,788.6 731.0,790.5 731.3,772.5 731.6,779.4 731.9,785.4 732.2,767.9 732.5,777.8 732.8,769.1 733.1,779.2 733.4,781.1 733.7,772.0 734.0,760.2 734.3,760.2 734.6,767.1 734.9,775.7 735.2,763.7 735.5,772.4 735.8,766.9 736.1,763.4 736.4,771.0 736.7,762.1 737.0,762.6 737.3,769.6 737.6,763.6 737.9,769.5 738.2,764.1 738.5,756.1 738.8,761.6 739.1,769.8 739.4,763.0 739.7,770.1 740.0,749.8 740.3,756.0 740.6,764.0 740.9,762.1 741.2,760.3 741.5,763.3 741.8,768.8 742.1,767.3 742.4,767.0 742.7,769.8 743.0,774.2 743.3,769.5 743.6,778.0 743.9,777.8 744.2,781.3 744.5,774.7 744.8,764.5 745.1,772.8 745.4,777.7 745.7,772.2 746.0,771.8 746.3,766.4 746.6,765.1 746.9,772.2 747.2,758.9 747.5,773.7 747.8,772.9 748.1,773.6 748.4,756.5 748.7,755.9 749.0,770.6 749.3,760.7 749.6,757.2 749.9,758.1 750.2,763.3 750.5,753.3 750.8,760.1 751.1,764.7 751.4,767.6 751.7,754.8 752.0,772.2 752.3,765.2 752.6,765.4 752.9,768.0 753.2,762.0 753.5,775.3 753.8,763.7 754.1,771.7 754.4,766.3 754.7,776.9 755.0,782.9 755.3,781.9 755.6,765.1 755.9,772.0 756.2,774.8 756.5,758.7 756.8,761.3 757.1,766.7 757.4,767.4 757.7,762.6 758.0,767.5 758.3,768.5 758.6,762.8 758.9,769.6 759.2,768.4 759.5,771.5 759.8,769.0 760.1,766.7 760.4,770.8 760.7,782.7 761.0,769.0 761.3,768.4 761.6,765.3 761.9,780.7 762.2,781.7 762.5,765.0 762.8,764.2 763.1,762.1 763.4,770.2 763.7,768.7 764.0,776.8 764.3,765.4 764.6,779.5 764.9,772.2 765.2,779.3 765.5,779.3 765.8,782.4 766.1,774.5 766.4,777.2 766.7,776.4 767.0,769.1 767.3,775.2 767.6,782.4 767.9,780.2 768.2,760.4 768.5,771.0 768.8,762.3 769.1,757.1 769.4,756.3 769.7,768.6 770.0,772.2 770.3,764.2 770.6,762.8 770.9,766.3 771.2,773.4 771.5,772.8 771.8,759.5 772.1,762.5 772.4,775.1 772.7,767.2 773.0,770.2 773.3,772.2 773.6,769.8 773.9,771.9 774.2,768.3 774.5,762.0 774.8,761.1 775.1,776.5 775.4,755.8 775.7,768.1 776.0,770.7 776.3,756.3 776.6,751.5 776.9,757.4 777.2,755.3 777.5,757.8 777.8,757.9 778.1,768.7 778.4,753.5 778.7,771.2 779.0,754.3 779.3,773.1 779.6,761.7 779.9,769.3 780.2,754.5 780.5,762.9 780.8,767.2 781.1,765.6 781.4,768.5 781.7,754.8 782.0,759.8 782.3,764.1 782.6,752.7 782.9,770.0 783.2,762.7 783.5,760.6 783.8,761.9 784.1,771.5 784.4,759.8 784.7,763.8 785.0,764.4 785.3,762.8 785.6,772.4 785.9,769.9 786.2,776.9 786.5,774.5 786.8,767.7 787.1,769.6 787.4,766.5 787.7,767.9 788.0,774.4 788.3,774.7 788.6,763.3 788.9,762.1 789.2,769.2 789.5,770.0 789.8,751.6 790.1,750.6 790.4,763.7 790.7,757.8 791.0,755.6 791.3,758.9 791.6,761.1 791.9,746.5 792.2,765.0 792.5,766.2 792.8,756.9 793.1,760.1 793.4,758.9 793.7,767.0 794.0,761.0 794.3,768.6 794.6,776.8 794.9,769.3 795.2,775.8 795.5,762.9 795.8,776.5 796.1,760.3 796.4,761.3 796.7,770.5 797.0,761.4 797.3,756.9 797.6,756.2 797.9,770.9 798.2,756.5 798.5,757.7 798.8,776.0 799.1,773.1 799.4,765.2 799.7,761.6 800.0,774.8 800.3,773.2 800.6,770.1 800.9,766.3 801.2,764.6 801.5,771.4 801.8,759.1 802.1,747.4 802.4,745.3 802.7,754.3 803.0,756.9 803.3,755.7 803.6,760.9 803.9,755.4 804.2,760.5 804.5,761.6 804.8,766.2 805.1,765.2 805.4,776.8 805.7,762.5 806.0,761.8 806.3,769.9 806.6,762.3 806.9,760.4 807.2,773.3 807.5,771.9 807.8,759.3 808.1,758.4 808.4,765.8 808.7,767.3 809.0,762.4 809.3,766.5 809.6,767.5 809.9,770.4 810.2,759.2 810.5,766.9 810.8,754.3 811.1,753.2 811.4,751.1 811.7,750.6 812.0,762.4 812.3,752.9 812.6,755.1 812.9,755.8 813.2,752.6 813.5,751.7 813.8,756.3 814.1,772.0 814.4,763.7 814.7,767.0 815.0,765.3 815.3,776.1 815.6,776.1 815.9,770.2 816.2,773.5 816.5,771.3 816.8,774.7 817.1,775.3 817.4,774.8 817.7,780.9 818.0,781.1 818.3,762.4 818.6,767.9 818.9,759.6 819.2,765.5 819.5,773.2 819.8,770.1 820.1,767.5 820.4,758.1 820.7,771.9 821.0,767.6 821.3,761.1 821.6,770.4 821.9,754.8 822.2,757.7 822.5,769.9 822.8,755.7 823.1,758.0 823.4,766.4 823.7,771.5 824.0,769.5 824.3,758.8 824.6,764.8 824.9,773.9 825.2,767.1 825.5,765.1 825.8,762.1 826.1,767.7 826.4,781.5 826.7,763.8 827.0,773.5 827.3,780.1 827.6,774.9 827.9,765.3 828.2,771.7 828.5,760.2 828.8,767.6 829.1,763.1 829.4,776.1 829.7,776.9 830.0,775.2 830.3,768.3 830.6,776.9 830.9,780.1 831.2,767.3 831.5,769.8 831.8,761.8 832.1,760.2 832.4,771.1 832.7,756.9 833.0,765.9 833.3,754.4 833.6,765.1 833.9,767.5 834.2,772.1 834.5,763.6 834.8,766.3 835.1,768.9 835.4,776.8 835.7,779.4 836.0,765.1 836.3,768.3 836.6,761.3 836.9,763.5 837.2,772.4 837.5,775.7 837.8,776.0 838.1,757.8 838.4,764.5 838.7,774.2 839.0,767.8 839.3,765.8 839.6,775.9 839.9,779.7 840.2,766.9 840.5,775.7 840.8,769.1 841.1,769.3 841.4,774.4 841.7,766.5 842.0,774.8 842.3,763.1 842.6,757.9 842.9,765.6 843.2,758.2 843.5,754.4 843.8,772.8 844.1,755.9 844.4,753.6 844.7,758.7 845.0,747.4 845.3,761.7 845.6,746.5 845.9,745.4 846.2,764.6 846.5,755.6 846.8,764.6 847.1,764.5 847.4,762.3 847.7,749.9 848.0,763.9 848.3,754.2 848.6,754.7 848.9,772.7 849.2,762.9 849.5,771.8 849.8,766.2 850.1,769.9 850.4,765.9 850.7,771.1 851.0,760.0 851.3,766.2 851.6,764.2 851.9,758.7 852.2,756.3 852.5,754.5 852.8,758.1 853.1,748.8 853.4,752.7 853.7,756.9 854.0,749.9 854.3,748.2 854.6,747.0 854.9,762.1 855.2,765.4 855.5,766.8 855.8,766.9 856.1,767.7 856.4,759.5 856.7,778.5 857.0,772.4 857.3,779.1 857.6,769.2 857.9,782.5 858.2,770.9 858.5,787.4 858.8,783.4 859.1,780.1 859.4,783.7 859.7,775.9 860.0,782.0 860.3,773.5 860.6,776.7 860.9,774.9 861.2,769.5 861.5,771.3 861.8,760.7 862.1,757.0 862.4,760.5 862.7,772.0 863.0,766.5 863.3,759.9 863.6,756.0 863.9,754.8 864.2,760.9 864.5,765.6 864.8,769.1 865.1,761.9 865.4,769.5 865.7,768.9 866.0,769.5 866.3,758.5 866.6,760.3 866.9,752.9 867.2,760.2 867.5,748.8 867.8,757.5 868.1,752.5 868.4,760.5 868.7,757.2 869.0,756.4 869.3,768.3 869.6,770.5 869.9,774.6 870.2,767.3 870.5,774.7 870.8,769.5 871.1,762.5 871.4,765.9 871.7,767.9 872.0,757.3 872.3,763.1 872.6,763.7 872.9,748.3 873.2,753.7 873.5,756.8 873.8,764.1 874.1,761.9 874.4,763.2 874.7,752.5 875.0,755.9 875.3,751.6 875.6,762.8 875.9,762.2 876.2,755.8 876.5,769.1 876.8,757.1 877.1,757.0 877.4,766.8 877.7,775.4 878.0,783.9 878.3,776.6 878.6,770.4 878.9,779.7 879.2,767.4 879.5,781.9 879.8,770.5 880.1,763.9 880.4,762.6 880.7,774.4 881.0,774.1 881.3,758.5 881.6,772.9 881.9,768.1 882.2,755.2 882.5,747.0 882.8,746.3 883.1,749.7 883.4,743.2 883.7,740.8 884.0,742.8 884.3,755.3 884.6,739.1 884.9,758.1 885.2,749.9 885.5,756.8 885.8,752.9 886.1,762.1 886.4,747.2 886.7,748.7 887.0,754.1 887.3,754.6 887.6,752.3 887.9,752.7 888.2,750.0 888.5,759.7 888.8,767.5 889.1,769.0 889.4,760.4 889.7,771.7 890.0,771.8 890.3,758.9 890.6,755.8 890.9,771.1 891.2,774.8 891.5,770.5 891.8,777.3 892.1,767.4 892.4,767.7 892.7,757.1 893.0,760.7 893.3,769.4 893.6,751.1 893.9,750.2 894.2,747.2 894.5,756.0 894.8,758.5 895.1,757.1 895.4,764.5 895.7,760.8 896.0,759.7 896.3,758.3 896.6,755.6 896.9,746.1 897.2,745.7 897.5,756.2 897.8,747.6 898.1,752.9 898.4,758.8 898.7,759.8 899.0,754.7 899.3,757.6 899.6,756.7 899.9,768.1 900.2,769.2 900.5,756.7 900.8,758.3 901.1,753.7 901.4,760.5 901.7,752.2 902.0,762.2 902.3,749.6 902.6,757.6 902.9,758.7 903.2,765.7 903.5,762.5 903.8,767.5 904.1,759.9 904.4,746.5 904.7,751.4 905.0,758.5 905.3,750.3 905.6,756.7 905.9,747.2 906.2,760.3 906.5,757.2 906.8,770.1 907.1,753.2 907.4,757.9 907.7,763.6 908.0,754.4 908.3,754.0 908.6,749.1 908.9,742.9 909.2,747.2 909.5,759.0 909.8,757.5 910.1,748.4 910.4,755.8 910.7,758.7 911.0,758.6 911.3,743.4 911.6,744.9 911.9,759.1 912.2,744.2 912.5,752.9 912.8,748.7 913.1,752.7 913.4,736.9 913.7,755.4 914.0,757.0 914.3,747.3 914.6,759.9 914.9,749.3 915.2,769.8 915.5,763.2 915.8,771.1 916.1,772.4 916.4,756.0 916.7,771.5 917.0,753.9 917.3,752.5 917.6,756.0 917.9,750.1 918.2,757.1 918.5,747.2 918.8,755.2 919.1,756.9 919.4,759.9 919.7,747.2 920.0,744.2 920.3,749.8 920.6,751.3 920.9,757.8 921.2,753.9 921.5,754.1 921.8,754.3 922.1,765.5 922.4,765.1 922.7,754.1 923.0,758.1 923.3,753.3 923.6,757.7 923.9,752.0 924.2,745.1 924.5,751.0 924.8,752.7 925.1,746.5 925.4,756.5 925.7,742.7 926.0,742.7 926.3,756.5 926.6,753.6 926.9,756.7 927.2,759.9 927.5,750.0 927.8,755.5 928.1,751.9 928.4,749.5 928.7,750.3 929.0,761.0 929.3,749.8 929.6,752.5 929.9,753.6 930.2,756.0 930.5,743.2 930.8,753.0 931.1,738.3 931.4,743.6 931.7,743.8 932.0,746.1 932.3,745.6 932.6,746.2 932.9,734.1 933.2,739.1 933.5,745.7 933.8,738.2 934.1,745.3 934.4,739.6 934.7,740.7 935.0,744.2 935.3,752.6 935.6,735.6 935.9,739.6 936.2,740.0 936.5,742.7 936.8,738.9 937.1,757.7 937.4,740.4 937.7,746.5 938.0,754.7 938.3,746.4 938.6,742.4 938.9,743.9 939.2,746.1 939.5,743.4 939.8,746.7 940.1,745.9 940.4,739.1 940.7,755.0 941.0,757.4 941.3,749.5 941.6,740.0 941.9,756.9 942.2,746.3 942.5,746.9 942.8,744.1 943.1,757.7 943.4,752.2 943.7,742.4 944.0,741.2 944.3,739.0 944.6,735.1 944.9,737.7 945.2,741.8 945.5,722.8 945.8,739.1 946.1,740.8 946.4,730.6 946.7,748.3 947.0,747.9 947.3,745.5 947.6,733.2 947.9,738.2 948.2,741.6 948.5,734.0 948.8,720.5 949.1,730.7 949.4,720.8 949.7,715.0 950.0,716.2 950.3,710.1 950.6,714.5 950.9,707.0 951.2,726.7 951.5,709.4 951.8,714.8 952.1,715.9 952.4,721.3 952.7,721.8 953.0,735.7 953.3,724.3 953.6,742.1 953.9,730.5 954.2,742.1 954.5,728.2 954.8,721.5 955.1,735.1 955.4,720.2 955.7,731.0 956.0,733.3 956.3,720.3 956.6,722.8 956.9,728.5 957.2,735.6 957.5,736.9 957.8,730.5 958.1,733.0 958.4,739.6 958.7,729.0 959.0,746.3 959.3,747.3 959.6,735.4 959.9,744.5 960.2,745.9 960.5,742.1 960.8,727.5 961.1,723.3 961.4,722.2 961.7,716.6 962.0,721.3 962.3,723.1 962.6,717.3 962.9,721.6 963.2,709.2 963.5,705.4 963.8,694.5 964.1,709.0 964.4,700.2 964.7,704.4 965.0,701.6 965.3,680.1 965.6,689.9 965.9,685.1 966.2,689.5 966.5,671.6 966.8,684.1 967.1,682.7 967.4,676.5 967.7,670.3 968.0,682.1 968.3,662.2 968.6,664.3 968.9,651.2 969.2,652.3 969.5,639.5 969.8,627.4 970.1,608.2 970.4,569.2 970.7,484.2 971.0,418.5 971.3,301.7 971.6,164.0 971.9,34.7 972.2,-50.0 972.5,-50.0 972.8,-50.0 973.1,-50.0 973.4,-50.0 973.7,-50.0 974.0,-50.0 974.3,-50.0 974.6,-50.0 974.9,-50.0 975.2,-50.0 975.5,-50.0 975.8,-50.0 976.1,-50.0 976.4,-50.0 976.7,-50.0 977.0,-50.0 977.3,-50.0 977.6,-50.0 977.9,20.9 978.2,157.1 978.5,297.6 978.8,409.7 979.1,503.0 979.4,566.3 979.7,614.6 980.0,625.6 980.3,638.5 980.6,669.9 980.9,679.6 981.2,668.7 981.5,696.7 981.8,700.5 982.1,695.0 982.4,701.9 982.7,714.1 983.0,699.4 983.3,711.7 983.6,709.9 983.9,710.5 984.2,701.8 984.5,721.8 984.8,716.9 985.1,722.9 985.4,722.9 985.7,716.4 986.0,729.3 986.3,720.4 986.6,735.3 986.9,722.6 987.2,715.0 987.5,723.3 987.8,721.9 988.1,738.8 988.4,722.8 988.7,740.3 989.0,719.1 989.3,723.5 989.6,729.1 989.9,742.6 990.2,739.8 990.5,735.9 990.8,737.4 991.1,750.7 991.4,734.7 991.7,752.1 992.0,742.4 992.3,752.3 992.6,757.1 992.9,746.5 993.2,739.8 993.5,740.3 993.8,738.6 994.1,732.8 994.4,739.0 994.7,743.3 995.0,736.1 995.3,753.2 995.6,756.3 995.9,757.3 996.2,764.2 996.5,758.0 996.8,776.8 997.1,763.0 997.4,764.5 997.7,766.3 998.0,771.5 998.3,778.6 998.6,755.7 998.9,760.2 999.2,762.0 999.5,766.3 999.8,757.7 1000.1,750.1 1000.4,746.6 1000.7,759.5 1001.0,769.4 1001.3,770.6 1001.6,765.6 1001.9,753.9 1002.2,752.1 1002.5,751.5 1002.8,758.7 1003.1,767.1 1003.4,758.9 1003.7,772.8 1004.0,766.5 1004.3,781.4 1004.6,776.0 1004.9,783.7 1005.2,772.5" fill="none" stroke="#00f" stroke-width="3.6" stroke-linejoin="miter"/></g>
<rect x="69.25" y="445.50" width="163.00" height="150.30" fill="#fff" stroke="#222" stroke-width="1.1"/>
<line x1="96.42" y1="595.80" x2="96.42" y2="591.80" stroke="#222" stroke-width="1.1"/>
<line x1="123.58" y1="595.80" x2="123.58" y2="588.80" stroke="#222" stroke-width="1.1"/>
<line x1="150.75" y1="595.80" x2="150.75" y2="591.80" stroke="#222" stroke-width="1.1"/>
<line x1="177.92" y1="595.80" x2="177.92" y2="588.80" stroke="#222" stroke-width="1.1"/>
<line x1="205.08" y1="595.80" x2="205.08" y2="591.80" stroke="#222" stroke-width="1.1"/>
<polyline points="69.50,535.80 80.00,535.50 91.00,534.00 100.00,526.00 108.00,510.00 116.00,490.00 120.00,481.00 123.20,477.60 127.00,479.00 131.00,486.00 135.00,493.00 142.00,510.00 147.00,517.50 150.60,519.20 154.00,516.00 158.00,505.00 162.00,490.00 168.00,462.00 172.00,451.00 175.50,447.80 179.00,450.00 183.00,461.00 188.00,478.00 192.00,488.00 195.80,493.00 199.00,491.00 204.00,482.00 209.30,477.60 214.00,481.00 220.00,490.00 226.00,496.00 232.00,499.00" fill="none" stroke="#00f" stroke-width="3.2" stroke-dasharray="8.5,3.8" stroke-dashoffset="2.76" stroke-linejoin="round"/>
<polyline points="69.50,591.20 90.00,590.00 105.00,589.00 112.00,588.30 118.50,587.00 124.00,585.00 128.00,582.00 133.00,578.00 138.00,574.00 143.00,570.00 148.20,568.00 153.00,568.80 157.00,570.00 162.00,571.60 166.00,572.00 169.00,570.50 172.00,568.00 176.00,563.00 180.00,558.00 185.00,552.00 190.00,547.00 194.00,543.50 198.00,541.00 206.50,538.60 215.00,537.60 232.00,537.00" fill="none" stroke="#00f" stroke-width="3.2" stroke-linejoin="round"/>
<text transform="translate(52.16,616.59) scale(1.1100,1)" font-size="21.27" style="font-family:'Liberation Sans',sans-serif">532</text>
<text transform="translate(207.84,616.59) scale(1.1338,1)" font-size="21.27" style="font-family:'Liberation Sans',sans-serif">538</text>
<text transform="translate(67.20,553.59) rotate(-90) scale(0.9303,1)" font-size="31.86" style="font-family:'Liberation Sans',sans-serif">XAS</text>
<rect x="433.50" y="447.80" width="163.20" height="150.60" fill="#fff" stroke="#222" stroke-width="1.1"/>
<line x1="453.90" y1="598.40" x2="453.90" y2="594.40" stroke="#222" stroke-width="1.1"/>
<line x1="474.30" y1="598.40" x2="474.30" y2="591.40" stroke="#222" stroke-width="1.1"/>
<line x1="494.70" y1="598.40" x2="494.70" y2="594.40" stroke="#222" stroke-width="1.1"/>
<line x1="515.10" y1="598.40" x2="515.10" y2="591.40" stroke="#222" stroke-width="1.1"/>
<line x1="535.50" y1="598.40" x2="535.50" y2="594.40" stroke="#222" stroke-width="1.1"/>
<line x1="555.90" y1="598.40" x2="555.90" y2="591.40" stroke="#222" stroke-width="1.1"/>
<line x1="576.30" y1="598.40" x2="576.30" y2="594.40" stroke="#222" stroke-width="1.1"/>
<polyline points="433.50,516.90 440.20,513.80 449.80,511.00 455.00,505.00 460.00,490.00 465.00,470.00 470.00,455.00 474.80,450.20 479.00,453.00 484.00,468.00 490.00,488.00 496.00,503.00 501.00,509.00 506.90,511.00 513.00,507.00 518.00,502.00 523.60,497.80 528.30,487.00 533.00,476.00 539.00,468.00 545.00,470.00 551.00,478.00 556.90,490.70 561.00,495.00 566.40,497.80 572.00,493.00 578.00,488.00 584.00,484.50 590.20,481.20 596.70,482.40" fill="none" stroke="#00f" stroke-width="3.2" stroke-dasharray="8.5,3.8" stroke-dashoffset="6.00" stroke-linejoin="round"/>
<polyline points="433.50,591.90 436.00,589.50 441.40,588.30 452.10,583.60 456.00,579.00 459.30,572.90 463.00,560.00 466.40,540.70 471.20,528.80 476.00,519.00 480.20,515.20 485.00,517.00 490.20,525.20 495.00,538.00 499.80,552.60 504.50,559.80 508.00,557.00 512.90,552.60 514.00,544.30 519.00,539.00 524.80,534.80 530.00,538.00 535.50,540.70 539.00,545.50 546.70,552.60 554.00,549.00 561.70,545.50 570.00,540.00 578.30,534.80 587.00,531.00 596.70,527.60" fill="none" stroke="#00f" stroke-width="3.2" stroke-linejoin="round"/>
<text transform="translate(416.67,616.59) scale(1.0912,1)" font-size="21.27" style="font-family:'Liberation Sans',sans-serif">530</text>
<text transform="translate(573.04,616.59) scale(1.1309,1)" font-size="21.27" style="font-family:'Liberation Sans',sans-serif">538</text>
<text transform="translate(429.00,551.59) rotate(-90) scale(0.9387,1)" font-size="31.57" style="font-family:'Liberation Sans',sans-serif">XAS</text>
<rect x="743.30" y="446.00" width="163.10" height="149.80" fill="#fff" stroke="#222" stroke-width="1.1"/>
<line x1="763.69" y1="595.80" x2="763.69" y2="591.80" stroke="#222" stroke-width="1.1"/>
<line x1="784.07" y1="595.80" x2="784.07" y2="588.80" stroke="#222" stroke-width="1.1"/>
<line x1="804.46" y1="595.80" x2="804.46" y2="591.80" stroke="#222" stroke-width="1.1"/>
<line x1="824.85" y1="595.80" x2="824.85" y2="588.80" stroke="#222" stroke-width="1.1"/>
<line x1="845.24" y1="595.80" x2="845.24" y2="591.80" stroke="#222" stroke-width="1.1"/>
<line x1="865.62" y1="595.80" x2="865.62" y2="588.80" stroke="#222" stroke-width="1.1"/>
<line x1="886.01" y1="595.80" x2="886.01" y2="591.80" stroke="#222" stroke-width="1.1"/>
<polyline points="743.30,515.10 750.00,512.00 759.60,509.20 764.80,503.20 769.80,488.20 774.80,468.20 779.80,453.20 784.60,448.40 788.80,451.20 793.80,466.20 799.80,486.20 805.80,501.20 810.80,507.20 816.70,509.20 822.80,505.20 827.80,500.20 833.40,496.00 838.10,485.20 842.80,474.20 848.80,466.20 854.80,468.20 860.80,476.20 866.70,488.90 870.80,493.20 876.20,496.00 881.80,491.20 887.80,486.20 893.80,482.70 900.00,479.40 906.50,480.60" fill="none" stroke="#00f" stroke-width="3.2" stroke-dasharray="8.5,3.8" stroke-dashoffset="6.00" stroke-linejoin="round"/>
<polyline points="743.30,590.10 745.80,587.70 751.20,586.50 761.90,581.80 765.80,577.20 769.10,571.10 772.80,558.20 776.20,538.90 781.00,527.00 785.80,517.20 790.00,513.40 794.80,515.20 800.00,523.40 804.80,536.20 809.60,550.80 814.30,558.00 817.80,555.20 822.70,550.80 823.80,542.50 828.80,537.20 834.60,533.00 839.80,536.20 845.30,538.90 848.80,543.70 856.50,550.80 863.80,547.20 871.50,543.70 879.80,538.20 888.10,533.00 896.80,529.20 906.50,525.80" fill="none" stroke="#00f" stroke-width="3.2" stroke-linejoin="round"/>
<text transform="translate(727.66,616.59) scale(1.1030,1)" font-size="21.27" style="font-family:'Liberation Sans',sans-serif">530</text>
<text transform="translate(883.35,616.59) scale(1.1190,1)" font-size="21.27" style="font-family:'Liberation Sans',sans-serif">538</text>
<text transform="translate(741.20,551.38) rotate(-90) scale(0.9364,1)" font-size="31.43" style="font-family:'Liberation Sans',sans-serif">XAS</text>
<line x1="124.40" y1="391.00" x2="124.40" y2="453.50" stroke="red" stroke-width="1.8"/><polygon points="124.40,474.00 115.90,444.00 124.40,453.50 132.90,444.00" fill="red"/>
<line x1="148.20" y1="722.00" x2="148.20" y2="589.20" stroke="blue" stroke-width="1.8"/><polygon points="148.20,568.70 139.70,598.70 148.20,589.20 156.70,598.70" fill="blue"/>
<line x1="474.70" y1="391.00" x2="474.70" y2="427.10" stroke="red" stroke-width="1.8"/><polygon points="474.70,447.60 466.20,417.60 474.70,427.10 483.20,417.60" fill="red"/>
<line x1="480.70" y1="742.00" x2="480.70" y2="541.00" stroke="blue" stroke-width="1.8"/><polygon points="480.70,520.50 472.20,550.50 480.70,541.00 489.20,550.50" fill="blue"/>
<line x1="850.80" y1="391.00" x2="850.80" y2="442.80" stroke="red" stroke-width="1.8"/><polygon points="850.80,463.30 842.30,433.30 850.80,442.80 859.30,433.30" fill="red"/>
<line x1="836.10" y1="760.00" x2="836.10" y2="554.00" stroke="blue" stroke-width="1.8"/><polygon points="836.10,533.50 827.60,563.50 836.10,554.00 844.60,563.50" fill="blue"/>
<rect x="35.00" y="3.50" width="319.00" height="774.00" fill="none" stroke="#000" stroke-width="2"/>
<path d="M35.00,100.25h9M354.00,100.25h-9M35.00,197.00h18M354.00,197.00h-18M35.00,293.75h9M354.00,293.75h-9M35.00,390.50h18M354.00,390.50h-18M35.00,487.25h9M354.00,487.25h-9M35.00,584.00h18M354.00,584.00h-18M35.00,680.75h9M354.00,680.75h-9M64.00,777.50v-9M93.00,777.50v-18M122.00,777.50v-9M151.00,777.50v-18M180.00,777.50v-9M209.00,777.50v-18M238.00,777.50v-9M267.00,777.50v-18M296.00,777.50v-9M325.00,777.50v-18" stroke="#000" stroke-width="1.6" fill="none"/>
<text x="317.89" y="805.52" font-size="27.89" style="font-family:'Liberation Sans',sans-serif">0</text>
<polygon fill="#000" points="269.30,805.60 271.90,805.60 271.90,786.00 270.00,786.00 265.20,789.40 265.20,792.00 269.30,791.00"/>
<text x="201.78" y="805.80" font-size="28.29" style="font-family:'Liberation Sans',sans-serif">2</text>
<text x="144.03" y="805.52" font-size="27.89" style="font-family:'Liberation Sans',sans-serif">3</text>
<text x="85.69" y="806.09" font-size="29.12" style="font-family:'Liberation Sans',sans-serif">4</text>
<text x="27.92" y="805.52" font-size="28.29" style="font-family:'Liberation Sans',sans-serif">5</text>
<rect x="360.00" y="3.50" width="319.00" height="774.00" fill="none" stroke="#000" stroke-width="2"/>
<path d="M360.00,100.25h9M679.00,100.25h-9M360.00,197.00h18M679.00,197.00h-18M360.00,293.75h9M679.00,293.75h-9M360.00,390.50h18M679.00,390.50h-18M360.00,487.25h9M679.00,487.25h-9M360.00,584.00h18M679.00,584.00h-18M360.00,680.75h9M679.00,680.75h-9M389.00,777.50v-9M418.00,777.50v-18M447.00,777.50v-9M476.00,777.50v-18M505.00,777.50v-9M534.00,777.50v-18M563.00,777.50v-9M592.00,777.50v-18M621.00,777.50v-9M650.00,777.50v-18" stroke="#000" stroke-width="1.6" fill="none"/>
<text x="642.89" y="805.52" font-size="27.89" style="font-family:'Liberation Sans',sans-serif">0</text>
<polygon fill="#000" points="594.30,805.60 596.90,805.60 596.90,786.00 595.00,786.00 590.20,789.40 590.20,792.00 594.30,791.00"/>
<text x="526.78" y="805.80" font-size="28.29" style="font-family:'Liberation Sans',sans-serif">2</text>
<text x="469.03" y="805.52" font-size="27.89" style="font-family:'Liberation Sans',sans-serif">3</text>
<text x="410.69" y="806.09" font-size="29.12" style="font-family:'Liberation Sans',sans-serif">4</text>
<text x="352.92" y="805.52" font-size="28.29" style="font-family:'Liberation Sans',sans-serif">5</text>
<rect x="685.20" y="3.50" width="319.00" height="774.00" fill="none" stroke="#000" stroke-width="2"/>
<path d="M685.20,100.25h9M1004.20,100.25h-9M685.20,197.00h18M1004.20,197.00h-18M685.20,293.75h9M1004.20,293.75h-9M685.20,390.50h18M1004.20,390.50h-18M685.20,487.25h9M1004.20,487.25h-9M685.20,584.00h18M1004.20,584.00h-18M685.20,680.75h9M1004.20,680.75h-9M714.20,777.50v-9M743.20,777.50v-18M772.20,777.50v-9M801.20,777.50v-18M830.20,777.50v-9M859.20,777.50v-18M888.20,777.50v-9M917.20,777.50v-18M946.20,777.50v-9M975.20,777.50v-18" stroke="#000" stroke-width="1.6" fill="none"/>
<text x="968.09" y="805.52" font-size="27.89" style="font-family:'Liberation Sans',sans-serif">0</text>
<polygon fill="#000" points="919.50,805.60 922.10,805.60 922.10,786.00 920.20,786.00 915.40,789.40 915.40,792.00 919.50,791.00"/>
<text x="851.98" y="805.80" font-size="28.29" style="font-family:'Liberation Sans',sans-serif">2</text>
<text x="794.23" y="805.52" font-size="27.89" style="font-family:'Liberation Sans',sans-serif">3</text>
<text x="735.89" y="806.09" font-size="29.12" style="font-family:'Liberation Sans',sans-serif">4</text>
<text x="678.12" y="805.52" font-size="28.29" style="font-family:'Liberation Sans',sans-serif">5</text>
<text transform="translate(55.81,44.87) scale(1.0110,1)" font-size="28.72" style="font-family:'Liberation Sans',sans-serif">(</text>
<text transform="translate(67.60,46.87) scale(0.8450,1)" font-size="32.55" style="font-family:'Liberation Sans',sans-serif">a</text>
<text transform="translate(87.11,44.87) scale(1.0043,1)" font-size="28.72" style="font-family:'Liberation Sans',sans-serif">)</text>
<text transform="translate(110.47,46.98) scale(1.0586,1)" font-size="31.57" style="font-family:'Liberation Sans',sans-serif">Water</text>
<text transform="translate(380.16,43.35) scale(0.9472,1)" font-size="28.83" style="font-family:'Liberation Sans',sans-serif">(</text>
<text transform="translate(391.23,45.20) scale(1.1181,1)" font-size="31.51" style="font-family:'Liberation Sans',sans-serif">b</text>
<text transform="translate(412.14,43.35) scale(0.8938,1)" font-size="28.83" style="font-family:'Liberation Sans',sans-serif">)</text>
<text transform="translate(437.40,46.89) scale(0.9334,1)" font-size="31.41" style="font-family:'Liberation Sans',sans-serif">ACA</text>
<text transform="translate(507.29,47.08) scale(0.9429,1)" font-size="31.97" style="font-family:'Liberation Sans',sans-serif">O</text>
<text transform="translate(530.63,52.87) scale(0.9026,1)" font-size="32.54" style="font-family:'Liberation Sans',sans-serif">C</text>
<text transform="translate(704.79,45.15) scale(0.9872,1)" font-size="28.83" style="font-family:'Liberation Sans',sans-serif">(</text>
<text transform="translate(715.81,47.09) scale(1.0277,1)" font-size="31.45" style="font-family:'Liberation Sans',sans-serif">c</text>
<text transform="translate(734.74,45.15) scale(0.8938,1)" font-size="28.83" style="font-family:'Liberation Sans',sans-serif">)</text>
<text transform="translate(761.90,46.89) scale(0.9381,1)" font-size="31.41" style="font-family:'Liberation Sans',sans-serif">ACA</text>
<text transform="translate(831.68,47.08) scale(0.9521,1)" font-size="31.97" style="font-family:'Liberation Sans',sans-serif">O</text>
<text transform="translate(855.67,53.00) scale(0.9478,1)" font-size="32.03" style="font-family:'Liberation Sans',sans-serif">H</text>
<text transform="translate(395.15,834.50) scale(1.0398,1)" font-size="33.04" style="font-family:'Liberation Sans',sans-serif">Energy loss (eV)</text>
<text transform="translate(23.10,564.10) rotate(-90) scale(0.9457,1)" font-size="33.04" style="font-family:'Liberation Sans',sans-serif">RIXS intensity (arb. units)</text>
</svg></body></html>
